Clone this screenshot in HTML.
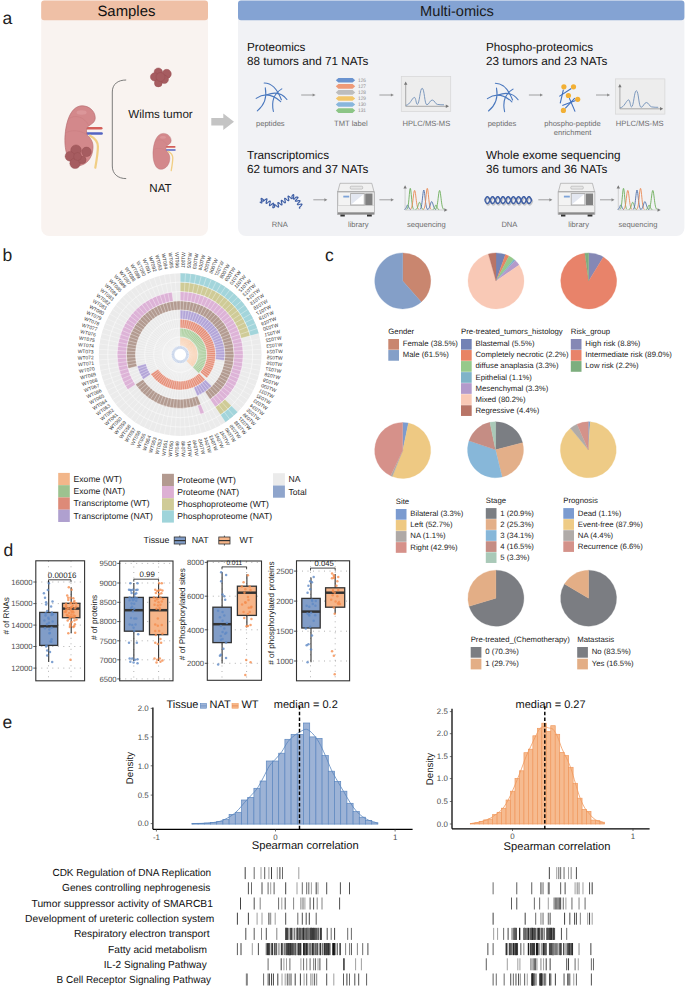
<!DOCTYPE html>
<html><head><meta charset="utf-8"><style>
html,body{margin:0;padding:0;background:#fff;width:685px;height:992px;overflow:hidden}
svg{display:block;text-rendering:geometricPrecision}
text{font-family:"Liberation Sans",sans-serif}
</style></head><body>
<svg width="685" height="992" viewBox="0 0 685 992" font-family="Liberation Sans, sans-serif">
<rect width="685" height="992" fill="#fff"/>
<text x="2.6" y="24.3" font-size="17.5" fill="#222">a</text>
<path d="M41.2,3.5 a3,3 0 0 1 3,-3 h160.8 a3,3 0 0 1 3,3 V228 a8,8 0 0 1 -8,8 H49.2 a8,8 0 0 1 -8,-8 Z" fill="#F9F3F0"/>
<path d="M41.2,3.5 a3,3 0 0 1 3,-3 h160.8 a3,3 0 0 1 3,3 V17.3 a3,3 0 0 1 -3,3 H44.2 a3,3 0 0 1 -3,-3 Z" fill="#EFC0A6"/>
<text x="126.4" y="15.9" font-size="14.9" text-anchor="middle" fill="#111">Samples</text>
<path d="M238,3.5 a3,3 0 0 1 3,-3 h440.4 a3,3 0 0 1 3,3 V228 a8,8 0 0 1 -8,8 H246 a8,8 0 0 1 -8,-8 Z" fill="#F1F2F5"/>
<path d="M238,3.5 a3,3 0 0 1 3,-3 h440.4 a3,3 0 0 1 3,3 V17.3 a3,3 0 0 1 -3,3 H241 a3,3 0 0 1 -3,-3 Z" fill="#84A3D3"/>
<text x="457" y="15.9" font-size="14.6" text-anchor="middle" fill="#1a1a1a">Multi-omics</text>
<path d="M211.3,118 h12 v-4.5 l10.7,8.2 l-10.7,8.2 v-4.5 h-12 Z" fill="#C4C4C4"/>
<g transform="translate(64.6,105.5) scale(1.0)"><path d="M22.5,22.8 L36.6,22.8" stroke="#D45F5A" stroke-width="2.6" stroke-linecap="round"/><path d="M22.5,28.1 L37,28.1" stroke="#5364C2" stroke-width="2.5" stroke-linecap="round"/><path d="M25.5,30.2 C31,33 33.3,36 33.3,41 C33.3,47 32,55 30.7,62.2" fill="none" stroke="#F1CE84" stroke-width="2.2" stroke-linecap="round"/><path d="M17.6,0.3 C24,0.3 30.3,5 30.6,12 C30.9,17 26,19 23.2,21 C21.6,23 21.6,27.5 22.6,29.4 C25,32 28.6,35 28.4,42 C28.1,52 22,60.2 13,60.2 C5,60.2 0.3,48 0.3,35 C0.3,20 5,0.3 17.6,0.3 Z" fill="#D3888B" stroke="#B86D71" stroke-width="0.7"/><path d="M4.5,13 C10,9 20,11 24,20" fill="none" stroke="#C27579" stroke-width="0.6" opacity="0.55"/><path d="M1.5,27 C8,24 16,25 22,29" fill="none" stroke="#C27579" stroke-width="0.6" opacity="0.55"/><ellipse cx="17" cy="7" rx="5" ry="2.2" fill="#DE9DA0" opacity="0.7"/><circle cx="11.4" cy="44.7" r="5.3" fill="#A65C60" stroke="#924B4F" stroke-width="0.4"/><circle cx="21.9" cy="46.4" r="4.8" fill="#A65C60" stroke="#924B4F" stroke-width="0.4"/><circle cx="5.3" cy="50.8" r="4.8" fill="#A65C60" stroke="#924B4F" stroke-width="0.4"/><circle cx="10.5" cy="57.8" r="5.3" fill="#A65C60" stroke="#924B4F" stroke-width="0.4"/><circle cx="17.6" cy="54.3" r="3.9" fill="#A65C60" stroke="#924B4F" stroke-width="0.4"/><circle cx="13" cy="51" r="4" fill="#A65C60" stroke="#924B4F" stroke-width="0.4"/></g>
<circle cx="158.3" cy="72.1" r="4.2" fill="#A65C60" stroke="#94494E" stroke-width="0.4"/>
<circle cx="166.7" cy="73.9" r="4.6" fill="#A65C60" stroke="#94494E" stroke-width="0.4"/>
<circle cx="154.6" cy="76.9" r="4.2" fill="#A65C60" stroke="#94494E" stroke-width="0.4"/>
<circle cx="164.3" cy="79.4" r="4.2" fill="#A65C60" stroke="#94494E" stroke-width="0.4"/>
<circle cx="158.3" cy="83" r="3.9" fill="#A65C60" stroke="#94494E" stroke-width="0.4"/>
<circle cx="160.5" cy="77" r="4.5" fill="#A65C60" stroke="#94494E" stroke-width="0.4"/>
<g transform="translate(152.8,133.2) scale(0.6)"><path d="M22.5,22.8 L36.6,22.8" stroke="#D45F5A" stroke-width="2.6" stroke-linecap="round"/><path d="M22.5,28.1 L37,28.1" stroke="#5364C2" stroke-width="2.5" stroke-linecap="round"/><path d="M25.5,30.2 C31,33 33.3,36 33.3,41 C33.3,47 32,55 30.7,62.2" fill="none" stroke="#F1CE84" stroke-width="2.2" stroke-linecap="round"/><path d="M17.6,0.3 C24,0.3 30.3,5 30.6,12 C30.9,17 26,19 23.2,21 C21.6,23 21.6,27.5 22.6,29.4 C25,32 28.6,35 28.4,42 C28.1,52 22,60.2 13,60.2 C5,60.2 0.3,48 0.3,35 C0.3,20 5,0.3 17.6,0.3 Z" fill="#D3888B" stroke="#B86D71" stroke-width="0.7"/><path d="M4.5,13 C10,9 20,11 24,20" fill="none" stroke="#C27579" stroke-width="0.6" opacity="0.55"/><path d="M1.5,27 C8,24 16,25 22,29" fill="none" stroke="#C27579" stroke-width="0.6" opacity="0.55"/><ellipse cx="17" cy="7" rx="5" ry="2.2" fill="#DE9DA0" opacity="0.7"/></g>
<path d="M126.2,80 C118,80 112.3,84 112.3,92 V166 C112.3,174 118,178.6 126.2,178.6" fill="none" stroke="#6E6E6E" stroke-width="0.9"/>
<text x="160.5" y="118" font-size="11.6" text-anchor="middle" fill="#1a1a1a">Wilms tumor</text>
<text x="160.5" y="191.6" font-size="11.6" text-anchor="middle" fill="#1a1a1a">NAT</text>
<text x="247" y="51.2" font-size="11.7" fill="#111">Proteomics</text>
<text x="247" y="65.0" font-size="11.7" fill="#111">88 tumors and 71 NATs</text>
<text x="486" y="51.2" font-size="11.7" fill="#111">Phospho-proteomics</text>
<text x="486" y="65.0" font-size="11.7" fill="#111">23 tumors and 23 NATs</text>
<text x="247" y="159.3" font-size="11.7" fill="#111">Transcriptomics</text>
<text x="247" y="173.10000000000002" font-size="11.7" fill="#111">62 tumors and 37 NATs</text>
<text x="486" y="159.3" font-size="11.7" fill="#111">Whole exome sequencing</text>
<text x="486" y="173.10000000000002" font-size="11.7" fill="#111">36 tumors and 36 NATs</text>
<text x="270.3" y="125.7" font-size="7.6" text-anchor="middle" fill="#6e6e6e">peptides</text>
<text x="350.9" y="125.7" font-size="7.6" text-anchor="middle" fill="#6e6e6e">TMT label</text>
<text x="426.4" y="125.7" font-size="7.6" text-anchor="middle" fill="#6e6e6e">HPLC/MS-MS</text>
<text x="502" y="125.7" font-size="7.6" text-anchor="middle" fill="#6e6e6e">peptides</text>
<text x="572.5" y="125.7" font-size="7.6" text-anchor="middle" fill="#6e6e6e">phospho-peptide</text>
<text x="572.5" y="134.8" font-size="7.6" text-anchor="middle" fill="#6e6e6e">enrichment</text>
<text x="639.7" y="125.7" font-size="7.6" text-anchor="middle" fill="#6e6e6e">HPLC/MS-MS</text>
<text x="279.7" y="226.8" font-size="7.6" text-anchor="middle" fill="#6e6e6e">RNA</text>
<text x="358.3" y="226.8" font-size="7.6" text-anchor="middle" fill="#6e6e6e">library</text>
<text x="426.4" y="226.8" font-size="7.6" text-anchor="middle" fill="#6e6e6e">sequencing</text>
<text x="509.4" y="226.8" font-size="7.6" text-anchor="middle" fill="#6e6e6e">DNA</text>
<text x="578.6" y="226.8" font-size="7.6" text-anchor="middle" fill="#6e6e6e">library</text>
<text x="638" y="226.8" font-size="7.6" text-anchor="middle" fill="#6e6e6e">sequencing</text>
<line x1="301.2" y1="95" x2="313.6" y2="95" stroke="#8a8a8a" stroke-width="0.8"/><path d="M315.6,95 l-3,-1.6 v3.2 Z" fill="#8a8a8a"/>
<line x1="379.4" y1="95" x2="391.9" y2="95" stroke="#8a8a8a" stroke-width="0.8"/><path d="M393.9,95 l-3,-1.6 v3.2 Z" fill="#8a8a8a"/>
<line x1="528.9" y1="95" x2="541" y2="95" stroke="#8a8a8a" stroke-width="0.8"/><path d="M543,95 l-3,-1.6 v3.2 Z" fill="#8a8a8a"/>
<line x1="596" y1="95" x2="608.1" y2="95" stroke="#8a8a8a" stroke-width="0.8"/><path d="M610.1,95 l-3,-1.6 v3.2 Z" fill="#8a8a8a"/>
<line x1="313.3" y1="199.8" x2="325.4" y2="199.8" stroke="#8a8a8a" stroke-width="0.8"/><path d="M327.4,199.8 l-3,-1.6 v3.2 Z" fill="#8a8a8a"/>
<line x1="379.4" y1="199.8" x2="391.9" y2="199.8" stroke="#8a8a8a" stroke-width="0.8"/><path d="M393.9,199.8 l-3,-1.6 v3.2 Z" fill="#8a8a8a"/>
<line x1="538.3" y1="199.8" x2="550.4" y2="199.8" stroke="#8a8a8a" stroke-width="0.8"/><path d="M552.4,199.8 l-3,-1.6 v3.2 Z" fill="#8a8a8a"/>
<line x1="600" y1="199.8" x2="612.5" y2="199.8" stroke="#8a8a8a" stroke-width="0.8"/><path d="M614.5,199.8 l-3,-1.6 v3.2 Z" fill="#8a8a8a"/>
<g transform="translate(0,0)" fill="none" stroke="#4A78BE" stroke-width="1.1" stroke-linecap="round"><path d="M264.2,83 Q275,83 281.4,99.8"/><path d="M265.3,87.8 Q268,102 257.3,110.8"/><path d="M256.2,98.4 Q268,90 280.7,101.6"/><path d="M273.4,111.5 Q270,96 281.8,88.9"/><path d="M266.8,94.7 Q280,90 286.9,99.5"/></g>
<g transform="translate(231.2,0.2)" fill="none" stroke="#4A78BE" stroke-width="1.1" stroke-linecap="round"><path d="M264.2,83 Q275,83 281.4,99.8"/><path d="M265.3,87.8 Q268,102 257.3,110.8"/><path d="M256.2,98.4 Q268,90 280.7,101.6"/><path d="M273.4,111.5 Q270,96 281.8,88.9"/><path d="M266.8,94.7 Q280,90 286.9,99.5"/></g>
<path d="M335.8,80.30 l2.6,-2.3 h14.2 l2.6,2.3 l-2.6,2.3 h-14.2 Z" fill="#6A93CF"/>
<text x="358" y="82.10" font-size="5" fill="#8a8a8a" textLength="8" lengthAdjust="spacingAndGlyphs">126</text>
<path d="M335.8,86.36 l2.6,-2.3 h14.2 l2.6,2.3 l-2.6,2.3 h-14.2 Z" fill="#EE9A78"/>
<text x="358" y="88.16" font-size="5" fill="#8a8a8a" textLength="8" lengthAdjust="spacingAndGlyphs">127</text>
<path d="M335.8,92.42 l2.6,-2.3 h14.2 l2.6,2.3 l-2.6,2.3 h-14.2 Z" fill="#BDBDBD"/>
<text x="358" y="94.22" font-size="5" fill="#8a8a8a" textLength="8" lengthAdjust="spacingAndGlyphs">128</text>
<path d="M335.8,98.48 l2.6,-2.3 h14.2 l2.6,2.3 l-2.6,2.3 h-14.2 Z" fill="#F2C66A"/>
<text x="358" y="100.28" font-size="5" fill="#8a8a8a" textLength="8" lengthAdjust="spacingAndGlyphs">129</text>
<path d="M335.8,104.54 l2.6,-2.3 h14.2 l2.6,2.3 l-2.6,2.3 h-14.2 Z" fill="#88B6DC"/>
<text x="358" y="106.34" font-size="5" fill="#8a8a8a" textLength="8" lengthAdjust="spacingAndGlyphs">130</text>
<path d="M335.8,110.60 l2.6,-2.3 h14.2 l2.6,2.3 l-2.6,2.3 h-14.2 Z" fill="#8CC586"/>
<text x="358" y="112.40" font-size="5" fill="#8a8a8a" textLength="8" lengthAdjust="spacingAndGlyphs">131</text>
<g transform="translate(0,0)"><rect x="401.3" y="76.4" width="49.4" height="35.2" fill="#EDEDED" stroke="#D6D6D6" stroke-width="0.7"/><path d="M405.7,84 V106.3 H446" fill="none" stroke="#8A8A8A" stroke-width="0.7"/><path d="M405.7,81.5 l-1.7,3.2 h3.4 Z M449,106.3 l-3.2,-1.7 v3.4 Z" fill="#777"/><path d="M405.9,105.3 C410,105 412,98 414.2,97.4 C416,97 416,104.4 417.3,104.4 C419.5,104.4 420,88.2 422.1,88.2 C424.5,88.2 424.5,104.8 426.9,104.8 C429,104.8 430,100 432.2,100 C434.5,100 435.5,104.4 437.4,104.4 C440,104.8 442,104.8 444,104.8" fill="none" stroke="#7090B8" stroke-width="0.9"/></g>
<g transform="translate(214.2,2.5)"><rect x="401.3" y="76.4" width="49.4" height="35.2" fill="#EDEDED" stroke="#D6D6D6" stroke-width="0.7"/><path d="M405.7,84 V106.3 H446" fill="none" stroke="#8A8A8A" stroke-width="0.7"/><path d="M405.7,81.5 l-1.7,3.2 h3.4 Z M449,106.3 l-3.2,-1.7 v3.4 Z" fill="#777"/><path d="M405.9,105.3 C410,105 412,98 414.2,97.4 C416,97 416,104.4 417.3,104.4 C419.5,104.4 420,88.2 422.1,88.2 C424.5,88.2 424.5,104.8 426.9,104.8 C429,104.8 430,100 432.2,100 C434.5,100 435.5,104.4 437.4,104.4 C440,104.8 442,104.8 444,104.8" fill="none" stroke="#7090B8" stroke-width="0.9"/></g>
<line x1="563.4" y1="89.7" x2="560.2" y2="103.4" stroke="#3F6FBE" stroke-width="1.1"/>
<line x1="571.3" y1="88.5" x2="559.3" y2="96.4" stroke="#3F6FBE" stroke-width="1.1"/>
<line x1="569.3" y1="98.1" x2="575.1" y2="111.6" stroke="#3F6FBE" stroke-width="1.1"/>
<line x1="574.8" y1="98.1" x2="565.2" y2="108.4" stroke="#3F6FBE" stroke-width="1.1"/>
<line x1="562.3" y1="105.4" x2="575.7" y2="100.5" stroke="#3F6FBE" stroke-width="1.1"/>
<circle cx="563.9" cy="86.8" r="2.6" fill="#F2B035"/>
<circle cx="573.5" cy="86.8" r="2.6" fill="#F2B035"/>
<circle cx="568.4" cy="95.5" r="2.6" fill="#F2B035"/>
<circle cx="577.7" cy="99.3" r="2.6" fill="#F2B035"/>
<circle cx="563.4" cy="110.4" r="2.6" fill="#F2B035"/>
<path d="M259.80,201.80 L260.65,202.52 L261.34,203.00 L261.77,203.04 L261.89,202.61 L261.76,201.75 L261.48,200.67 L261.21,199.60 L261.10,198.79 L261.26,198.41 L261.73,198.52 L262.45,199.04 L263.30,199.78 L264.14,200.48 L262.75,200.88 L262.93,201.23 L263.42,201.10 L264.18,200.57 L265.06,199.85 L265.91,199.18 L266.57,198.81 L266.93,198.88 L266.97,199.43 L266.76,200.37 L266.43,201.47 L266.16,202.49 L266.09,203.20 L266.33,203.45 L266.89,203.23 L267.68,202.65 L268.58,201.91 L269.40,201.29 L270.00,200.99 L270.29,201.17 L270.27,201.81 L270.03,202.80 L269.70,203.90 L269.46,204.88 L269.45,205.50 L269.75,205.66 L270.37,205.35 L271.19,204.71 L272.09,203.98 L272.88,203.41 L273.42,203.20 L273.65,203.47 L273.57,204.20 L273.29,205.23 L272.97,206.33 L272.77,207.25 L272.82,207.79 L273.19,207.84 L273.85,207.45 L274.71,206.78 L274.63,206.04 L274.47,205.15 L274.56,204.67 L274.96,204.67 L275.64,205.11 L276.48,205.82 L277.34,206.55 L278.05,207.05 L278.51,207.14 L278.65,206.74 L278.53,205.91 L278.25,204.83 L277.97,203.75 L277.85,202.91 L277.99,202.51 L278.45,202.59 L279.16,203.09 L280.02,203.82 L280.86,204.53 L281.54,204.98 L281.94,204.98 L282.04,204.50 L281.88,203.61 L281.59,202.51 L281.33,201.46 L281.24,200.68 L281.44,200.36 L281.94,200.52 L282.69,201.08 L283.56,201.83 L284.38,202.51 L285.02,202.89 L285.37,202.81 L285.42,202.25 L285.22,201.31 L284.93,200.20 L284.68,199.17 L284.64,198.47 L284.89,198.23 L285.44,198.47 L286.22,199.08 L287.09,199.83 L287.90,200.47 L288.49,200.78 L288.79,200.62 L288.79,199.98 L288.57,199.00 L288.27,197.88 L288.05,196.90 L288.05,196.27 L288.35,196.11 L288.95,196.43 L289.75,197.07 L290.63,197.83 L291.40,198.43 L291.95,198.66 L292.19,198.42 L292.15,197.71 L291.90,196.68 L292.30,195.53 L292.98,194.85 L293.47,194.58 L293.72,194.84 L293.76,195.58 L293.65,196.64 L293.51,197.77 L293.46,198.70 L293.61,199.21 L293.98,199.20 L294.57,198.70 L295.30,197.90 L296.06,197.05 L297.50,197.14 L297.99,197.26 L297.97,197.66 L297.48,198.33 L296.73,199.16 L295.96,199.99 L295.44,200.68 L295.36,201.12 L295.80,201.26 L296.68,201.16 L297.80,200.91 L298.89,200.68 L299.69,200.62 L300.02,200.82 L299.85,201.32 L299.26,202.05 L298.47,202.89 L297.75,203.70 L297.35,204.32 L297.43,204.67 L298.02,204.73 L298.99,204.56 L300.13,204.31 L301.15,204.11 L301.83,204.13 L302.00,204.42 L301.69,204.99 L301.01,205.77 L300.21,206.62 L299.56,207.39 L299.30,207.93 L299.54,208.19 L300.27,208.17" fill="none" stroke="#3F5FA5" stroke-width="1.15" stroke-linejoin="round"/>
<g><path d="M484.80,200.10 L485.03,200.58 L485.27,201.05 L485.50,201.50 L485.74,201.93 L485.97,202.31 L486.21,202.65 L486.44,202.95 L486.68,203.18 L486.91,203.35 L487.15,203.46 L487.38,203.50 L487.61,203.47 L487.85,203.38 L488.08,203.21 L488.32,202.99 L488.55,202.71 L488.79,202.38 L489.02,202.00 L489.26,201.58 L489.49,201.13 L489.72,200.66 L489.96,200.18 L490.19,199.70 L490.43,199.23 L490.66,198.78 L490.90,198.35 L491.13,197.95 L491.37,197.60 L491.60,197.30 L491.84,197.06 L492.07,196.87 L492.30,196.75 L492.54,196.70 L492.77,196.72 L493.01,196.80 L493.24,196.95 L493.48,197.17 L493.71,197.44 L493.95,197.76 L494.18,198.13 L494.41,198.55 L494.65,198.99 L494.88,199.45 L495.12,199.93 L495.35,200.41 L495.59,200.89 L495.82,201.35 L496.06,201.78 L496.29,202.18 L496.53,202.54 L496.76,202.85 L496.99,203.10 L497.23,203.30 L497.46,203.43 L497.70,203.49 L497.93,203.49 L498.17,203.42 L498.40,203.28 L498.64,203.08 L498.87,202.81 L499.10,202.50 L499.34,202.13 L499.57,201.73 L499.81,201.29 L500.04,200.83 L500.28,200.35 L500.51,199.87 L500.75,199.39 L500.98,198.93 L501.22,198.49 L501.45,198.09 L501.68,197.72 L501.92,197.40 L502.15,197.14 L502.39,196.93 L502.62,196.79 L502.86,196.71 L503.09,196.71 L503.33,196.77 L503.56,196.89 L503.79,197.08 L504.03,197.34 L504.26,197.64 L504.50,198.00 L504.73,198.40 L504.97,198.83 L505.20,199.29 L505.44,199.76 L505.67,200.24 L505.91,200.72 L506.14,201.19 L506.37,201.63 L506.61,202.05 L506.84,202.42 L507.08,202.75 L507.31,203.02 L507.55,203.24 L507.78,203.39 L508.02,203.48 L508.25,203.50 L508.48,203.45 L508.72,203.33 L508.95,203.15 L509.19,202.91 L509.42,202.61 L509.66,202.27 L509.89,201.87 L510.13,201.45 L510.36,200.99 L510.60,200.52 L510.83,200.04 L511.06,199.56 L511.30,199.09 L511.53,198.64 L511.77,198.22 L512.00,197.84 L512.24,197.51 L512.47,197.22 L512.71,196.99 L512.94,196.83 L513.17,196.73 L513.41,196.70 L513.64,196.74 L513.88,196.84 L514.11,197.01 L514.35,197.24 L514.58,197.53 L514.82,197.87 L515.05,198.25 L515.29,198.68 L515.52,199.13 L515.75,199.60 L515.99,200.08 L516.22,200.56 L516.46,201.03 L516.69,201.48 L516.93,201.91 L517.16,202.29 L517.40,202.64 L517.63,202.93 L517.86,203.17 L518.10,203.35 L518.33,203.46 L518.57,203.50 L518.80,203.47 L519.04,203.38 L519.27,203.22 L519.51,203.00 L519.74,202.72 L519.98,202.39 L520.21,202.02 L520.44,201.60 L520.68,201.15 L520.91,200.69 L521.15,200.21 L521.38,199.73 L521.62,199.25 L521.85,198.80 L522.09,198.37 L522.32,197.97 L522.55,197.62 L522.79,197.31 L523.02,197.07 L523.26,196.88 L523.49,196.76 L523.73,196.70 L523.96,196.72 L524.20,196.80 L524.43,196.94 L524.67,197.15 L524.90,197.42 L525.13,197.75 L525.37,198.12 L525.60,198.53 L525.84,198.97 L526.07,199.43 L526.31,199.91 L526.54,200.39 L526.78,200.86 L527.01,201.32 L527.24,201.76 L527.48,202.16 L527.71,202.52 L527.95,202.84 L528.18,203.09 L528.42,203.29 L528.65,203.42 L528.89,203.49 L529.12,203.49 L529.36,203.42 L529.59,203.29 L529.82,203.09 L530.06,202.83 L530.29,202.51 L530.53,202.15 L530.76,201.75 L531.00,201.31 L531.23,200.85 L531.47,200.38 L531.70,199.89" transform="translate(0.8,1.4)" fill="none" stroke="#9a9a9a" stroke-width="1.6" opacity="0.5"/><path d="M484.80,200.10 L485.03,199.62 L485.27,199.15 L485.50,198.70 L485.74,198.27 L485.97,197.89 L486.21,197.55 L486.44,197.25 L486.68,197.02 L486.91,196.85 L487.15,196.74 L487.38,196.70 L487.61,196.73 L487.85,196.82 L488.08,196.99 L488.32,197.21 L488.55,197.49 L488.79,197.82 L489.02,198.20 L489.26,198.62 L489.49,199.07 L489.72,199.54 L489.96,200.02 L490.19,200.50 L490.43,200.97 L490.66,201.42 L490.90,201.85 L491.13,202.25 L491.37,202.60 L491.60,202.90 L491.84,203.14 L492.07,203.33 L492.30,203.45 L492.54,203.50 L492.77,203.48 L493.01,203.40 L493.24,203.25 L493.48,203.03 L493.71,202.76 L493.95,202.44 L494.18,202.07 L494.41,201.65 L494.65,201.21 L494.88,200.75 L495.12,200.27 L495.35,199.79 L495.59,199.31 L495.82,198.85 L496.06,198.42 L496.29,198.02 L496.53,197.66 L496.76,197.35 L496.99,197.10 L497.23,196.90 L497.46,196.77 L497.70,196.71 L497.93,196.71 L498.17,196.78 L498.40,196.92 L498.64,197.12 L498.87,197.39 L499.10,197.70 L499.34,198.07 L499.57,198.47 L499.81,198.91 L500.04,199.37 L500.28,199.85 L500.51,200.33 L500.75,200.81 L500.98,201.27 L501.22,201.71 L501.45,202.11 L501.68,202.48 L501.92,202.80 L502.15,203.06 L502.39,203.27 L502.62,203.41 L502.86,203.49 L503.09,203.49 L503.33,203.43 L503.56,203.31 L503.79,203.12 L504.03,202.86 L504.26,202.56 L504.50,202.20 L504.73,201.80 L504.97,201.37 L505.20,200.91 L505.44,200.44 L505.67,199.96 L505.91,199.48 L506.14,199.01 L506.37,198.57 L506.61,198.15 L506.84,197.78 L507.08,197.45 L507.31,197.18 L507.55,196.96 L507.78,196.81 L508.02,196.72 L508.25,196.70 L508.48,196.75 L508.72,196.87 L508.95,197.05 L509.19,197.29 L509.42,197.59 L509.66,197.93 L509.89,198.33 L510.13,198.75 L510.36,199.21 L510.60,199.68 L510.83,200.16 L511.06,200.64 L511.30,201.11 L511.53,201.56 L511.77,201.98 L512.00,202.36 L512.24,202.69 L512.47,202.98 L512.71,203.21 L512.94,203.37 L513.17,203.47 L513.41,203.50 L513.64,203.46 L513.88,203.36 L514.11,203.19 L514.35,202.96 L514.58,202.67 L514.82,202.33 L515.05,201.95 L515.29,201.52 L515.52,201.07 L515.75,200.60 L515.99,200.12 L516.22,199.64 L516.46,199.17 L516.69,198.72 L516.93,198.29 L517.16,197.91 L517.40,197.56 L517.63,197.27 L517.86,197.03 L518.10,196.85 L518.33,196.74 L518.57,196.70 L518.80,196.73 L519.04,196.82 L519.27,196.98 L519.51,197.20 L519.74,197.48 L519.98,197.81 L520.21,198.18 L520.44,198.60 L520.68,199.05 L520.91,199.51 L521.15,199.99 L521.38,200.47 L521.62,200.95 L521.85,201.40 L522.09,201.83 L522.32,202.23 L522.55,202.58 L522.79,202.89 L523.02,203.13 L523.26,203.32 L523.49,203.44 L523.73,203.50 L523.96,203.48 L524.20,203.40 L524.43,203.26 L524.67,203.05 L524.90,202.78 L525.13,202.45 L525.37,202.08 L525.60,201.67 L525.84,201.23 L526.07,200.77 L526.31,200.29 L526.54,199.81 L526.78,199.34 L527.01,198.88 L527.24,198.44 L527.48,198.04 L527.71,197.68 L527.95,197.36 L528.18,197.11 L528.42,196.91 L528.65,196.78 L528.89,196.71 L529.12,196.71 L529.36,196.78 L529.59,196.91 L529.82,197.11 L530.06,197.37 L530.29,197.69 L530.53,198.05 L530.76,198.45 L531.00,198.89 L531.23,199.35 L531.47,199.82 L531.70,200.31" transform="translate(0.8,1.4)" fill="none" stroke="#9a9a9a" stroke-width="1.6" opacity="0.5"/><path d="M484.80,200.10 L485.03,200.58 L485.27,201.05 L485.50,201.50 L485.74,201.93 L485.97,202.31 L486.21,202.65 L486.44,202.95 L486.68,203.18 L486.91,203.35 L487.15,203.46 L487.38,203.50 L487.61,203.47 L487.85,203.38 L488.08,203.21 L488.32,202.99 L488.55,202.71 L488.79,202.38 L489.02,202.00 L489.26,201.58 L489.49,201.13 L489.72,200.66 L489.96,200.18 L490.19,199.70 L490.43,199.23 L490.66,198.78 L490.90,198.35 L491.13,197.95 L491.37,197.60 L491.60,197.30 L491.84,197.06 L492.07,196.87 L492.30,196.75 L492.54,196.70 L492.77,196.72 L493.01,196.80 L493.24,196.95 L493.48,197.17 L493.71,197.44 L493.95,197.76 L494.18,198.13 L494.41,198.55 L494.65,198.99 L494.88,199.45 L495.12,199.93 L495.35,200.41 L495.59,200.89 L495.82,201.35 L496.06,201.78 L496.29,202.18 L496.53,202.54 L496.76,202.85 L496.99,203.10 L497.23,203.30 L497.46,203.43 L497.70,203.49 L497.93,203.49 L498.17,203.42 L498.40,203.28 L498.64,203.08 L498.87,202.81 L499.10,202.50 L499.34,202.13 L499.57,201.73 L499.81,201.29 L500.04,200.83 L500.28,200.35 L500.51,199.87 L500.75,199.39 L500.98,198.93 L501.22,198.49 L501.45,198.09 L501.68,197.72 L501.92,197.40 L502.15,197.14 L502.39,196.93 L502.62,196.79 L502.86,196.71 L503.09,196.71 L503.33,196.77 L503.56,196.89 L503.79,197.08 L504.03,197.34 L504.26,197.64 L504.50,198.00 L504.73,198.40 L504.97,198.83 L505.20,199.29 L505.44,199.76 L505.67,200.24 L505.91,200.72 L506.14,201.19 L506.37,201.63 L506.61,202.05 L506.84,202.42 L507.08,202.75 L507.31,203.02 L507.55,203.24 L507.78,203.39 L508.02,203.48 L508.25,203.50 L508.48,203.45 L508.72,203.33 L508.95,203.15 L509.19,202.91 L509.42,202.61 L509.66,202.27 L509.89,201.87 L510.13,201.45 L510.36,200.99 L510.60,200.52 L510.83,200.04 L511.06,199.56 L511.30,199.09 L511.53,198.64 L511.77,198.22 L512.00,197.84 L512.24,197.51 L512.47,197.22 L512.71,196.99 L512.94,196.83 L513.17,196.73 L513.41,196.70 L513.64,196.74 L513.88,196.84 L514.11,197.01 L514.35,197.24 L514.58,197.53 L514.82,197.87 L515.05,198.25 L515.29,198.68 L515.52,199.13 L515.75,199.60 L515.99,200.08 L516.22,200.56 L516.46,201.03 L516.69,201.48 L516.93,201.91 L517.16,202.29 L517.40,202.64 L517.63,202.93 L517.86,203.17 L518.10,203.35 L518.33,203.46 L518.57,203.50 L518.80,203.47 L519.04,203.38 L519.27,203.22 L519.51,203.00 L519.74,202.72 L519.98,202.39 L520.21,202.02 L520.44,201.60 L520.68,201.15 L520.91,200.69 L521.15,200.21 L521.38,199.73 L521.62,199.25 L521.85,198.80 L522.09,198.37 L522.32,197.97 L522.55,197.62 L522.79,197.31 L523.02,197.07 L523.26,196.88 L523.49,196.76 L523.73,196.70 L523.96,196.72 L524.20,196.80 L524.43,196.94 L524.67,197.15 L524.90,197.42 L525.13,197.75 L525.37,198.12 L525.60,198.53 L525.84,198.97 L526.07,199.43 L526.31,199.91 L526.54,200.39 L526.78,200.86 L527.01,201.32 L527.24,201.76 L527.48,202.16 L527.71,202.52 L527.95,202.84 L528.18,203.09 L528.42,203.29 L528.65,203.42 L528.89,203.49 L529.12,203.49 L529.36,203.42 L529.59,203.29 L529.82,203.09 L530.06,202.83 L530.29,202.51 L530.53,202.15 L530.76,201.75 L531.00,201.31 L531.23,200.85 L531.47,200.38 L531.70,199.89" fill="none" stroke="#3F5FA5" stroke-width="1.5"/><path d="M484.80,200.10 L485.03,199.62 L485.27,199.15 L485.50,198.70 L485.74,198.27 L485.97,197.89 L486.21,197.55 L486.44,197.25 L486.68,197.02 L486.91,196.85 L487.15,196.74 L487.38,196.70 L487.61,196.73 L487.85,196.82 L488.08,196.99 L488.32,197.21 L488.55,197.49 L488.79,197.82 L489.02,198.20 L489.26,198.62 L489.49,199.07 L489.72,199.54 L489.96,200.02 L490.19,200.50 L490.43,200.97 L490.66,201.42 L490.90,201.85 L491.13,202.25 L491.37,202.60 L491.60,202.90 L491.84,203.14 L492.07,203.33 L492.30,203.45 L492.54,203.50 L492.77,203.48 L493.01,203.40 L493.24,203.25 L493.48,203.03 L493.71,202.76 L493.95,202.44 L494.18,202.07 L494.41,201.65 L494.65,201.21 L494.88,200.75 L495.12,200.27 L495.35,199.79 L495.59,199.31 L495.82,198.85 L496.06,198.42 L496.29,198.02 L496.53,197.66 L496.76,197.35 L496.99,197.10 L497.23,196.90 L497.46,196.77 L497.70,196.71 L497.93,196.71 L498.17,196.78 L498.40,196.92 L498.64,197.12 L498.87,197.39 L499.10,197.70 L499.34,198.07 L499.57,198.47 L499.81,198.91 L500.04,199.37 L500.28,199.85 L500.51,200.33 L500.75,200.81 L500.98,201.27 L501.22,201.71 L501.45,202.11 L501.68,202.48 L501.92,202.80 L502.15,203.06 L502.39,203.27 L502.62,203.41 L502.86,203.49 L503.09,203.49 L503.33,203.43 L503.56,203.31 L503.79,203.12 L504.03,202.86 L504.26,202.56 L504.50,202.20 L504.73,201.80 L504.97,201.37 L505.20,200.91 L505.44,200.44 L505.67,199.96 L505.91,199.48 L506.14,199.01 L506.37,198.57 L506.61,198.15 L506.84,197.78 L507.08,197.45 L507.31,197.18 L507.55,196.96 L507.78,196.81 L508.02,196.72 L508.25,196.70 L508.48,196.75 L508.72,196.87 L508.95,197.05 L509.19,197.29 L509.42,197.59 L509.66,197.93 L509.89,198.33 L510.13,198.75 L510.36,199.21 L510.60,199.68 L510.83,200.16 L511.06,200.64 L511.30,201.11 L511.53,201.56 L511.77,201.98 L512.00,202.36 L512.24,202.69 L512.47,202.98 L512.71,203.21 L512.94,203.37 L513.17,203.47 L513.41,203.50 L513.64,203.46 L513.88,203.36 L514.11,203.19 L514.35,202.96 L514.58,202.67 L514.82,202.33 L515.05,201.95 L515.29,201.52 L515.52,201.07 L515.75,200.60 L515.99,200.12 L516.22,199.64 L516.46,199.17 L516.69,198.72 L516.93,198.29 L517.16,197.91 L517.40,197.56 L517.63,197.27 L517.86,197.03 L518.10,196.85 L518.33,196.74 L518.57,196.70 L518.80,196.73 L519.04,196.82 L519.27,196.98 L519.51,197.20 L519.74,197.48 L519.98,197.81 L520.21,198.18 L520.44,198.60 L520.68,199.05 L520.91,199.51 L521.15,199.99 L521.38,200.47 L521.62,200.95 L521.85,201.40 L522.09,201.83 L522.32,202.23 L522.55,202.58 L522.79,202.89 L523.02,203.13 L523.26,203.32 L523.49,203.44 L523.73,203.50 L523.96,203.48 L524.20,203.40 L524.43,203.26 L524.67,203.05 L524.90,202.78 L525.13,202.45 L525.37,202.08 L525.60,201.67 L525.84,201.23 L526.07,200.77 L526.31,200.29 L526.54,199.81 L526.78,199.34 L527.01,198.88 L527.24,198.44 L527.48,198.04 L527.71,197.68 L527.95,197.36 L528.18,197.11 L528.42,196.91 L528.65,196.78 L528.89,196.71 L529.12,196.71 L529.36,196.78 L529.59,196.91 L529.82,197.11 L530.06,197.37 L530.29,197.69 L530.53,198.05 L530.76,198.45 L531.00,198.89 L531.23,199.35 L531.47,199.82 L531.70,200.31" fill="none" stroke="#3F5FA5" stroke-width="1.5"/></g>
<g transform="translate(0,0)"><path d="M340,183.3 H371.8 L374,191.7 H337.8 Z" fill="#F1F1F1" stroke="#9A9A9A" stroke-width="0.6"/><rect x="350.2" y="186.2" width="12.5" height="2.9" rx="1" fill="#E6E6E6" stroke="#A0A0A0" stroke-width="0.5"/><rect x="337.5" y="191.7" width="36.8" height="22.6" fill="#EFEFEF" stroke="#9A9A9A" stroke-width="0.6"/><rect x="338" y="192.3" width="36" height="13.3" fill="#F3F3F3" stroke="#B0B0B0" stroke-width="0.4"/><rect x="350.2" y="193.1" width="14.6" height="12.4" fill="#A8A8A8"/><path d="M351.2,194.1 H363.8 V204.5 H351.2 Z" fill="#FFFFFF"/><path d="M351.2,194.1 H363.8 L351.2,204.5 Z" fill="#E3E7F0"/><rect x="365.2" y="193.5" width="7.3" height="11.7" fill="#808080"/><rect x="343.3" y="195.7" width="5.9" height="1.8" fill="#7DA3D8"/><rect x="337.8" y="212.3" width="36.2" height="2" fill="#8A8A8A"/><rect x="340.4" y="214.6" width="4.4" height="1.9" fill="#333"/><rect x="367" y="214.6" width="4.8" height="1.9" fill="#333"/></g>
<g transform="translate(220.59999999999997,0)"><path d="M340,183.3 H371.8 L374,191.7 H337.8 Z" fill="#F1F1F1" stroke="#9A9A9A" stroke-width="0.6"/><rect x="350.2" y="186.2" width="12.5" height="2.9" rx="1" fill="#E6E6E6" stroke="#A0A0A0" stroke-width="0.5"/><rect x="337.5" y="191.7" width="36.8" height="22.6" fill="#EFEFEF" stroke="#9A9A9A" stroke-width="0.6"/><rect x="338" y="192.3" width="36" height="13.3" fill="#F3F3F3" stroke="#B0B0B0" stroke-width="0.4"/><rect x="350.2" y="193.1" width="14.6" height="12.4" fill="#A8A8A8"/><path d="M351.2,194.1 H363.8 V204.5 H351.2 Z" fill="#FFFFFF"/><path d="M351.2,194.1 H363.8 L351.2,204.5 Z" fill="#E3E7F0"/><rect x="365.2" y="193.5" width="7.3" height="11.7" fill="#808080"/><rect x="343.3" y="195.7" width="5.9" height="1.8" fill="#7DA3D8"/><rect x="337.8" y="212.3" width="36.2" height="2" fill="#8A8A8A"/><rect x="340.4" y="214.6" width="4.4" height="1.9" fill="#333"/><rect x="367" y="214.6" width="4.8" height="1.9" fill="#333"/></g>
<g transform="translate(0,0)"><path d="M405.1,188 V210 H445" fill="none" stroke="#C8C8C8" stroke-width="0.8"/><path d="M405.1,185.3 l-1.7,3.2 h3.4 Z M447.5,210 l-3.2,-1.7 v3.4 Z" fill="#777"/><path d="M404.43,209.46 L404.64,209.43 L404.85,209.38 L405.07,209.30 L405.28,209.17 L405.49,208.98 L405.70,208.71 L405.91,208.36 L406.12,207.93 L406.33,207.43 L406.54,206.87 L406.76,206.31 L406.97,205.79 L407.18,205.37 L407.39,205.10 L407.60,205.00 L407.81,205.10 L408.02,205.37 L408.23,205.79 L408.44,206.31 L408.66,206.87 L408.87,207.43 L409.08,207.93 L409.29,208.36 L409.50,208.71 L409.71,208.98 L409.92,209.17 L410.13,209.30 L410.35,209.38 L410.56,209.43 L410.77,209.46" fill="none" stroke="#4E6FA8" stroke-width="0.9"/><path d="M406.74,209.33 L406.97,209.19 L407.21,208.94 L407.45,208.54 L407.69,207.93 L407.92,207.03 L408.16,205.79 L408.40,204.15 L408.64,202.11 L408.87,199.73 L409.11,197.12 L409.35,194.47 L409.59,192.03 L409.82,190.05 L410.06,188.75 L410.30,188.30 L410.54,188.75 L410.78,190.05 L411.01,192.03 L411.25,194.47 L411.49,197.12 L411.73,199.73 L411.96,202.11 L412.20,204.15 L412.44,205.79 L412.68,207.03 L412.91,207.93 L413.15,208.54 L413.39,208.94 L413.63,209.19 L413.86,209.33" fill="none" stroke="#6DAE5A" stroke-width="0.9"/><path d="M410.24,209.35 L410.53,209.22 L410.82,209.00 L411.12,208.64 L411.41,208.09 L411.70,207.28 L411.99,206.16 L412.28,204.68 L412.57,202.84 L412.86,200.70 L413.15,198.34 L413.44,195.96 L413.73,193.76 L414.02,191.97 L414.31,190.81 L414.60,190.40 L414.89,190.81 L415.18,191.97 L415.47,193.76 L415.76,195.96 L416.05,198.34 L416.34,200.70 L416.63,202.84 L416.92,204.68 L417.21,206.16 L417.50,207.28 L417.79,208.09 L418.08,208.64 L418.38,209.00 L418.67,209.22 L418.96,209.35" fill="none" stroke="#E98A55" stroke-width="0.9"/><path d="M415.54,209.44 L415.80,209.39 L416.07,209.31 L416.33,209.17 L416.60,208.97 L416.86,208.66 L417.12,208.24 L417.39,207.68 L417.65,206.99 L417.92,206.18 L418.18,205.29 L418.44,204.40 L418.71,203.57 L418.97,202.89 L419.24,202.45 L419.50,202.30 L419.76,202.45 L420.03,202.89 L420.29,203.57 L420.56,204.40 L420.82,205.29 L421.08,206.18 L421.35,206.99 L421.61,207.68 L421.88,208.24 L422.14,208.66 L422.40,208.97 L422.67,209.17 L422.93,209.31 L423.20,209.39 L423.46,209.44" fill="none" stroke="#6DAE5A" stroke-width="0.9"/><path d="M419.84,209.35 L420.10,209.21 L420.37,208.99 L420.63,208.62 L420.90,208.06 L421.16,207.23 L421.42,206.09 L421.69,204.58 L421.95,202.70 L422.22,200.51 L422.48,198.11 L422.74,195.68 L423.01,193.43 L423.27,191.61 L423.54,190.41 L423.80,190.00 L424.06,190.41 L424.33,191.61 L424.59,193.43 L424.86,195.68 L425.12,198.11 L425.38,200.51 L425.65,202.70 L425.91,204.58 L426.18,206.09 L426.44,207.23 L426.70,208.06 L426.97,208.62 L427.23,208.99 L427.50,209.21 L427.76,209.35" fill="none" stroke="#4E6FA8" stroke-width="0.9"/><path d="M423.34,209.33 L423.60,209.19 L423.87,208.94 L424.13,208.54 L424.40,207.93 L424.66,207.03 L424.92,205.79 L425.19,204.15 L425.45,202.11 L425.72,199.73 L425.98,197.12 L426.24,194.47 L426.51,192.03 L426.77,190.05 L427.04,188.75 L427.30,188.30 L427.56,188.75 L427.83,190.05 L428.09,192.03 L428.36,194.47 L428.62,197.12 L428.88,199.73 L429.15,202.11 L429.41,204.15 L429.68,205.79 L429.94,207.03 L430.20,207.93 L430.47,208.54 L430.73,208.94 L431.00,209.19 L431.26,209.33" fill="none" stroke="#E98A55" stroke-width="0.9"/><path d="M427.34,209.44 L427.63,209.38 L427.92,209.29 L428.22,209.14 L428.51,208.91 L428.80,208.58 L429.09,208.12 L429.38,207.51 L429.67,206.75 L429.96,205.86 L430.25,204.89 L430.54,203.90 L430.83,202.99 L431.12,202.25 L431.41,201.77 L431.70,201.60 L431.99,201.77 L432.28,202.25 L432.57,202.99 L432.86,203.90 L433.15,204.89 L433.44,205.86 L433.73,206.75 L434.02,207.51 L434.31,208.12 L434.60,208.58 L434.89,208.91 L435.18,209.14 L435.48,209.29 L435.77,209.38 L436.06,209.44" fill="none" stroke="#4E6FA8" stroke-width="0.9"/><path d="M432.73,209.46 L432.94,209.43 L433.15,209.38 L433.37,209.30 L433.58,209.17 L433.79,208.98 L434.00,208.71 L434.21,208.36 L434.42,207.93 L434.63,207.43 L434.84,206.87 L435.06,206.31 L435.27,205.79 L435.48,205.37 L435.69,205.10 L435.90,205.00 L436.11,205.10 L436.32,205.37 L436.53,205.79 L436.74,206.31 L436.96,206.87 L437.17,207.43 L437.38,207.93 L437.59,208.36 L437.80,208.71 L438.01,208.98 L438.22,209.17 L438.43,209.30 L438.65,209.38 L438.86,209.43 L439.07,209.46" fill="none" stroke="#6DAE5A" stroke-width="0.9"/><path d="M435.24,209.35 L435.53,209.22 L435.82,209.00 L436.12,208.64 L436.41,208.09 L436.70,207.28 L436.99,206.16 L437.28,204.68 L437.57,202.84 L437.86,200.70 L438.15,198.34 L438.44,195.96 L438.73,193.76 L439.02,191.97 L439.31,190.81 L439.60,190.40 L439.89,190.81 L440.18,191.97 L440.47,193.76 L440.76,195.96 L441.05,198.34 L441.34,200.70 L441.63,202.84 L441.92,204.68 L442.21,206.16 L442.50,207.28 L442.79,208.09 L443.08,208.64 L443.38,209.00 L443.67,209.22 L443.96,209.35" fill="none" stroke="#6DAE5A" stroke-width="0.9"/></g>
<g transform="translate(213.20000000000005,0)"><path d="M405.1,188 V210 H445" fill="none" stroke="#C8C8C8" stroke-width="0.8"/><path d="M405.1,185.3 l-1.7,3.2 h3.4 Z M447.5,210 l-3.2,-1.7 v3.4 Z" fill="#777"/><path d="M404.43,209.46 L404.64,209.43 L404.85,209.38 L405.07,209.30 L405.28,209.17 L405.49,208.98 L405.70,208.71 L405.91,208.36 L406.12,207.93 L406.33,207.43 L406.54,206.87 L406.76,206.31 L406.97,205.79 L407.18,205.37 L407.39,205.10 L407.60,205.00 L407.81,205.10 L408.02,205.37 L408.23,205.79 L408.44,206.31 L408.66,206.87 L408.87,207.43 L409.08,207.93 L409.29,208.36 L409.50,208.71 L409.71,208.98 L409.92,209.17 L410.13,209.30 L410.35,209.38 L410.56,209.43 L410.77,209.46" fill="none" stroke="#4E6FA8" stroke-width="0.9"/><path d="M406.74,209.33 L406.97,209.19 L407.21,208.94 L407.45,208.54 L407.69,207.93 L407.92,207.03 L408.16,205.79 L408.40,204.15 L408.64,202.11 L408.87,199.73 L409.11,197.12 L409.35,194.47 L409.59,192.03 L409.82,190.05 L410.06,188.75 L410.30,188.30 L410.54,188.75 L410.78,190.05 L411.01,192.03 L411.25,194.47 L411.49,197.12 L411.73,199.73 L411.96,202.11 L412.20,204.15 L412.44,205.79 L412.68,207.03 L412.91,207.93 L413.15,208.54 L413.39,208.94 L413.63,209.19 L413.86,209.33" fill="none" stroke="#6DAE5A" stroke-width="0.9"/><path d="M410.24,209.35 L410.53,209.22 L410.82,209.00 L411.12,208.64 L411.41,208.09 L411.70,207.28 L411.99,206.16 L412.28,204.68 L412.57,202.84 L412.86,200.70 L413.15,198.34 L413.44,195.96 L413.73,193.76 L414.02,191.97 L414.31,190.81 L414.60,190.40 L414.89,190.81 L415.18,191.97 L415.47,193.76 L415.76,195.96 L416.05,198.34 L416.34,200.70 L416.63,202.84 L416.92,204.68 L417.21,206.16 L417.50,207.28 L417.79,208.09 L418.08,208.64 L418.38,209.00 L418.67,209.22 L418.96,209.35" fill="none" stroke="#E98A55" stroke-width="0.9"/><path d="M415.54,209.44 L415.80,209.39 L416.07,209.31 L416.33,209.17 L416.60,208.97 L416.86,208.66 L417.12,208.24 L417.39,207.68 L417.65,206.99 L417.92,206.18 L418.18,205.29 L418.44,204.40 L418.71,203.57 L418.97,202.89 L419.24,202.45 L419.50,202.30 L419.76,202.45 L420.03,202.89 L420.29,203.57 L420.56,204.40 L420.82,205.29 L421.08,206.18 L421.35,206.99 L421.61,207.68 L421.88,208.24 L422.14,208.66 L422.40,208.97 L422.67,209.17 L422.93,209.31 L423.20,209.39 L423.46,209.44" fill="none" stroke="#6DAE5A" stroke-width="0.9"/><path d="M419.84,209.35 L420.10,209.21 L420.37,208.99 L420.63,208.62 L420.90,208.06 L421.16,207.23 L421.42,206.09 L421.69,204.58 L421.95,202.70 L422.22,200.51 L422.48,198.11 L422.74,195.68 L423.01,193.43 L423.27,191.61 L423.54,190.41 L423.80,190.00 L424.06,190.41 L424.33,191.61 L424.59,193.43 L424.86,195.68 L425.12,198.11 L425.38,200.51 L425.65,202.70 L425.91,204.58 L426.18,206.09 L426.44,207.23 L426.70,208.06 L426.97,208.62 L427.23,208.99 L427.50,209.21 L427.76,209.35" fill="none" stroke="#4E6FA8" stroke-width="0.9"/><path d="M423.34,209.33 L423.60,209.19 L423.87,208.94 L424.13,208.54 L424.40,207.93 L424.66,207.03 L424.92,205.79 L425.19,204.15 L425.45,202.11 L425.72,199.73 L425.98,197.12 L426.24,194.47 L426.51,192.03 L426.77,190.05 L427.04,188.75 L427.30,188.30 L427.56,188.75 L427.83,190.05 L428.09,192.03 L428.36,194.47 L428.62,197.12 L428.88,199.73 L429.15,202.11 L429.41,204.15 L429.68,205.79 L429.94,207.03 L430.20,207.93 L430.47,208.54 L430.73,208.94 L431.00,209.19 L431.26,209.33" fill="none" stroke="#E98A55" stroke-width="0.9"/><path d="M427.34,209.44 L427.63,209.38 L427.92,209.29 L428.22,209.14 L428.51,208.91 L428.80,208.58 L429.09,208.12 L429.38,207.51 L429.67,206.75 L429.96,205.86 L430.25,204.89 L430.54,203.90 L430.83,202.99 L431.12,202.25 L431.41,201.77 L431.70,201.60 L431.99,201.77 L432.28,202.25 L432.57,202.99 L432.86,203.90 L433.15,204.89 L433.44,205.86 L433.73,206.75 L434.02,207.51 L434.31,208.12 L434.60,208.58 L434.89,208.91 L435.18,209.14 L435.48,209.29 L435.77,209.38 L436.06,209.44" fill="none" stroke="#4E6FA8" stroke-width="0.9"/><path d="M432.73,209.46 L432.94,209.43 L433.15,209.38 L433.37,209.30 L433.58,209.17 L433.79,208.98 L434.00,208.71 L434.21,208.36 L434.42,207.93 L434.63,207.43 L434.84,206.87 L435.06,206.31 L435.27,205.79 L435.48,205.37 L435.69,205.10 L435.90,205.00 L436.11,205.10 L436.32,205.37 L436.53,205.79 L436.74,206.31 L436.96,206.87 L437.17,207.43 L437.38,207.93 L437.59,208.36 L437.80,208.71 L438.01,208.98 L438.22,209.17 L438.43,209.30 L438.65,209.38 L438.86,209.43 L439.07,209.46" fill="none" stroke="#6DAE5A" stroke-width="0.9"/><path d="M435.24,209.35 L435.53,209.22 L435.82,209.00 L436.12,208.64 L436.41,208.09 L436.70,207.28 L436.99,206.16 L437.28,204.68 L437.57,202.84 L437.86,200.70 L438.15,198.34 L438.44,195.96 L438.73,193.76 L439.02,191.97 L439.31,190.81 L439.60,190.40 L439.89,190.81 L440.18,191.97 L440.47,193.76 L440.76,195.96 L441.05,198.34 L441.34,200.70 L441.63,202.84 L441.92,204.68 L442.21,206.16 L442.50,207.28 L442.79,208.09 L443.08,208.64 L443.38,209.00 L443.67,209.22 L443.96,209.35" fill="none" stroke="#6DAE5A" stroke-width="0.9"/></g>
<text x="2.6" y="260.8" font-size="17.5" fill="#222">b</text>
<circle cx="180.2" cy="354.6" r="81.33" fill="#EBEBEB"/>
<path d="M180.20,336.94 A17.6575,17.6575 0 0 1 192.69,367.09 L186.55,360.95 A8.9801,8.9801 0 0 0 180.20,345.62 Z" fill="#F7C7A3" />
<path d="M180.20,328.06 A26.5367,26.5367 0 0 1 198.96,373.36 L192.69,367.09 A17.6575,17.6575 0 0 0 180.20,336.94 Z" fill="#A6CB98" />
<path d="M180.20,319.08 A35.516799999999996,35.516799999999996 0 0 1 206.90,378.02 L200.15,372.10 A26.5367,26.5367 0 0 0 180.20,328.06 Z" fill="#E6907A" />
<path d="M205.31,379.71 A35.516799999999996,35.516799999999996 0 0 1 150.67,374.33 L158.14,369.34 A26.5367,26.5367 0 0 0 198.96,373.36 Z" fill="#E6907A" />
<path d="M180.20,309.90 A44.698699999999995,44.698699999999995 0 0 1 224.52,360.43 L215.41,359.24 A35.516799999999996,35.516799999999996 0 0 0 180.20,319.08 Z" fill="#B3A5D8" />
<path d="M211.81,386.21 A44.698699999999995,44.698699999999995 0 0 1 197.31,395.90 L193.79,387.41 A35.516799999999996,35.516799999999996 0 0 0 205.31,379.71 Z" fill="#B3A5D8" />
<path d="M143.03,379.43 A44.698699999999995,44.698699999999995 0 0 1 137.02,366.17 L145.89,363.79 A35.516799999999996,35.516799999999996 0 0 0 150.67,374.33 Z" fill="#B3A5D8" />
<path d="M180.20,300.72 A53.880599999999994,53.880599999999994 0 0 1 210.13,399.40 L205.03,391.77 A44.698699999999995,44.698699999999995 0 0 0 180.20,309.90 Z" fill="#B39B91" />
<path d="M200.82,404.38 A53.880599999999994,53.880599999999994 0 0 1 135.40,384.53 L143.03,379.43 A44.698699999999995,44.698699999999995 0 0 0 197.31,395.90 Z" fill="#B39B91" />
<path d="M128.16,368.55 A53.880599999999994,53.880599999999994 0 0 1 180.20,300.72 L180.20,309.90 A44.698699999999995,44.698699999999995 0 0 0 137.02,366.17 Z" fill="#B39B91" />
<path d="M180.20,291.44 A63.163399999999996,63.163399999999996 0 0 1 215.29,407.12 L210.13,399.40 A53.880599999999994,53.880599999999994 0 0 0 180.20,300.72 Z" fill="#DDB3D7" />
<path d="M204.37,412.96 A63.163399999999996,63.163399999999996 0 0 1 200.50,414.41 L197.52,405.62 A53.880599999999994,53.880599999999994 0 0 0 200.82,404.38 Z" fill="#DDB3D7" />
<path d="M127.68,389.69 A63.163399999999996,63.163399999999996 0 0 1 171.96,291.98 L173.17,301.18 A53.880599999999994,53.880599999999994 0 0 0 135.40,384.53 Z" fill="#DDB3D7" />
<path d="M180.20,282.15 A72.44619999999999,72.44619999999999 0 0 1 250.18,335.85 L241.21,338.25 A63.163399999999996,63.163399999999996 0 0 0 180.20,291.44 Z" fill="#CFCB97" />
<path d="M231.43,405.83 A72.44619999999999,72.44619999999999 0 0 1 220.45,414.84 L215.29,407.12 A63.163399999999996,63.163399999999996 0 0 0 224.86,399.26 Z" fill="#CFCB97" />
<path d="M180.20,273.27 A81.32539999999999,81.32539999999999 0 0 1 258.75,333.55 L250.18,335.85 A72.44619999999999,72.44619999999999 0 0 0 180.20,282.15 Z" fill="#A3D5DB" />
<path d="M237.71,412.11 A81.32539999999999,81.32539999999999 0 0 1 225.38,422.22 L220.45,414.84 A72.44619999999999,72.44619999999999 0 0 0 231.43,405.83 Z" fill="#A3D5DB" />
<circle cx="180.2" cy="354.6" r="17.66" fill="none" stroke="#ffffff" stroke-width="0.6" opacity="0.85"/>
<circle cx="180.2" cy="354.6" r="26.54" fill="none" stroke="#ffffff" stroke-width="0.6" opacity="0.85"/>
<circle cx="180.2" cy="354.6" r="35.52" fill="none" stroke="#ffffff" stroke-width="0.6" opacity="0.85"/>
<circle cx="180.2" cy="354.6" r="44.70" fill="none" stroke="#ffffff" stroke-width="0.6" opacity="0.85"/>
<circle cx="180.2" cy="354.6" r="53.88" fill="none" stroke="#ffffff" stroke-width="0.6" opacity="0.85"/>
<circle cx="180.2" cy="354.6" r="63.16" fill="none" stroke="#ffffff" stroke-width="0.6" opacity="0.85"/>
<circle cx="180.2" cy="354.6" r="72.45" fill="none" stroke="#ffffff" stroke-width="0.6" opacity="0.85"/>
<path d="M180.20,345.70 L180.20,273.27 M180.78,345.72 L185.52,273.45 M181.36,345.78 L190.82,273.97 M181.94,345.87 L196.07,274.84 M182.50,346.00 L201.25,276.05 M183.06,346.17 L206.34,277.59 M183.61,346.38 L211.32,279.47 M184.14,346.62 L216.17,281.66 M184.65,346.89 L220.86,284.17 M185.14,347.20 L225.38,286.98 M185.62,347.54 L229.71,290.08 M186.07,347.91 L233.82,293.46 M186.49,348.31 L237.71,297.09 M186.89,348.73 L241.34,300.98 M187.26,349.18 L244.72,305.09 M187.60,349.66 L247.82,309.42 M187.91,350.15 L250.63,313.94 M188.18,350.66 L253.14,318.63 M188.42,351.19 L255.33,323.48 M188.63,351.74 L257.21,328.46 M188.80,352.30 L258.75,333.55 M188.93,352.86 L259.96,338.73 M189.02,353.44 L260.83,343.98 M189.08,354.02 L261.35,349.28 M189.10,354.60 L261.53,354.60 M189.08,355.18 L261.35,359.92 M189.02,355.76 L260.83,365.22 M188.93,356.34 L259.96,370.47 M188.80,356.90 L258.75,375.65 M188.63,357.46 L257.21,380.74 M188.42,358.01 L255.33,385.72 M188.18,358.54 L253.14,390.57 M187.91,359.05 L250.63,395.26 M187.60,359.54 L247.82,399.78 M187.26,360.02 L244.72,404.11 M186.89,360.47 L241.34,408.22 M186.49,360.89 L237.71,412.11 M186.07,361.29 L233.82,415.74 M185.62,361.66 L229.71,419.12 M185.14,362.00 L225.38,422.22 M184.65,362.31 L220.86,425.03 M184.14,362.58 L216.17,427.54 M183.61,362.82 L211.32,429.73 M183.06,363.03 L206.34,431.61 M182.50,363.20 L201.25,433.15 M181.94,363.33 L196.07,434.36 M181.36,363.42 L190.82,435.23 M180.78,363.48 L185.52,435.75 M180.20,363.50 L180.20,435.93 M179.62,363.48 L174.88,435.75 M179.04,363.42 L169.58,435.23 M178.46,363.33 L164.33,434.36 M177.90,363.20 L159.15,433.15 M177.34,363.03 L154.06,431.61 M176.79,362.82 L149.08,429.73 M176.26,362.58 L144.23,427.54 M175.75,362.31 L139.54,425.03 M175.26,362.00 L135.02,422.22 M174.78,361.66 L130.69,419.12 M174.33,361.29 L126.58,415.74 M173.91,360.89 L122.69,412.11 M173.51,360.47 L119.06,408.22 M173.14,360.02 L115.68,404.11 M172.80,359.54 L112.58,399.78 M172.49,359.05 L109.77,395.26 M172.22,358.54 L107.26,390.57 M171.98,358.01 L105.07,385.72 M171.77,357.46 L103.19,380.74 M171.60,356.90 L101.65,375.65 M171.47,356.34 L100.44,370.47 M171.38,355.76 L99.57,365.22 M171.32,355.18 L99.05,359.92 M171.30,354.60 L98.87,354.60 M171.32,354.02 L99.05,349.28 M171.38,353.44 L99.57,343.98 M171.47,352.86 L100.44,338.73 M171.60,352.30 L101.65,333.55 M171.77,351.74 L103.19,328.46 M171.98,351.19 L105.07,323.48 M172.22,350.66 L107.26,318.63 M172.49,350.15 L109.77,313.94 M172.80,349.66 L112.58,309.42 M173.14,349.18 L115.68,305.09 M173.51,348.73 L119.06,300.98 M173.91,348.31 L122.69,297.09 M174.33,347.91 L126.58,293.46 M174.78,347.54 L130.69,290.08 M175.26,347.20 L135.02,286.98 M175.75,346.89 L139.54,284.17 M176.26,346.62 L144.23,281.66 M176.79,346.38 L149.08,279.47 M177.34,346.17 L154.06,277.59 M177.90,346.00 L159.15,276.05 M178.46,345.87 L164.33,274.84 M179.04,345.78 L169.58,273.97 M179.62,345.72 L174.88,273.45" stroke="#ffffff" stroke-width="0.45" opacity="0.8"/>
<circle cx="180.2" cy="354.6" r="8.9" fill="#ffffff"/>
<circle cx="180.2" cy="354.6" r="7.3" fill="none" stroke="#DDE5F2" stroke-width="2.8"/>
<line x1="180.20" y1="348.60" x2="180.20" y2="346.00" stroke="#AFC1DF" stroke-width="0.45"/>
<line x1="181.37" y1="348.72" x2="181.88" y2="346.17" stroke="#AFC1DF" stroke-width="0.45"/>
<line x1="182.50" y1="349.06" x2="183.49" y2="346.65" stroke="#AFC1DF" stroke-width="0.45"/>
<line x1="183.53" y1="349.61" x2="184.98" y2="347.45" stroke="#AFC1DF" stroke-width="0.45"/>
<line x1="184.44" y1="350.36" x2="186.28" y2="348.52" stroke="#AFC1DF" stroke-width="0.45"/>
<line x1="185.19" y1="351.27" x2="187.35" y2="349.82" stroke="#AFC1DF" stroke-width="0.45"/>
<line x1="185.74" y1="352.30" x2="188.15" y2="351.31" stroke="#AFC1DF" stroke-width="0.45"/>
<line x1="186.08" y1="353.43" x2="188.63" y2="352.92" stroke="#AFC1DF" stroke-width="0.45"/>
<line x1="186.20" y1="354.60" x2="188.80" y2="354.60" stroke="#AFC1DF" stroke-width="0.45"/>
<line x1="186.08" y1="355.77" x2="188.63" y2="356.28" stroke="#AFC1DF" stroke-width="0.45"/>
<line x1="185.74" y1="356.90" x2="188.15" y2="357.89" stroke="#AFC1DF" stroke-width="0.45"/>
<line x1="185.19" y1="357.93" x2="187.35" y2="359.38" stroke="#AFC1DF" stroke-width="0.45"/>
<line x1="184.44" y1="358.84" x2="186.28" y2="360.68" stroke="#AFC1DF" stroke-width="0.45"/>
<line x1="183.53" y1="359.59" x2="184.98" y2="361.75" stroke="#AFC1DF" stroke-width="0.45"/>
<line x1="182.50" y1="360.14" x2="183.49" y2="362.55" stroke="#AFC1DF" stroke-width="0.45"/>
<line x1="181.37" y1="360.48" x2="181.88" y2="363.03" stroke="#AFC1DF" stroke-width="0.45"/>
<line x1="180.20" y1="360.60" x2="180.20" y2="363.20" stroke="#AFC1DF" stroke-width="0.45"/>
<line x1="179.03" y1="360.48" x2="178.52" y2="363.03" stroke="#AFC1DF" stroke-width="0.45"/>
<line x1="177.90" y1="360.14" x2="176.91" y2="362.55" stroke="#AFC1DF" stroke-width="0.45"/>
<line x1="176.87" y1="359.59" x2="175.42" y2="361.75" stroke="#AFC1DF" stroke-width="0.45"/>
<line x1="175.96" y1="358.84" x2="174.12" y2="360.68" stroke="#AFC1DF" stroke-width="0.45"/>
<line x1="175.21" y1="357.93" x2="173.05" y2="359.38" stroke="#AFC1DF" stroke-width="0.45"/>
<line x1="174.66" y1="356.90" x2="172.25" y2="357.89" stroke="#AFC1DF" stroke-width="0.45"/>
<line x1="174.32" y1="355.77" x2="171.77" y2="356.28" stroke="#AFC1DF" stroke-width="0.45"/>
<line x1="174.20" y1="354.60" x2="171.60" y2="354.60" stroke="#AFC1DF" stroke-width="0.45"/>
<line x1="174.32" y1="353.43" x2="171.77" y2="352.92" stroke="#AFC1DF" stroke-width="0.45"/>
<line x1="174.66" y1="352.30" x2="172.25" y2="351.31" stroke="#AFC1DF" stroke-width="0.45"/>
<line x1="175.21" y1="351.27" x2="173.05" y2="349.82" stroke="#AFC1DF" stroke-width="0.45"/>
<line x1="175.96" y1="350.36" x2="174.12" y2="348.52" stroke="#AFC1DF" stroke-width="0.45"/>
<line x1="176.87" y1="349.61" x2="175.42" y2="347.45" stroke="#AFC1DF" stroke-width="0.45"/>
<line x1="177.90" y1="349.06" x2="176.91" y2="346.65" stroke="#AFC1DF" stroke-width="0.45"/>
<line x1="179.03" y1="348.72" x2="178.52" y2="346.17" stroke="#AFC1DF" stroke-width="0.45"/>
<text transform="translate(183.03,268.05) rotate(-88.12) scale(-1,1)" y="1.7" font-size="4.95" fill="#333" text-anchor="end">WT001</text>
<text transform="translate(188.69,268.42) rotate(-84.38) scale(-1,1)" y="1.7" font-size="4.95" fill="#333" text-anchor="end">WT002</text>
<text transform="translate(194.31,269.16) rotate(-80.62) scale(-1,1)" y="1.7" font-size="4.95" fill="#333" text-anchor="end">WT003</text>
<text transform="translate(199.86,270.26) rotate(-76.88) scale(-1,1)" y="1.7" font-size="4.95" fill="#333" text-anchor="end">WT004</text>
<text transform="translate(205.34,271.73) rotate(-73.12) scale(-1,1)" y="1.7" font-size="4.95" fill="#333" text-anchor="end">WT005</text>
<text transform="translate(210.70,273.55) rotate(-69.38) scale(-1,1)" y="1.7" font-size="4.95" fill="#333" text-anchor="end">WT006</text>
<text transform="translate(215.94,275.72) rotate(-65.62) scale(-1,1)" y="1.7" font-size="4.95" fill="#333" text-anchor="end">WT007</text>
<text transform="translate(221.02,278.23) rotate(-61.88) scale(-1,1)" y="1.7" font-size="4.95" fill="#333" text-anchor="end">WT008</text>
<text transform="translate(225.93,281.06) rotate(-58.12) scale(-1,1)" y="1.7" font-size="4.95" fill="#333" text-anchor="end">WT009</text>
<text transform="translate(230.64,284.21) rotate(-54.38) scale(-1,1)" y="1.7" font-size="4.95" fill="#333" text-anchor="end">WT010</text>
<text transform="translate(235.14,287.66) rotate(-50.62) scale(-1,1)" y="1.7" font-size="4.95" fill="#333" text-anchor="end">WT011</text>
<text transform="translate(239.40,291.39) rotate(-46.88) scale(-1,1)" y="1.7" font-size="4.95" fill="#333" text-anchor="end">WT012</text>
<text transform="translate(243.41,295.40) rotate(-43.12) scale(-1,1)" y="1.7" font-size="4.95" fill="#333" text-anchor="end">WT013</text>
<text transform="translate(247.14,299.66) rotate(-39.38) scale(-1,1)" y="1.7" font-size="4.95" fill="#333" text-anchor="end">WT014</text>
<text transform="translate(250.59,304.16) rotate(-35.62) scale(-1,1)" y="1.7" font-size="4.95" fill="#333" text-anchor="end">WT015</text>
<text transform="translate(253.74,308.87) rotate(-31.88) scale(-1,1)" y="1.7" font-size="4.95" fill="#333" text-anchor="end">WT016</text>
<text transform="translate(256.57,313.78) rotate(-28.12) scale(-1,1)" y="1.7" font-size="4.95" fill="#333" text-anchor="end">WT017</text>
<text transform="translate(259.08,318.86) rotate(-24.38) scale(-1,1)" y="1.7" font-size="4.95" fill="#333" text-anchor="end">WT018</text>
<text transform="translate(261.25,324.10) rotate(-20.62) scale(-1,1)" y="1.7" font-size="4.95" fill="#333" text-anchor="end">WT019</text>
<text transform="translate(263.07,329.46) rotate(-16.88) scale(-1,1)" y="1.7" font-size="4.95" fill="#333" text-anchor="end">WT020</text>
<text transform="translate(264.54,334.94) rotate(-13.12) scale(-1,1)" y="1.7" font-size="4.95" fill="#333" text-anchor="end">WT021</text>
<text transform="translate(265.64,340.49) rotate(-9.38) scale(-1,1)" y="1.7" font-size="4.95" fill="#333" text-anchor="end">WT022</text>
<text transform="translate(266.38,346.11) rotate(-5.62) scale(-1,1)" y="1.7" font-size="4.95" fill="#333" text-anchor="end">WT023</text>
<text transform="translate(266.75,351.77) rotate(-1.88) scale(-1,1)" y="1.7" font-size="4.95" fill="#333" text-anchor="end">WT024</text>
<text transform="translate(266.75,357.43) rotate(1.88) scale(-1,1)" y="1.7" font-size="4.95" fill="#333" text-anchor="end">WT025</text>
<text transform="translate(266.38,363.09) rotate(5.62) scale(-1,1)" y="1.7" font-size="4.95" fill="#333" text-anchor="end">WT026</text>
<text transform="translate(265.64,368.71) rotate(9.38) scale(-1,1)" y="1.7" font-size="4.95" fill="#333" text-anchor="end">WT027</text>
<text transform="translate(264.54,374.26) rotate(13.12) scale(-1,1)" y="1.7" font-size="4.95" fill="#333" text-anchor="end">WT028</text>
<text transform="translate(263.07,379.74) rotate(16.88) scale(-1,1)" y="1.7" font-size="4.95" fill="#333" text-anchor="end">WT029</text>
<text transform="translate(261.25,385.10) rotate(20.62) scale(-1,1)" y="1.7" font-size="4.95" fill="#333" text-anchor="end">WT030</text>
<text transform="translate(259.08,390.34) rotate(24.38) scale(-1,1)" y="1.7" font-size="4.95" fill="#333" text-anchor="end">WT031</text>
<text transform="translate(256.57,395.42) rotate(28.12) scale(-1,1)" y="1.7" font-size="4.95" fill="#333" text-anchor="end">WT032</text>
<text transform="translate(253.74,400.33) rotate(31.88) scale(-1,1)" y="1.7" font-size="4.95" fill="#333" text-anchor="end">WT033</text>
<text transform="translate(250.59,405.04) rotate(35.62) scale(-1,1)" y="1.7" font-size="4.95" fill="#333" text-anchor="end">WT034</text>
<text transform="translate(247.14,409.54) rotate(39.38) scale(-1,1)" y="1.7" font-size="4.95" fill="#333" text-anchor="end">WT035</text>
<text transform="translate(243.41,413.80) rotate(43.12) scale(-1,1)" y="1.7" font-size="4.95" fill="#333" text-anchor="end">WT036</text>
<text transform="translate(239.40,417.81) rotate(46.88) scale(-1,1)" y="1.7" font-size="4.95" fill="#333" text-anchor="end">WT037</text>
<text transform="translate(235.14,421.54) rotate(50.62) scale(-1,1)" y="1.7" font-size="4.95" fill="#333" text-anchor="end">WT038</text>
<text transform="translate(230.64,424.99) rotate(54.38) scale(-1,1)" y="1.7" font-size="4.95" fill="#333" text-anchor="end">WT039</text>
<text transform="translate(225.93,428.14) rotate(58.12) scale(-1,1)" y="1.7" font-size="4.95" fill="#333" text-anchor="end">WT040</text>
<text transform="translate(221.02,430.97) rotate(61.88) scale(-1,1)" y="1.7" font-size="4.95" fill="#333" text-anchor="end">WT041</text>
<text transform="translate(215.94,433.48) rotate(65.62) scale(-1,1)" y="1.7" font-size="4.95" fill="#333" text-anchor="end">WT042</text>
<text transform="translate(210.70,435.65) rotate(69.38) scale(-1,1)" y="1.7" font-size="4.95" fill="#333" text-anchor="end">WT043</text>
<text transform="translate(205.34,437.47) rotate(73.12) scale(-1,1)" y="1.7" font-size="4.95" fill="#333" text-anchor="end">WT044</text>
<text transform="translate(199.86,438.94) rotate(76.88) scale(-1,1)" y="1.7" font-size="4.95" fill="#333" text-anchor="end">WT045</text>
<text transform="translate(194.31,440.04) rotate(80.62) scale(-1,1)" y="1.7" font-size="4.95" fill="#333" text-anchor="end">WT046</text>
<text transform="translate(188.69,440.78) rotate(84.38) scale(-1,1)" y="1.7" font-size="4.95" fill="#333" text-anchor="end">WT047</text>
<text transform="translate(183.03,441.15) rotate(88.12) scale(-1,1)" y="1.7" font-size="4.95" fill="#333" text-anchor="end">WT048</text>
<text transform="translate(177.37,441.15) rotate(-88.12)" y="1.7" font-size="4.95" fill="#333" text-anchor="end">WT049</text>
<text transform="translate(171.71,440.78) rotate(-84.38)" y="1.7" font-size="4.95" fill="#333" text-anchor="end">WT050</text>
<text transform="translate(166.09,440.04) rotate(-80.62)" y="1.7" font-size="4.95" fill="#333" text-anchor="end">WT051</text>
<text transform="translate(160.54,438.94) rotate(-76.88)" y="1.7" font-size="4.95" fill="#333" text-anchor="end">WT052</text>
<text transform="translate(155.06,437.47) rotate(-73.12)" y="1.7" font-size="4.95" fill="#333" text-anchor="end">WT053</text>
<text transform="translate(149.70,435.65) rotate(-69.38)" y="1.7" font-size="4.95" fill="#333" text-anchor="end">WT054</text>
<text transform="translate(144.46,433.48) rotate(-65.62)" y="1.7" font-size="4.95" fill="#333" text-anchor="end">WT055</text>
<text transform="translate(139.38,430.97) rotate(-61.88)" y="1.7" font-size="4.95" fill="#333" text-anchor="end">WT056</text>
<text transform="translate(134.47,428.14) rotate(-58.12)" y="1.7" font-size="4.95" fill="#333" text-anchor="end">WT057</text>
<text transform="translate(129.76,424.99) rotate(-54.38)" y="1.7" font-size="4.95" fill="#333" text-anchor="end">WT058</text>
<text transform="translate(125.26,421.54) rotate(-50.62)" y="1.7" font-size="4.95" fill="#333" text-anchor="end">WT059</text>
<text transform="translate(121.00,417.81) rotate(-46.88)" y="1.7" font-size="4.95" fill="#333" text-anchor="end">WT060</text>
<text transform="translate(116.99,413.80) rotate(-43.12)" y="1.7" font-size="4.95" fill="#333" text-anchor="end">WT061</text>
<text transform="translate(113.26,409.54) rotate(-39.38)" y="1.7" font-size="4.95" fill="#333" text-anchor="end">WT062</text>
<text transform="translate(109.81,405.04) rotate(-35.62)" y="1.7" font-size="4.95" fill="#333" text-anchor="end">WT063</text>
<text transform="translate(106.66,400.33) rotate(-31.88)" y="1.7" font-size="4.95" fill="#333" text-anchor="end">WT064</text>
<text transform="translate(103.83,395.42) rotate(-28.12)" y="1.7" font-size="4.95" fill="#333" text-anchor="end">WT065</text>
<text transform="translate(101.32,390.34) rotate(-24.38)" y="1.7" font-size="4.95" fill="#333" text-anchor="end">WT066</text>
<text transform="translate(99.15,385.10) rotate(-20.62)" y="1.7" font-size="4.95" fill="#333" text-anchor="end">WT067</text>
<text transform="translate(97.33,379.74) rotate(-16.88)" y="1.7" font-size="4.95" fill="#333" text-anchor="end">WT068</text>
<text transform="translate(95.86,374.26) rotate(-13.12)" y="1.7" font-size="4.95" fill="#333" text-anchor="end">WT069</text>
<text transform="translate(94.76,368.71) rotate(-9.38)" y="1.7" font-size="4.95" fill="#333" text-anchor="end">WT070</text>
<text transform="translate(94.02,363.09) rotate(-5.62)" y="1.7" font-size="4.95" fill="#333" text-anchor="end">WT071</text>
<text transform="translate(93.65,357.43) rotate(-1.88)" y="1.7" font-size="4.95" fill="#333" text-anchor="end">WT072</text>
<text transform="translate(93.65,351.77) rotate(1.88)" y="1.7" font-size="4.95" fill="#333" text-anchor="end">WT073</text>
<text transform="translate(94.02,346.11) rotate(5.62)" y="1.7" font-size="4.95" fill="#333" text-anchor="end">WT074</text>
<text transform="translate(94.76,340.49) rotate(9.38)" y="1.7" font-size="4.95" fill="#333" text-anchor="end">WT075</text>
<text transform="translate(95.86,334.94) rotate(13.12)" y="1.7" font-size="4.95" fill="#333" text-anchor="end">WT076</text>
<text transform="translate(97.33,329.46) rotate(16.88)" y="1.7" font-size="4.95" fill="#333" text-anchor="end">WT077</text>
<text transform="translate(99.15,324.10) rotate(20.62)" y="1.7" font-size="4.95" fill="#333" text-anchor="end">WT078</text>
<text transform="translate(101.32,318.86) rotate(24.38)" y="1.7" font-size="4.95" fill="#333" text-anchor="end">WT079</text>
<text transform="translate(103.83,313.78) rotate(28.12)" y="1.7" font-size="4.95" fill="#333" text-anchor="end">WT080</text>
<text transform="translate(106.66,308.87) rotate(31.88)" y="1.7" font-size="4.95" fill="#333" text-anchor="end">WT081</text>
<text transform="translate(109.81,304.16) rotate(35.62)" y="1.7" font-size="4.95" fill="#333" text-anchor="end">WT082</text>
<text transform="translate(113.26,299.66) rotate(39.38)" y="1.7" font-size="4.95" fill="#333" text-anchor="end">WT083</text>
<text transform="translate(116.99,295.40) rotate(43.12)" y="1.7" font-size="4.95" fill="#333" text-anchor="end">WT084</text>
<text transform="translate(121.00,291.39) rotate(46.88)" y="1.7" font-size="4.95" fill="#333" text-anchor="end">WT085</text>
<text transform="translate(125.26,287.66) rotate(50.62)" y="1.7" font-size="4.95" fill="#333" text-anchor="end">WT086</text>
<text transform="translate(129.76,284.21) rotate(54.38)" y="1.7" font-size="4.95" fill="#333" text-anchor="end">WT087</text>
<text transform="translate(134.47,281.06) rotate(58.12)" y="1.7" font-size="4.95" fill="#333" text-anchor="end">WT088</text>
<text transform="translate(139.38,278.23) rotate(61.88)" y="1.7" font-size="4.95" fill="#333" text-anchor="end">WT089</text>
<text transform="translate(144.46,275.72) rotate(65.62)" y="1.7" font-size="4.95" fill="#333" text-anchor="end">WT090</text>
<text transform="translate(149.70,273.55) rotate(69.38)" y="1.7" font-size="4.95" fill="#333" text-anchor="end">WT091</text>
<text transform="translate(155.06,271.73) rotate(73.12)" y="1.7" font-size="4.95" fill="#333" text-anchor="end">WT092</text>
<text transform="translate(160.54,270.26) rotate(76.88)" y="1.7" font-size="4.95" fill="#333" text-anchor="end">WT093</text>
<text transform="translate(166.09,269.16) rotate(80.62)" y="1.7" font-size="4.95" fill="#333" text-anchor="end">WT094</text>
<text transform="translate(171.71,268.42) rotate(84.38)" y="1.7" font-size="4.95" fill="#333" text-anchor="end">WT095</text>
<text transform="translate(177.37,268.05) rotate(88.12)" y="1.7" font-size="4.95" fill="#333" text-anchor="end">WT096</text>
<rect x="58.2" y="472.90" width="11.6" height="12.3" fill="#F2B68A"/>
<text x="73.6" y="481.90" font-size="8.6" fill="#222">Exome (WT)</text>
<rect x="58.2" y="485.16" width="11.6" height="12.3" fill="#9DC28F"/>
<text x="73.6" y="494.16" font-size="8.6" fill="#222">Exome (NAT)</text>
<rect x="58.2" y="497.42" width="11.6" height="12.3" fill="#DD8A78"/>
<text x="73.6" y="506.42" font-size="8.6" fill="#222">Transcriptome (WT)</text>
<rect x="58.2" y="509.68" width="11.6" height="12.3" fill="#AFA0CF"/>
<text x="73.6" y="518.68" font-size="8.6" fill="#222">Transcriptome (NAT)</text>
<rect x="162" y="473.80" width="11.9" height="12.2" fill="#B39A90"/>
<text x="177.2" y="482.80" font-size="8.6" fill="#222">Proteome (WT)</text>
<rect x="162" y="486.00" width="11.9" height="12.2" fill="#DDB0D4"/>
<text x="177.2" y="495.00" font-size="8.6" fill="#222">Proteome (NAT)</text>
<rect x="162" y="498.20" width="11.9" height="12.2" fill="#CFCB98"/>
<text x="177.2" y="507.20" font-size="8.6" fill="#222">Phosphoproteome (WT)</text>
<rect x="162" y="510.40" width="11.9" height="12.2" fill="#9FD4DA"/>
<text x="177.2" y="519.40" font-size="8.6" fill="#222">Phosphoproteome (NAT)</text>
<rect x="273" y="473.20" width="11.9" height="12.2" fill="#EBEBEB"/>
<text x="288.5" y="482.20" font-size="8.6" fill="#222">NA</text>
<rect x="273" y="485.50" width="11.9" height="12.2" fill="#8FA5CC"/>
<text x="288.5" y="494.50" font-size="8.6" fill="#222">Total</text>
<text x="325" y="260.8" font-size="17.5" fill="#222">c</text>
<path d="M402.75,280.9 L402.75,252.90 A28,28 0 0 1 421.27,301.90 Z" fill="#C9866F" stroke="#C9866F" stroke-width="0.3"/>
<path d="M402.75,280.9 L421.27,301.90 A28,28 0 1 1 402.75,252.90 Z" fill="#849FC8" stroke="#849FC8" stroke-width="0.3"/>
<path d="M496,280.9 L496.00,252.90 A28,28 0 0 1 505.48,254.56 Z" fill="#7382B5" stroke="#7382B5" stroke-width="0.3"/>
<path d="M496,280.9 L505.48,254.56 A28,28 0 0 1 509.02,256.11 Z" fill="#E88464" stroke="#E88464" stroke-width="0.3"/>
<path d="M496,280.9 L509.02,256.11 A28,28 0 0 1 513.85,259.33 Z" fill="#96C98B" stroke="#96C98B" stroke-width="0.3"/>
<path d="M496,280.9 L513.85,259.33 A28,28 0 0 1 515.30,260.61 Z" fill="#7FB3C8" stroke="#7FB3C8" stroke-width="0.3"/>
<path d="M496,280.9 L515.30,260.61 A28,28 0 0 1 519.06,265.02 Z" fill="#B39ACB" stroke="#B39ACB" stroke-width="0.3"/>
<path d="M496,280.9 L519.06,265.02 A28,28 0 1 1 488.36,253.96 Z" fill="#F9C9B6" stroke="#F9C9B6" stroke-width="0.3"/>
<path d="M496,280.9 L488.36,253.96 A28,28 0 0 1 496.00,252.90 Z" fill="#B87466" stroke="#B87466" stroke-width="0.3"/>
<path d="M588.7,280.9 L588.70,252.90 A28,28 0 0 1 603.40,257.07 Z" fill="#8588B5" stroke="#8588B5" stroke-width="0.3"/>
<path d="M588.7,280.9 L603.40,257.07 A28,28 0 1 1 584.84,253.17 Z" fill="#E8836A" stroke="#E8836A" stroke-width="0.3"/>
<path d="M588.7,280.9 L584.84,253.17 A28,28 0 0 1 588.70,252.90 Z" fill="#7DAE7E" stroke="#7DAE7E" stroke-width="0.3"/>
<path d="M402.7,450.5 L402.70,422.50 A28,28 0 0 1 408.46,423.10 Z" fill="#7B9BD0" stroke="#7B9BD0" stroke-width="0.3"/>
<path d="M402.7,450.5 L408.46,423.10 A28,28 0 1 1 392.39,476.53 Z" fill="#EEC983" stroke="#EEC983" stroke-width="0.3"/>
<path d="M402.7,450.5 L392.39,476.53 A28,28 0 0 1 390.62,475.76 Z" fill="#AFA9A6" stroke="#AFA9A6" stroke-width="0.3"/>
<path d="M402.7,450.5 L390.62,475.76 A28,28 0 0 1 402.70,422.50 Z" fill="#D6918A" stroke="#D6918A" stroke-width="0.3"/>
<path d="M495.5,449.8 L495.50,421.80 A28,28 0 0 1 522.58,442.67 Z" fill="#7B7E83" stroke="#7B7E83" stroke-width="0.3"/>
<path d="M495.5,449.8 L522.58,442.67 A28,28 0 0 1 502.12,477.01 Z" fill="#E3AF89" stroke="#E3AF89" stroke-width="0.3"/>
<path d="M495.5,449.8 L502.12,477.01 A28,28 0 0 1 469.04,440.65 Z" fill="#87B7D9" stroke="#87B7D9" stroke-width="0.3"/>
<path d="M495.5,449.8 L469.04,440.65 A28,28 0 0 1 489.91,422.36 Z" fill="#C58D84" stroke="#C58D84" stroke-width="0.3"/>
<path d="M495.5,449.8 L489.91,422.36 A28,28 0 0 1 495.68,421.80 Z" fill="#A9C9B8" stroke="#A9C9B8" stroke-width="0.3"/>
<path d="M588.3,449.8 L588.30,421.80 A28,28 0 0 1 590.23,421.87 Z" fill="#7B9BD0" stroke="#7B9BD0" stroke-width="0.3"/>
<path d="M588.3,449.8 L590.23,421.87 A28,28 0 1 1 570.45,428.23 Z" fill="#EECB86" stroke="#EECB86" stroke-width="0.3"/>
<path d="M588.3,449.8 L570.45,428.23 A28,28 0 0 1 577.02,424.17 Z" fill="#B0ABA8" stroke="#B0ABA8" stroke-width="0.3"/>
<path d="M588.3,449.8 L577.02,424.17 A28,28 0 0 1 588.30,421.80 Z" fill="#D4928A" stroke="#D4928A" stroke-width="0.3"/>
<path d="M495.9,598.2 L495.90,570.20 A28,28 0 1 1 469.11,606.35 Z" fill="#7B7D82" stroke="#7B7D82" stroke-width="0.3"/>
<path d="M495.9,598.2 L469.11,606.35 A28,28 0 0 1 495.90,570.20 Z" fill="#E3AE86" stroke="#E3AE86" stroke-width="0.3"/>
<path d="M588.6,598.2 L588.60,570.20 A28,28 0 1 1 564.50,583.95 Z" fill="#7B7D82" stroke="#7B7D82" stroke-width="0.3"/>
<path d="M588.6,598.2 L564.50,583.95 A28,28 0 0 1 588.60,570.20 Z" fill="#E3AE86" stroke="#E3AE86" stroke-width="0.3"/>
<text x="388.3" y="333.80" font-size="7.75" fill="#222">Gender</text>
<rect x="388.3" y="339.00" width="10.7" height="10.7" fill="#C9866F"/>
<text x="402.80" y="346.40" font-size="7.75" fill="#222">Female (38.5%)</text>
<rect x="388.3" y="350.04" width="10.7" height="10.7" fill="#849FC8"/>
<text x="402.80" y="357.44" font-size="7.75" fill="#222">Male (61.5%)</text>
<text x="461" y="333.80" font-size="7.75" fill="#222">Pre-treated_tumors_histology</text>
<rect x="461" y="339.00" width="10.7" height="10.7" fill="#7382B5"/>
<text x="475.50" y="346.40" font-size="7.75" fill="#222">Blastemal (5.5%)</text>
<rect x="461" y="350.04" width="10.7" height="10.7" fill="#E88464"/>
<text x="475.50" y="357.44" font-size="7.75" fill="#222">Completely necrotic (2.2%)</text>
<rect x="461" y="361.08" width="10.7" height="10.7" fill="#96C98B"/>
<text x="475.50" y="368.48" font-size="7.75" fill="#222">diffuse anaplasia (3.3%)</text>
<rect x="461" y="372.12" width="10.7" height="10.7" fill="#7FB3C8"/>
<text x="475.50" y="379.52" font-size="7.75" fill="#222">Epithelial (1.1%)</text>
<rect x="461" y="383.16" width="10.7" height="10.7" fill="#B39ACB"/>
<text x="475.50" y="390.56" font-size="7.75" fill="#222">Mesenchymal (3.3%)</text>
<rect x="461" y="394.20" width="10.7" height="10.7" fill="#F9C9B6"/>
<text x="475.50" y="401.60" font-size="7.75" fill="#222">Mixed (80.2%)</text>
<rect x="461" y="405.24" width="10.7" height="10.7" fill="#B87466"/>
<text x="475.50" y="412.64" font-size="7.75" fill="#222">Regressive (4.4%)</text>
<text x="570.8" y="333.80" font-size="7.75" fill="#222">Risk_group</text>
<rect x="570.8" y="339.00" width="10.7" height="10.7" fill="#8588B5"/>
<text x="585.30" y="346.40" font-size="7.75" fill="#222">High risk (8.8%)</text>
<rect x="570.8" y="350.04" width="10.7" height="10.7" fill="#E8836A"/>
<text x="585.30" y="357.44" font-size="7.75" fill="#222">Intermediate risk (89.0%)</text>
<rect x="570.8" y="361.08" width="10.7" height="10.7" fill="#7DAE7E"/>
<text x="585.30" y="368.48" font-size="7.75" fill="#222">Low risk (2.2%)</text>
<text x="395.8" y="503.80" font-size="7.75" fill="#222">Site</text>
<rect x="395.8" y="509.00" width="10.7" height="10.7" fill="#7B9BD0"/>
<text x="410.30" y="516.40" font-size="7.75" fill="#222">Bilateral (3.3%)</text>
<rect x="395.8" y="520.04" width="10.7" height="10.7" fill="#EEC983"/>
<text x="410.30" y="527.44" font-size="7.75" fill="#222">Left (52.7%)</text>
<rect x="395.8" y="531.08" width="10.7" height="10.7" fill="#AFA9A6"/>
<text x="410.30" y="538.48" font-size="7.75" fill="#222">NA (1.1%)</text>
<rect x="395.8" y="542.12" width="10.7" height="10.7" fill="#D6918A"/>
<text x="410.30" y="549.52" font-size="7.75" fill="#222">Right (42.9%)</text>
<text x="485.8" y="502.90" font-size="7.75" fill="#222">Stage</text>
<rect x="485.8" y="508.10" width="10.7" height="10.7" fill="#7B7E83"/>
<text x="500.30" y="515.50" font-size="7.75" fill="#222">1 (20.9%)</text>
<rect x="485.8" y="519.14" width="10.7" height="10.7" fill="#E3AF89"/>
<text x="500.30" y="526.54" font-size="7.75" fill="#222">2 (25.3%)</text>
<rect x="485.8" y="530.18" width="10.7" height="10.7" fill="#87B7D9"/>
<text x="500.30" y="537.58" font-size="7.75" fill="#222">3 (34.1%)</text>
<rect x="485.8" y="541.22" width="10.7" height="10.7" fill="#C58D84"/>
<text x="500.30" y="548.62" font-size="7.75" fill="#222">4 (16.5%)</text>
<rect x="485.8" y="552.26" width="10.7" height="10.7" fill="#A9C9B8"/>
<text x="500.30" y="559.66" font-size="7.75" fill="#222">5 (3.3%)</text>
<text x="563.3" y="502.90" font-size="7.75" fill="#222">Prognosis</text>
<rect x="563.3" y="508.10" width="10.7" height="10.7" fill="#7B9BD0"/>
<text x="577.80" y="515.50" font-size="7.75" fill="#222">Dead (1.1%)</text>
<rect x="563.3" y="519.14" width="10.7" height="10.7" fill="#EECB86"/>
<text x="577.80" y="526.54" font-size="7.75" fill="#222">Event-free (87.9%)</text>
<rect x="563.3" y="530.18" width="10.7" height="10.7" fill="#B0ABA8"/>
<text x="577.80" y="537.58" font-size="7.75" fill="#222">NA (4.4%)</text>
<rect x="563.3" y="541.22" width="10.7" height="10.7" fill="#D4928A"/>
<text x="577.80" y="548.62" font-size="7.75" fill="#222">Recurrence (6.6%)</text>
<text x="470.7" y="641.80" font-size="7.75" fill="#222">Pre-treated_(Chemotherapy)</text>
<rect x="470.7" y="647.00" width="10.7" height="10.7" fill="#7B7D82"/>
<text x="485.20" y="654.40" font-size="7.75" fill="#222">0 (70.3%)</text>
<rect x="470.7" y="658.70" width="10.7" height="10.7" fill="#E3AE86"/>
<text x="485.20" y="666.10" font-size="7.75" fill="#222">1 (29.7%)</text>
<text x="577.2" y="641.80" font-size="7.75" fill="#222">Matastasis</text>
<rect x="577.2" y="647.00" width="10.7" height="10.7" fill="#7B7D82"/>
<text x="591.70" y="654.40" font-size="7.75" fill="#222">No (83.5%)</text>
<rect x="577.2" y="658.70" width="10.7" height="10.7" fill="#E3AE86"/>
<text x="591.70" y="666.10" font-size="7.75" fill="#222">Yes (16.5%)</text>
<text x="3.4" y="556" font-size="17.5" fill="#222">d</text>
<text x="143.6" y="543.3" font-size="8.9" fill="#1a1a1a">Tissue</text>
<line x1="179.79999999999998" y1="535.6" x2="179.79999999999998" y2="545.6" stroke="#333" stroke-width="0.8"/>
<rect x="174.2" y="537" width="11.2" height="7" fill="#819DC8" stroke="#333" stroke-width="0.8"/>
<line x1="174.2" y1="540.6" x2="185.39999999999998" y2="540.6" stroke="#333" stroke-width="1.2"/>
<text x="191.7" y="543.3" font-size="8.9" fill="#1a1a1a">NAT</text>
<line x1="224.4" y1="535.6" x2="224.4" y2="545.6" stroke="#333" stroke-width="0.8"/>
<rect x="218.8" y="537" width="11.2" height="7" fill="#F6B589" stroke="#333" stroke-width="0.8"/>
<line x1="218.8" y1="540.6" x2="230.0" y2="540.6" stroke="#333" stroke-width="1.2"/>
<text x="239.5" y="543.3" font-size="8.9" fill="#1a1a1a">WT</text>
<line x1="35.8" y1="582.00" x2="84.6" y2="582.00" stroke="#a8a8a8" stroke-width="0.9" stroke-dasharray="1,4.5"/>
<line x1="35.8" y1="603.60" x2="84.6" y2="603.60" stroke="#a8a8a8" stroke-width="0.9" stroke-dasharray="1,4.5"/>
<line x1="35.8" y1="625.10" x2="84.6" y2="625.10" stroke="#a8a8a8" stroke-width="0.9" stroke-dasharray="1,4.5"/>
<line x1="35.8" y1="646.50" x2="84.6" y2="646.50" stroke="#a8a8a8" stroke-width="0.9" stroke-dasharray="1,4.5"/>
<line x1="35.8" y1="668.10" x2="84.6" y2="668.10" stroke="#a8a8a8" stroke-width="0.9" stroke-dasharray="1,4.5"/>
<line x1="48.5" y1="560.8" x2="48.5" y2="680.8" stroke="#a8a8a8" stroke-width="0.9" stroke-dasharray="1,4.5"/>
<line x1="71.0" y1="560.8" x2="71.0" y2="680.8" stroke="#a8a8a8" stroke-width="0.9" stroke-dasharray="1,4.5"/>
<line x1="33.3" y1="582.00" x2="35.8" y2="582.00" stroke="#333" stroke-width="0.8"/>
<text x="32.599999999999994" y="584.80" font-size="7.7" fill="#4d4d4d" text-anchor="end">16000</text>
<line x1="33.3" y1="603.60" x2="35.8" y2="603.60" stroke="#333" stroke-width="0.8"/>
<text x="32.599999999999994" y="606.40" font-size="7.7" fill="#4d4d4d" text-anchor="end">15000</text>
<line x1="33.3" y1="625.10" x2="35.8" y2="625.10" stroke="#333" stroke-width="0.8"/>
<text x="32.599999999999994" y="627.90" font-size="7.7" fill="#4d4d4d" text-anchor="end">14000</text>
<line x1="33.3" y1="646.50" x2="35.8" y2="646.50" stroke="#333" stroke-width="0.8"/>
<text x="32.599999999999994" y="649.30" font-size="7.7" fill="#4d4d4d" text-anchor="end">13000</text>
<line x1="33.3" y1="668.10" x2="35.8" y2="668.10" stroke="#333" stroke-width="0.8"/>
<text x="32.599999999999994" y="670.90" font-size="7.7" fill="#4d4d4d" text-anchor="end">12000</text>
<text transform="translate(5.8,615.8) rotate(-90)" y="2.8" font-size="8.2" fill="#1a1a1a" text-anchor="middle"># of RNAs</text>
<line x1="48.7" y1="581.1" x2="48.7" y2="662.0" stroke="#333" stroke-width="1.1"/>
<rect x="39.7" y="612.4" width="18.00" height="33.00" fill="#819DC8" stroke="#333" stroke-width="1.3"/>
<line x1="39.7" y1="626.3" x2="57.7" y2="626.3" stroke="#333" stroke-width="2.5"/>
<line x1="71.2" y1="587.2" x2="71.2" y2="633.2" stroke="#333" stroke-width="1.1"/>
<rect x="62.5" y="603.3" width="17.40" height="14.40" fill="#F6B589" stroke="#333" stroke-width="1.3"/>
<line x1="62.5" y1="608.6" x2="79.9" y2="608.6" stroke="#333" stroke-width="2.5"/>
<circle cx="48.90" cy="583.30" r="1.25" fill="#5F8AC6" opacity="0.8"/>
<circle cx="47.80" cy="590.00" r="1.25" fill="#5F8AC6" opacity="0.8"/>
<circle cx="43.90" cy="593.30" r="1.25" fill="#5F8AC6" opacity="0.8"/>
<circle cx="45.00" cy="597.70" r="1.25" fill="#5F8AC6" opacity="0.8"/>
<circle cx="46.10" cy="602.20" r="1.25" fill="#5F8AC6" opacity="0.8"/>
<circle cx="52.50" cy="601.60" r="1.25" fill="#5F8AC6" opacity="0.8"/>
<circle cx="46.10" cy="604.40" r="1.25" fill="#5F8AC6" opacity="0.8"/>
<circle cx="51.10" cy="606.60" r="1.25" fill="#5F8AC6" opacity="0.8"/>
<circle cx="47.20" cy="611.00" r="1.25" fill="#5F8AC6" opacity="0.8"/>
<circle cx="45.50" cy="615.50" r="1.25" fill="#5F8AC6" opacity="0.8"/>
<circle cx="51.60" cy="614.90" r="1.25" fill="#5F8AC6" opacity="0.8"/>
<circle cx="48.30" cy="617.70" r="1.25" fill="#5F8AC6" opacity="0.8"/>
<circle cx="44.40" cy="620.50" r="1.25" fill="#5F8AC6" opacity="0.8"/>
<circle cx="52.70" cy="621.60" r="1.25" fill="#5F8AC6" opacity="0.8"/>
<circle cx="48.90" cy="622.70" r="1.25" fill="#5F8AC6" opacity="0.8"/>
<circle cx="45.00" cy="628.20" r="1.25" fill="#5F8AC6" opacity="0.8"/>
<circle cx="51.60" cy="627.70" r="1.25" fill="#5F8AC6" opacity="0.8"/>
<circle cx="49.40" cy="633.20" r="1.25" fill="#5F8AC6" opacity="0.8"/>
<circle cx="51.60" cy="639.30" r="1.25" fill="#5F8AC6" opacity="0.8"/>
<circle cx="50.50" cy="641.50" r="1.25" fill="#5F8AC6" opacity="0.8"/>
<circle cx="46.60" cy="645.40" r="1.25" fill="#5F8AC6" opacity="0.8"/>
<circle cx="46.10" cy="646.50" r="1.25" fill="#5F8AC6" opacity="0.8"/>
<circle cx="47.20" cy="650.40" r="1.25" fill="#5F8AC6" opacity="0.8"/>
<circle cx="50.00" cy="652.10" r="1.25" fill="#5F8AC6" opacity="0.8"/>
<circle cx="47.20" cy="655.40" r="1.25" fill="#5F8AC6" opacity="0.8"/>
<circle cx="52.20" cy="662.00" r="1.25" fill="#5F8AC6" opacity="0.8"/>
<circle cx="51.82" cy="612.59" r="1.25" fill="#5F8AC6" opacity="0.8"/>
<circle cx="51.35" cy="641.64" r="1.25" fill="#5F8AC6" opacity="0.8"/>
<circle cx="49.37" cy="629.52" r="1.25" fill="#5F8AC6" opacity="0.8"/>
<circle cx="52.77" cy="614.25" r="1.25" fill="#5F8AC6" opacity="0.8"/>
<circle cx="48.75" cy="618.99" r="1.25" fill="#5F8AC6" opacity="0.8"/>
<circle cx="47.01" cy="624.17" r="1.25" fill="#5F8AC6" opacity="0.8"/>
<circle cx="49.94" cy="632.98" r="1.25" fill="#5F8AC6" opacity="0.8"/>
<circle cx="45.73" cy="613.32" r="1.25" fill="#5F8AC6" opacity="0.8"/>
<circle cx="68.80" cy="587.20" r="1.25" fill="#F58D4F" opacity="0.8"/>
<circle cx="71.60" cy="589.70" r="1.25" fill="#F58D4F" opacity="0.8"/>
<circle cx="67.20" cy="595.50" r="1.25" fill="#F58D4F" opacity="0.8"/>
<circle cx="70.50" cy="597.70" r="1.25" fill="#F58D4F" opacity="0.8"/>
<circle cx="73.30" cy="598.30" r="1.25" fill="#F58D4F" opacity="0.8"/>
<circle cx="68.30" cy="599.90" r="1.25" fill="#F58D4F" opacity="0.8"/>
<circle cx="74.40" cy="601.00" r="1.25" fill="#F58D4F" opacity="0.8"/>
<circle cx="71.00" cy="602.70" r="1.25" fill="#F58D4F" opacity="0.8"/>
<circle cx="76.00" cy="603.30" r="1.25" fill="#F58D4F" opacity="0.8"/>
<circle cx="66.00" cy="605.50" r="1.25" fill="#F58D4F" opacity="0.8"/>
<circle cx="72.70" cy="605.50" r="1.25" fill="#F58D4F" opacity="0.8"/>
<circle cx="68.30" cy="608.30" r="1.25" fill="#F58D4F" opacity="0.8"/>
<circle cx="74.90" cy="608.30" r="1.25" fill="#F58D4F" opacity="0.8"/>
<circle cx="64.90" cy="612.10" r="1.25" fill="#F58D4F" opacity="0.8"/>
<circle cx="71.60" cy="612.10" r="1.25" fill="#F58D4F" opacity="0.8"/>
<circle cx="67.20" cy="615.50" r="1.25" fill="#F58D4F" opacity="0.8"/>
<circle cx="73.80" cy="615.50" r="1.25" fill="#F58D4F" opacity="0.8"/>
<circle cx="69.40" cy="618.80" r="1.25" fill="#F58D4F" opacity="0.8"/>
<circle cx="74.40" cy="620.50" r="1.25" fill="#F58D4F" opacity="0.8"/>
<circle cx="67.70" cy="620.50" r="1.25" fill="#F58D4F" opacity="0.8"/>
<circle cx="71.60" cy="622.10" r="1.25" fill="#F58D4F" opacity="0.8"/>
<circle cx="74.90" cy="624.30" r="1.25" fill="#F58D4F" opacity="0.8"/>
<circle cx="69.90" cy="627.10" r="1.25" fill="#F58D4F" opacity="0.8"/>
<circle cx="73.30" cy="627.10" r="1.25" fill="#F58D4F" opacity="0.8"/>
<circle cx="68.30" cy="633.20" r="1.25" fill="#F58D4F" opacity="0.8"/>
<circle cx="70.50" cy="659.80" r="1.25" fill="#F58D4F" opacity="0.8"/>
<circle cx="74.10" cy="626.18" r="1.25" fill="#F58D4F" opacity="0.8"/>
<circle cx="70.64" cy="609.99" r="1.25" fill="#F58D4F" opacity="0.8"/>
<circle cx="66.73" cy="614.66" r="1.25" fill="#F58D4F" opacity="0.8"/>
<circle cx="70.46" cy="625.65" r="1.25" fill="#F58D4F" opacity="0.8"/>
<circle cx="70.60" cy="603.33" r="1.25" fill="#F58D4F" opacity="0.8"/>
<circle cx="76.10" cy="606.59" r="1.25" fill="#F58D4F" opacity="0.8"/>
<circle cx="65.98" cy="603.74" r="1.25" fill="#F58D4F" opacity="0.8"/>
<circle cx="69.89" cy="616.82" r="1.25" fill="#F58D4F" opacity="0.8"/>
<circle cx="66.02" cy="606.62" r="1.25" fill="#F58D4F" opacity="0.8"/>
<circle cx="71.15" cy="607.34" r="1.25" fill="#F58D4F" opacity="0.8"/>
<circle cx="68.11" cy="597.82" r="1.25" fill="#F58D4F" opacity="0.8"/>
<circle cx="65.94" cy="607.47" r="1.25" fill="#F58D4F" opacity="0.8"/>
<circle cx="72.77" cy="611.31" r="1.25" fill="#F58D4F" opacity="0.8"/>
<circle cx="75.16" cy="632.86" r="1.25" fill="#F58D4F" opacity="0.8"/>
<circle cx="73.64" cy="602.50" r="1.25" fill="#F58D4F" opacity="0.8"/>
<circle cx="70.34" cy="616.78" r="1.25" fill="#F58D4F" opacity="0.8"/>
<circle cx="69.04" cy="612.95" r="1.25" fill="#F58D4F" opacity="0.8"/>
<circle cx="75.01" cy="616.01" r="1.25" fill="#F58D4F" opacity="0.8"/>
<circle cx="66.08" cy="611.78" r="1.25" fill="#F58D4F" opacity="0.8"/>
<circle cx="70.26" cy="623.88" r="1.25" fill="#F58D4F" opacity="0.8"/>
<circle cx="73.43" cy="612.44" r="1.25" fill="#F58D4F" opacity="0.8"/>
<circle cx="70.53" cy="608.70" r="1.25" fill="#F58D4F" opacity="0.8"/>
<circle cx="71.43" cy="614.51" r="1.25" fill="#F58D4F" opacity="0.8"/>
<circle cx="66.03" cy="610.35" r="1.25" fill="#F58D4F" opacity="0.8"/>
<circle cx="76.52" cy="619.56" r="1.25" fill="#F58D4F" opacity="0.8"/>
<circle cx="67.57" cy="608.97" r="1.25" fill="#F58D4F" opacity="0.8"/>
<circle cx="74.18" cy="617.44" r="1.25" fill="#F58D4F" opacity="0.8"/>
<circle cx="68.25" cy="615.69" r="1.25" fill="#F58D4F" opacity="0.8"/>
<circle cx="72.06" cy="617.02" r="1.25" fill="#F58D4F" opacity="0.8"/>
<circle cx="71.73" cy="607.18" r="1.25" fill="#F58D4F" opacity="0.8"/>
<rect x="35.8" y="560.8" width="48.80" height="120.00" fill="none" stroke="#333" stroke-width="1.1"/>
<path d="M48.5,582.1999999999999 V579.8 H71.0 V582.1999999999999" fill="none" stroke="#1a1a1a" stroke-width="0.8"/>
<text x="62.1" y="577.6" font-size="7.9" fill="#1a1a1a" text-anchor="middle">0.00016</text>
<line x1="119.7" y1="563.40" x2="173.0" y2="563.40" stroke="#a8a8a8" stroke-width="0.9" stroke-dasharray="1,4.5"/>
<line x1="119.7" y1="583.00" x2="173.0" y2="583.00" stroke="#a8a8a8" stroke-width="0.9" stroke-dasharray="1,4.5"/>
<line x1="119.7" y1="602.30" x2="173.0" y2="602.30" stroke="#a8a8a8" stroke-width="0.9" stroke-dasharray="1,4.5"/>
<line x1="119.7" y1="621.60" x2="173.0" y2="621.60" stroke="#a8a8a8" stroke-width="0.9" stroke-dasharray="1,4.5"/>
<line x1="119.7" y1="640.80" x2="173.0" y2="640.80" stroke="#a8a8a8" stroke-width="0.9" stroke-dasharray="1,4.5"/>
<line x1="119.7" y1="659.80" x2="173.0" y2="659.80" stroke="#a8a8a8" stroke-width="0.9" stroke-dasharray="1,4.5"/>
<line x1="119.7" y1="678.90" x2="173.0" y2="678.90" stroke="#a8a8a8" stroke-width="0.9" stroke-dasharray="1,4.5"/>
<line x1="133.8" y1="561.0" x2="133.8" y2="680.8" stroke="#a8a8a8" stroke-width="0.9" stroke-dasharray="1,4.5"/>
<line x1="158.6" y1="561.0" x2="158.6" y2="680.8" stroke="#a8a8a8" stroke-width="0.9" stroke-dasharray="1,4.5"/>
<line x1="117.2" y1="563.40" x2="119.7" y2="563.40" stroke="#333" stroke-width="0.8"/>
<text x="116.5" y="566.20" font-size="7.7" fill="#4d4d4d" text-anchor="end">9500</text>
<line x1="117.2" y1="583.00" x2="119.7" y2="583.00" stroke="#333" stroke-width="0.8"/>
<text x="116.5" y="585.80" font-size="7.7" fill="#4d4d4d" text-anchor="end">9000</text>
<line x1="117.2" y1="602.30" x2="119.7" y2="602.30" stroke="#333" stroke-width="0.8"/>
<text x="116.5" y="605.10" font-size="7.7" fill="#4d4d4d" text-anchor="end">8500</text>
<line x1="117.2" y1="621.60" x2="119.7" y2="621.60" stroke="#333" stroke-width="0.8"/>
<text x="116.5" y="624.40" font-size="7.7" fill="#4d4d4d" text-anchor="end">8000</text>
<line x1="117.2" y1="640.80" x2="119.7" y2="640.80" stroke="#333" stroke-width="0.8"/>
<text x="116.5" y="643.60" font-size="7.7" fill="#4d4d4d" text-anchor="end">7500</text>
<line x1="117.2" y1="659.80" x2="119.7" y2="659.80" stroke="#333" stroke-width="0.8"/>
<text x="116.5" y="662.60" font-size="7.7" fill="#4d4d4d" text-anchor="end">7000</text>
<line x1="117.2" y1="678.90" x2="119.7" y2="678.90" stroke="#333" stroke-width="0.8"/>
<text x="116.5" y="681.70" font-size="7.7" fill="#4d4d4d" text-anchor="end">6500</text>
<text transform="translate(94.6,617.5) rotate(-90)" y="2.8" font-size="8.2" fill="#1a1a1a" text-anchor="middle"># of proteins</text>
<line x1="133.85000000000002" y1="583.0" x2="133.85000000000002" y2="661.0" stroke="#333" stroke-width="1.1"/>
<rect x="124.4" y="597.4" width="18.90" height="33.80" fill="#819DC8" stroke="#333" stroke-width="1.3"/>
<line x1="124.4" y1="610.2" x2="143.3" y2="610.2" stroke="#333" stroke-width="2.5"/>
<line x1="158.6" y1="583.0" x2="158.6" y2="661.0" stroke="#333" stroke-width="1.1"/>
<rect x="149.5" y="597.4" width="18.20" height="37.30" fill="#F6B589" stroke="#333" stroke-width="1.3"/>
<line x1="149.5" y1="610.2" x2="167.7" y2="610.2" stroke="#333" stroke-width="2.5"/>
<circle cx="130.31" cy="583.18" r="1.25" fill="#5F8AC6" opacity="0.8"/>
<circle cx="137.52" cy="583.18" r="1.25" fill="#5F8AC6" opacity="0.8"/>
<circle cx="129.00" cy="589.73" r="1.25" fill="#5F8AC6" opacity="0.8"/>
<circle cx="130.97" cy="590.39" r="1.25" fill="#5F8AC6" opacity="0.8"/>
<circle cx="132.94" cy="589.73" r="1.25" fill="#5F8AC6" opacity="0.8"/>
<circle cx="136.21" cy="590.12" r="1.25" fill="#5F8AC6" opacity="0.8"/>
<circle cx="137.52" cy="589.73" r="1.25" fill="#5F8AC6" opacity="0.8"/>
<circle cx="131.63" cy="593.01" r="1.25" fill="#5F8AC6" opacity="0.8"/>
<circle cx="134.90" cy="594.32" r="1.25" fill="#5F8AC6" opacity="0.8"/>
<circle cx="129.66" cy="597.60" r="1.25" fill="#5F8AC6" opacity="0.8"/>
<circle cx="132.28" cy="598.25" r="1.25" fill="#5F8AC6" opacity="0.8"/>
<circle cx="134.90" cy="597.60" r="1.25" fill="#5F8AC6" opacity="0.8"/>
<circle cx="136.87" cy="598.25" r="1.25" fill="#5F8AC6" opacity="0.8"/>
<circle cx="129.66" cy="600.22" r="1.25" fill="#5F8AC6" opacity="0.8"/>
<circle cx="132.94" cy="600.22" r="1.25" fill="#5F8AC6" opacity="0.8"/>
<circle cx="136.21" cy="600.87" r="1.25" fill="#5F8AC6" opacity="0.8"/>
<circle cx="131.63" cy="603.49" r="1.25" fill="#5F8AC6" opacity="0.8"/>
<circle cx="134.25" cy="603.75" r="1.25" fill="#5F8AC6" opacity="0.8"/>
<circle cx="130.97" cy="608.08" r="1.25" fill="#5F8AC6" opacity="0.8"/>
<circle cx="134.25" cy="608.74" r="1.25" fill="#5F8AC6" opacity="0.8"/>
<circle cx="132.94" cy="611.36" r="1.25" fill="#5F8AC6" opacity="0.8"/>
<circle cx="130.97" cy="617.91" r="1.25" fill="#5F8AC6" opacity="0.8"/>
<circle cx="134.25" cy="618.56" r="1.25" fill="#5F8AC6" opacity="0.8"/>
<circle cx="136.21" cy="618.56" r="1.25" fill="#5F8AC6" opacity="0.8"/>
<circle cx="129.66" cy="624.46" r="1.25" fill="#5F8AC6" opacity="0.8"/>
<circle cx="132.28" cy="625.12" r="1.25" fill="#5F8AC6" opacity="0.8"/>
<circle cx="135.56" cy="624.46" r="1.25" fill="#5F8AC6" opacity="0.8"/>
<circle cx="133.59" cy="627.74" r="1.25" fill="#5F8AC6" opacity="0.8"/>
<circle cx="134.25" cy="631.02" r="1.25" fill="#5F8AC6" opacity="0.8"/>
<circle cx="138.18" cy="634.29" r="1.25" fill="#5F8AC6" opacity="0.8"/>
<circle cx="129.00" cy="642.81" r="1.25" fill="#5F8AC6" opacity="0.8"/>
<circle cx="136.87" cy="642.81" r="1.25" fill="#5F8AC6" opacity="0.8"/>
<circle cx="129.66" cy="658.54" r="1.25" fill="#5F8AC6" opacity="0.8"/>
<circle cx="132.28" cy="658.54" r="1.25" fill="#5F8AC6" opacity="0.8"/>
<circle cx="134.90" cy="659.85" r="1.25" fill="#5F8AC6" opacity="0.8"/>
<circle cx="137.52" cy="659.19" r="1.25" fill="#5F8AC6" opacity="0.8"/>
<circle cx="130.31" cy="661.82" r="1.25" fill="#5F8AC6" opacity="0.8"/>
<circle cx="133.59" cy="662.47" r="1.25" fill="#5F8AC6" opacity="0.8"/>
<circle cx="137.52" cy="663.13" r="1.25" fill="#5F8AC6" opacity="0.8"/>
<circle cx="130.71" cy="590.12" r="1.25" fill="#5F8AC6" opacity="0.8"/>
<circle cx="136.21" cy="593.27" r="1.25" fill="#5F8AC6" opacity="0.8"/>
<circle cx="133.85" cy="599.30" r="1.25" fill="#5F8AC6" opacity="0.8"/>
<circle cx="132.02" cy="606.77" r="1.25" fill="#5F8AC6" opacity="0.8"/>
<circle cx="159.15" cy="583.18" r="1.25" fill="#F58D4F" opacity="0.8"/>
<circle cx="161.77" cy="583.18" r="1.25" fill="#F58D4F" opacity="0.8"/>
<circle cx="155.22" cy="589.73" r="1.25" fill="#F58D4F" opacity="0.8"/>
<circle cx="157.18" cy="591.04" r="1.25" fill="#F58D4F" opacity="0.8"/>
<circle cx="160.46" cy="589.73" r="1.25" fill="#F58D4F" opacity="0.8"/>
<circle cx="162.42" cy="590.39" r="1.25" fill="#F58D4F" opacity="0.8"/>
<circle cx="155.87" cy="593.01" r="1.25" fill="#F58D4F" opacity="0.8"/>
<circle cx="159.15" cy="594.32" r="1.25" fill="#F58D4F" opacity="0.8"/>
<circle cx="153.91" cy="597.60" r="1.25" fill="#F58D4F" opacity="0.8"/>
<circle cx="156.53" cy="598.25" r="1.25" fill="#F58D4F" opacity="0.8"/>
<circle cx="160.46" cy="597.60" r="1.25" fill="#F58D4F" opacity="0.8"/>
<circle cx="163.08" cy="598.91" r="1.25" fill="#F58D4F" opacity="0.8"/>
<circle cx="155.22" cy="600.87" r="1.25" fill="#F58D4F" opacity="0.8"/>
<circle cx="158.49" cy="602.18" r="1.25" fill="#F58D4F" opacity="0.8"/>
<circle cx="161.77" cy="601.53" r="1.25" fill="#F58D4F" opacity="0.8"/>
<circle cx="154.56" cy="604.80" r="1.25" fill="#F58D4F" opacity="0.8"/>
<circle cx="157.84" cy="605.46" r="1.25" fill="#F58D4F" opacity="0.8"/>
<circle cx="160.46" cy="604.80" r="1.25" fill="#F58D4F" opacity="0.8"/>
<circle cx="156.53" cy="608.74" r="1.25" fill="#F58D4F" opacity="0.8"/>
<circle cx="159.80" cy="609.39" r="1.25" fill="#F58D4F" opacity="0.8"/>
<circle cx="157.84" cy="618.56" r="1.25" fill="#F58D4F" opacity="0.8"/>
<circle cx="155.22" cy="624.46" r="1.25" fill="#F58D4F" opacity="0.8"/>
<circle cx="157.84" cy="625.77" r="1.25" fill="#F58D4F" opacity="0.8"/>
<circle cx="161.77" cy="625.12" r="1.25" fill="#F58D4F" opacity="0.8"/>
<circle cx="155.22" cy="631.02" r="1.25" fill="#F58D4F" opacity="0.8"/>
<circle cx="159.15" cy="631.02" r="1.25" fill="#F58D4F" opacity="0.8"/>
<circle cx="162.42" cy="633.64" r="1.25" fill="#F58D4F" opacity="0.8"/>
<circle cx="155.22" cy="642.81" r="1.25" fill="#F58D4F" opacity="0.8"/>
<circle cx="157.84" cy="644.12" r="1.25" fill="#F58D4F" opacity="0.8"/>
<circle cx="161.11" cy="642.81" r="1.25" fill="#F58D4F" opacity="0.8"/>
<circle cx="154.56" cy="658.54" r="1.25" fill="#F58D4F" opacity="0.8"/>
<circle cx="157.18" cy="659.85" r="1.25" fill="#F58D4F" opacity="0.8"/>
<circle cx="159.80" cy="658.54" r="1.25" fill="#F58D4F" opacity="0.8"/>
<circle cx="162.42" cy="660.50" r="1.25" fill="#F58D4F" opacity="0.8"/>
<circle cx="156.53" cy="662.47" r="1.25" fill="#F58D4F" opacity="0.8"/>
<circle cx="160.46" cy="661.82" r="1.25" fill="#F58D4F" opacity="0.8"/>
<circle cx="158.75" cy="590.39" r="1.25" fill="#F58D4F" opacity="0.8"/>
<circle cx="161.38" cy="593.27" r="1.25" fill="#F58D4F" opacity="0.8"/>
<circle cx="157.44" cy="599.30" r="1.25" fill="#F58D4F" opacity="0.8"/>
<circle cx="159.54" cy="607.69" r="1.25" fill="#F58D4F" opacity="0.8"/>
<circle cx="155.87" cy="634.95" r="1.25" fill="#F58D4F" opacity="0.8"/>
<circle cx="160.46" cy="638.88" r="1.25" fill="#F58D4F" opacity="0.8"/>
<rect x="119.7" y="561.0" width="53.30" height="119.80" fill="none" stroke="#333" stroke-width="1.1"/>
<path d="M133.8,581.6 V579.2 H158.6 V581.6" fill="none" stroke="#1a1a1a" stroke-width="0.8"/>
<text x="147.2" y="577.2" font-size="7.9" fill="#1a1a1a" text-anchor="middle">0.99</text>
<line x1="207.3" y1="562.40" x2="261.5" y2="562.40" stroke="#a8a8a8" stroke-width="0.9" stroke-dasharray="1,4.5"/>
<line x1="207.3" y1="596.20" x2="261.5" y2="596.20" stroke="#a8a8a8" stroke-width="0.9" stroke-dasharray="1,4.5"/>
<line x1="207.3" y1="629.80" x2="261.5" y2="629.80" stroke="#a8a8a8" stroke-width="0.9" stroke-dasharray="1,4.5"/>
<line x1="207.3" y1="663.30" x2="261.5" y2="663.30" stroke="#a8a8a8" stroke-width="0.9" stroke-dasharray="1,4.5"/>
<line x1="222.0" y1="561.0" x2="222.0" y2="680.3" stroke="#a8a8a8" stroke-width="0.9" stroke-dasharray="1,4.5"/>
<line x1="246.6" y1="561.0" x2="246.6" y2="680.3" stroke="#a8a8a8" stroke-width="0.9" stroke-dasharray="1,4.5"/>
<line x1="204.8" y1="562.40" x2="207.3" y2="562.40" stroke="#333" stroke-width="0.8"/>
<text x="204.10000000000002" y="565.20" font-size="7.7" fill="#4d4d4d" text-anchor="end">8000</text>
<line x1="204.8" y1="596.20" x2="207.3" y2="596.20" stroke="#333" stroke-width="0.8"/>
<text x="204.10000000000002" y="599.00" font-size="7.7" fill="#4d4d4d" text-anchor="end">6000</text>
<line x1="204.8" y1="629.80" x2="207.3" y2="629.80" stroke="#333" stroke-width="0.8"/>
<text x="204.10000000000002" y="632.60" font-size="7.7" fill="#4d4d4d" text-anchor="end">4000</text>
<line x1="204.8" y1="663.30" x2="207.3" y2="663.30" stroke="#333" stroke-width="0.8"/>
<text x="204.10000000000002" y="666.10" font-size="7.7" fill="#4d4d4d" text-anchor="end">2000</text>
<text transform="translate(182.6,614.2) rotate(-90)" y="2.8" font-size="8.2" fill="#1a1a1a" text-anchor="middle"># of Phosphorylated sites</text>
<line x1="222.10000000000002" y1="572.2" x2="222.10000000000002" y2="663.6" stroke="#333" stroke-width="1.1"/>
<rect x="212.9" y="607.2" width="18.40" height="35.40" fill="#819DC8" stroke="#333" stroke-width="1.3"/>
<line x1="212.9" y1="624.2" x2="231.3" y2="624.2" stroke="#333" stroke-width="2.5"/>
<line x1="246.89999999999998" y1="574.3" x2="246.89999999999998" y2="626.5" stroke="#333" stroke-width="1.1"/>
<rect x="237.4" y="586.2" width="19.00" height="29.20" fill="#F6B589" stroke="#333" stroke-width="1.3"/>
<line x1="237.4" y1="592.7" x2="256.4" y2="592.7" stroke="#333" stroke-width="2.5"/>
<circle cx="221.16" cy="572.17" r="1.25" fill="#5F8AC6" opacity="0.8"/>
<circle cx="221.16" cy="581.28" r="1.25" fill="#5F8AC6" opacity="0.8"/>
<circle cx="222.56" cy="594.42" r="1.25" fill="#5F8AC6" opacity="0.8"/>
<circle cx="224.31" cy="596.17" r="1.25" fill="#5F8AC6" opacity="0.8"/>
<circle cx="225.19" cy="599.67" r="1.25" fill="#5F8AC6" opacity="0.8"/>
<circle cx="222.56" cy="611.94" r="1.25" fill="#5F8AC6" opacity="0.8"/>
<circle cx="219.93" cy="617.19" r="1.25" fill="#5F8AC6" opacity="0.8"/>
<circle cx="224.31" cy="615.44" r="1.25" fill="#5F8AC6" opacity="0.8"/>
<circle cx="222.56" cy="620.70" r="1.25" fill="#5F8AC6" opacity="0.8"/>
<circle cx="220.81" cy="625.95" r="1.25" fill="#5F8AC6" opacity="0.8"/>
<circle cx="224.31" cy="628.58" r="1.25" fill="#5F8AC6" opacity="0.8"/>
<circle cx="222.56" cy="632.08" r="1.25" fill="#5F8AC6" opacity="0.8"/>
<circle cx="225.19" cy="633.84" r="1.25" fill="#5F8AC6" opacity="0.8"/>
<circle cx="220.81" cy="635.94" r="1.25" fill="#5F8AC6" opacity="0.8"/>
<circle cx="222.56" cy="639.09" r="1.25" fill="#5F8AC6" opacity="0.8"/>
<circle cx="226.06" cy="642.60" r="1.25" fill="#5F8AC6" opacity="0.8"/>
<circle cx="223.43" cy="648.73" r="1.25" fill="#5F8AC6" opacity="0.8"/>
<circle cx="220.81" cy="654.86" r="1.25" fill="#5F8AC6" opacity="0.8"/>
<circle cx="219.93" cy="655.74" r="1.25" fill="#5F8AC6" opacity="0.8"/>
<circle cx="226.06" cy="658.01" r="1.25" fill="#5F8AC6" opacity="0.8"/>
<circle cx="218.18" cy="664.50" r="1.25" fill="#5F8AC6" opacity="0.8"/>
<circle cx="226.12" cy="575.03" r="1.25" fill="#5F8AC6" opacity="0.8"/>
<circle cx="226.27" cy="632.65" r="1.25" fill="#5F8AC6" opacity="0.8"/>
<circle cx="220.94" cy="639.81" r="1.25" fill="#5F8AC6" opacity="0.8"/>
<circle cx="226.89" cy="622.94" r="1.25" fill="#5F8AC6" opacity="0.8"/>
<circle cx="218.10" cy="610.65" r="1.25" fill="#5F8AC6" opacity="0.8"/>
<circle cx="247.96" cy="575.15" r="1.25" fill="#F58D4F" opacity="0.8"/>
<circle cx="243.58" cy="582.15" r="1.25" fill="#F58D4F" opacity="0.8"/>
<circle cx="241.83" cy="586.53" r="1.25" fill="#F58D4F" opacity="0.8"/>
<circle cx="249.71" cy="586.53" r="1.25" fill="#F58D4F" opacity="0.8"/>
<circle cx="245.33" cy="589.16" r="1.25" fill="#F58D4F" opacity="0.8"/>
<circle cx="250.59" cy="590.04" r="1.25" fill="#F58D4F" opacity="0.8"/>
<circle cx="244.46" cy="592.67" r="1.25" fill="#F58D4F" opacity="0.8"/>
<circle cx="247.96" cy="597.05" r="1.25" fill="#F58D4F" opacity="0.8"/>
<circle cx="245.33" cy="602.30" r="1.25" fill="#F58D4F" opacity="0.8"/>
<circle cx="251.46" cy="606.68" r="1.25" fill="#F58D4F" opacity="0.8"/>
<circle cx="243.58" cy="611.94" r="1.25" fill="#F58D4F" opacity="0.8"/>
<circle cx="249.71" cy="611.94" r="1.25" fill="#F58D4F" opacity="0.8"/>
<circle cx="251.46" cy="618.95" r="1.25" fill="#F58D4F" opacity="0.8"/>
<circle cx="247.96" cy="625.95" r="1.25" fill="#F58D4F" opacity="0.8"/>
<circle cx="250.59" cy="625.08" r="1.25" fill="#F58D4F" opacity="0.8"/>
<circle cx="246.21" cy="660.12" r="1.25" fill="#F58D4F" opacity="0.8"/>
<circle cx="250.59" cy="662.22" r="1.25" fill="#F58D4F" opacity="0.8"/>
<circle cx="245.33" cy="675.01" r="1.25" fill="#F58D4F" opacity="0.8"/>
<circle cx="245.47" cy="602.71" r="1.25" fill="#F58D4F" opacity="0.8"/>
<circle cx="242.12" cy="604.47" r="1.25" fill="#F58D4F" opacity="0.8"/>
<circle cx="244.25" cy="618.02" r="1.25" fill="#F58D4F" opacity="0.8"/>
<circle cx="246.57" cy="626.27" r="1.25" fill="#F58D4F" opacity="0.8"/>
<circle cx="248.43" cy="600.11" r="1.25" fill="#F58D4F" opacity="0.8"/>
<circle cx="250.95" cy="607.44" r="1.25" fill="#F58D4F" opacity="0.8"/>
<circle cx="248.79" cy="607.84" r="1.25" fill="#F58D4F" opacity="0.8"/>
<circle cx="247.90" cy="613.88" r="1.25" fill="#F58D4F" opacity="0.8"/>
<rect x="207.3" y="561.0" width="54.20" height="119.30" fill="none" stroke="#333" stroke-width="1.1"/>
<path d="M222.0,569.3 V566.9 H246.6 V569.3" fill="none" stroke="#1a1a1a" stroke-width="0.8"/>
<text x="234.3" y="565.0" font-size="6.4" fill="#1a1a1a" text-anchor="middle">0.011</text>
<line x1="296.5" y1="571.10" x2="349.6" y2="571.10" stroke="#a8a8a8" stroke-width="0.9" stroke-dasharray="1,4.5"/>
<line x1="296.5" y1="601.10" x2="349.6" y2="601.10" stroke="#a8a8a8" stroke-width="0.9" stroke-dasharray="1,4.5"/>
<line x1="296.5" y1="631.20" x2="349.6" y2="631.20" stroke="#a8a8a8" stroke-width="0.9" stroke-dasharray="1,4.5"/>
<line x1="296.5" y1="661.00" x2="349.6" y2="661.00" stroke="#a8a8a8" stroke-width="0.9" stroke-dasharray="1,4.5"/>
<line x1="310.5" y1="560.8" x2="310.5" y2="680.8" stroke="#a8a8a8" stroke-width="0.9" stroke-dasharray="1,4.5"/>
<line x1="335.2" y1="560.8" x2="335.2" y2="680.8" stroke="#a8a8a8" stroke-width="0.9" stroke-dasharray="1,4.5"/>
<line x1="294.0" y1="571.10" x2="296.5" y2="571.10" stroke="#333" stroke-width="0.8"/>
<text x="293.3" y="573.90" font-size="7.7" fill="#4d4d4d" text-anchor="end">2500</text>
<line x1="294.0" y1="601.10" x2="296.5" y2="601.10" stroke="#333" stroke-width="0.8"/>
<text x="293.3" y="603.90" font-size="7.7" fill="#4d4d4d" text-anchor="end">2000</text>
<line x1="294.0" y1="631.20" x2="296.5" y2="631.20" stroke="#333" stroke-width="0.8"/>
<text x="293.3" y="634.00" font-size="7.7" fill="#4d4d4d" text-anchor="end">1500</text>
<line x1="294.0" y1="661.00" x2="296.5" y2="661.00" stroke="#333" stroke-width="0.8"/>
<text x="293.3" y="663.80" font-size="7.7" fill="#4d4d4d" text-anchor="end">1000</text>
<text transform="translate(270.8,613.1) rotate(-90)" y="2.8" font-size="8.2" fill="#1a1a1a" text-anchor="middle"># of phosphorylated proteins</text>
<line x1="311.0" y1="577.4" x2="311.0" y2="662.2" stroke="#333" stroke-width="1.1"/>
<rect x="301.8" y="598.4" width="18.40" height="29.60" fill="#819DC8" stroke="#333" stroke-width="1.3"/>
<line x1="301.8" y1="611.6" x2="320.2" y2="611.6" stroke="#333" stroke-width="2.5"/>
<line x1="335.15" y1="573.9" x2="335.15" y2="613.7" stroke="#333" stroke-width="1.1"/>
<rect x="325.6" y="587.8" width="19.10" height="19.40" fill="#F6B589" stroke="#333" stroke-width="1.3"/>
<line x1="325.6" y1="592.7" x2="344.7" y2="592.7" stroke="#333" stroke-width="2.5"/>
<circle cx="313.69" cy="576.90" r="1.25" fill="#5F8AC6" opacity="0.8"/>
<circle cx="310.19" cy="581.28" r="1.25" fill="#5F8AC6" opacity="0.8"/>
<circle cx="311.94" cy="582.15" r="1.25" fill="#5F8AC6" opacity="0.8"/>
<circle cx="308.43" cy="585.66" r="1.25" fill="#5F8AC6" opacity="0.8"/>
<circle cx="310.19" cy="589.16" r="1.25" fill="#5F8AC6" opacity="0.8"/>
<circle cx="307.56" cy="592.67" r="1.25" fill="#5F8AC6" opacity="0.8"/>
<circle cx="311.94" cy="599.67" r="1.25" fill="#5F8AC6" opacity="0.8"/>
<circle cx="306.68" cy="605.81" r="1.25" fill="#5F8AC6" opacity="0.8"/>
<circle cx="309.31" cy="606.68" r="1.25" fill="#5F8AC6" opacity="0.8"/>
<circle cx="312.81" cy="604.05" r="1.25" fill="#5F8AC6" opacity="0.8"/>
<circle cx="315.44" cy="605.81" r="1.25" fill="#5F8AC6" opacity="0.8"/>
<circle cx="311.06" cy="612.81" r="1.25" fill="#5F8AC6" opacity="0.8"/>
<circle cx="309.31" cy="615.44" r="1.25" fill="#5F8AC6" opacity="0.8"/>
<circle cx="313.69" cy="620.70" r="1.25" fill="#5F8AC6" opacity="0.8"/>
<circle cx="310.19" cy="626.83" r="1.25" fill="#5F8AC6" opacity="0.8"/>
<circle cx="305.81" cy="628.58" r="1.25" fill="#5F8AC6" opacity="0.8"/>
<circle cx="311.94" cy="635.59" r="1.25" fill="#5F8AC6" opacity="0.8"/>
<circle cx="308.43" cy="644.35" r="1.25" fill="#5F8AC6" opacity="0.8"/>
<circle cx="306.68" cy="645.22" r="1.25" fill="#5F8AC6" opacity="0.8"/>
<circle cx="311.06" cy="649.60" r="1.25" fill="#5F8AC6" opacity="0.8"/>
<circle cx="307.56" cy="662.22" r="1.25" fill="#5F8AC6" opacity="0.8"/>
<circle cx="312.16" cy="600.97" r="1.25" fill="#5F8AC6" opacity="0.8"/>
<circle cx="307.46" cy="613.38" r="1.25" fill="#5F8AC6" opacity="0.8"/>
<circle cx="315.78" cy="601.04" r="1.25" fill="#5F8AC6" opacity="0.8"/>
<circle cx="308.80" cy="614.61" r="1.25" fill="#5F8AC6" opacity="0.8"/>
<circle cx="315.21" cy="615.34" r="1.25" fill="#5F8AC6" opacity="0.8"/>
<circle cx="332.08" cy="573.40" r="1.25" fill="#F58D4F" opacity="0.8"/>
<circle cx="333.84" cy="575.15" r="1.25" fill="#F58D4F" opacity="0.8"/>
<circle cx="338.22" cy="576.90" r="1.25" fill="#F58D4F" opacity="0.8"/>
<circle cx="337.34" cy="581.28" r="1.25" fill="#F58D4F" opacity="0.8"/>
<circle cx="336.46" cy="585.66" r="1.25" fill="#F58D4F" opacity="0.8"/>
<circle cx="332.96" cy="590.04" r="1.25" fill="#F58D4F" opacity="0.8"/>
<circle cx="338.22" cy="590.04" r="1.25" fill="#F58D4F" opacity="0.8"/>
<circle cx="334.71" cy="592.67" r="1.25" fill="#F58D4F" opacity="0.8"/>
<circle cx="337.34" cy="596.17" r="1.25" fill="#F58D4F" opacity="0.8"/>
<circle cx="331.21" cy="599.67" r="1.25" fill="#F58D4F" opacity="0.8"/>
<circle cx="335.59" cy="601.43" r="1.25" fill="#F58D4F" opacity="0.8"/>
<circle cx="339.97" cy="604.05" r="1.25" fill="#F58D4F" opacity="0.8"/>
<circle cx="333.84" cy="607.56" r="1.25" fill="#F58D4F" opacity="0.8"/>
<circle cx="334.71" cy="613.69" r="1.25" fill="#F58D4F" opacity="0.8"/>
<circle cx="332.08" cy="651.36" r="1.25" fill="#F58D4F" opacity="0.8"/>
<circle cx="333.84" cy="655.74" r="1.25" fill="#F58D4F" opacity="0.8"/>
<circle cx="334.71" cy="674.13" r="1.25" fill="#F58D4F" opacity="0.8"/>
<circle cx="334.01" cy="578.01" r="1.25" fill="#F58D4F" opacity="0.8"/>
<circle cx="334.07" cy="576.55" r="1.25" fill="#F58D4F" opacity="0.8"/>
<circle cx="338.07" cy="603.33" r="1.25" fill="#F58D4F" opacity="0.8"/>
<circle cx="332.69" cy="595.26" r="1.25" fill="#F58D4F" opacity="0.8"/>
<circle cx="332.01" cy="578.13" r="1.25" fill="#F58D4F" opacity="0.8"/>
<circle cx="338.52" cy="603.88" r="1.25" fill="#F58D4F" opacity="0.8"/>
<circle cx="333.06" cy="591.55" r="1.25" fill="#F58D4F" opacity="0.8"/>
<circle cx="339.05" cy="602.00" r="1.25" fill="#F58D4F" opacity="0.8"/>
<rect x="296.5" y="560.8" width="53.10" height="120.00" fill="none" stroke="#333" stroke-width="1.1"/>
<path d="M310.5,570.5 V568.1 H335.2 V570.5" fill="none" stroke="#1a1a1a" stroke-width="0.8"/>
<text x="324.2" y="566.4" font-size="7.7" fill="#1a1a1a" text-anchor="middle">0.045</text>
<text x="2.6" y="727.9" font-size="17.5" fill="#222">e</text>
<rect x="191.90" y="823.60" width="6.20" height="0.50" fill="#9DB3D6" stroke="#5C87BF" stroke-width="0.7"/>
<rect x="198.10" y="823.40" width="6.20" height="0.70" fill="#9DB3D6" stroke="#5C87BF" stroke-width="0.7"/>
<rect x="204.30" y="823.10" width="6.20" height="1.00" fill="#9DB3D6" stroke="#5C87BF" stroke-width="0.7"/>
<rect x="210.50" y="822.60" width="6.20" height="1.50" fill="#9DB3D6" stroke="#5C87BF" stroke-width="0.7"/>
<rect x="216.70" y="821.60" width="6.20" height="2.50" fill="#9DB3D6" stroke="#5C87BF" stroke-width="0.7"/>
<rect x="222.90" y="819.60" width="6.20" height="4.50" fill="#9DB3D6" stroke="#5C87BF" stroke-width="0.7"/>
<rect x="229.10" y="814.40" width="6.20" height="9.70" fill="#9DB3D6" stroke="#5C87BF" stroke-width="0.7"/>
<rect x="235.30" y="812.30" width="6.20" height="11.80" fill="#9DB3D6" stroke="#5C87BF" stroke-width="0.7"/>
<rect x="241.50" y="800.00" width="6.20" height="24.10" fill="#9DB3D6" stroke="#5C87BF" stroke-width="0.7"/>
<rect x="247.70" y="797.40" width="6.20" height="26.70" fill="#9DB3D6" stroke="#5C87BF" stroke-width="0.7"/>
<rect x="253.90" y="788.30" width="6.20" height="35.80" fill="#9DB3D6" stroke="#5C87BF" stroke-width="0.7"/>
<rect x="260.10" y="781.00" width="6.20" height="43.10" fill="#9DB3D6" stroke="#5C87BF" stroke-width="0.7"/>
<rect x="266.30" y="761.00" width="6.20" height="63.10" fill="#9DB3D6" stroke="#5C87BF" stroke-width="0.7"/>
<rect x="272.50" y="761.00" width="6.20" height="63.10" fill="#9DB3D6" stroke="#5C87BF" stroke-width="0.7"/>
<rect x="278.70" y="753.20" width="6.20" height="70.90" fill="#9DB3D6" stroke="#5C87BF" stroke-width="0.7"/>
<rect x="284.90" y="739.30" width="6.20" height="84.80" fill="#9DB3D6" stroke="#5C87BF" stroke-width="0.7"/>
<rect x="291.10" y="734.50" width="6.20" height="89.60" fill="#9DB3D6" stroke="#5C87BF" stroke-width="0.7"/>
<rect x="297.30" y="734.40" width="6.20" height="89.70" fill="#9DB3D6" stroke="#5C87BF" stroke-width="0.7"/>
<rect x="303.50" y="723.00" width="6.20" height="101.10" fill="#9DB3D6" stroke="#5C87BF" stroke-width="0.7"/>
<rect x="309.70" y="736.90" width="6.20" height="87.20" fill="#9DB3D6" stroke="#5C87BF" stroke-width="0.7"/>
<rect x="315.90" y="738.40" width="6.20" height="85.70" fill="#9DB3D6" stroke="#5C87BF" stroke-width="0.7"/>
<rect x="322.10" y="755.60" width="6.20" height="68.50" fill="#9DB3D6" stroke="#5C87BF" stroke-width="0.7"/>
<rect x="328.30" y="771.20" width="6.20" height="52.90" fill="#9DB3D6" stroke="#5C87BF" stroke-width="0.7"/>
<rect x="334.50" y="781.40" width="6.20" height="42.70" fill="#9DB3D6" stroke="#5C87BF" stroke-width="0.7"/>
<rect x="340.70" y="791.20" width="6.20" height="32.90" fill="#9DB3D6" stroke="#5C87BF" stroke-width="0.7"/>
<rect x="346.90" y="803.30" width="6.20" height="20.80" fill="#9DB3D6" stroke="#5C87BF" stroke-width="0.7"/>
<rect x="353.10" y="811.60" width="6.20" height="12.50" fill="#9DB3D6" stroke="#5C87BF" stroke-width="0.7"/>
<rect x="359.30" y="817.20" width="6.20" height="6.90" fill="#9DB3D6" stroke="#5C87BF" stroke-width="0.7"/>
<rect x="365.50" y="820.40" width="6.20" height="3.70" fill="#9DB3D6" stroke="#5C87BF" stroke-width="0.7"/>
<rect x="371.70" y="822.70" width="6.20" height="1.40" fill="#9DB3D6" stroke="#5C87BF" stroke-width="0.7"/>
<path d="M191.90,823.90 C192.42,823.84 193.45,823.64 195.00,823.55 C196.55,823.46 199.13,823.46 201.20,823.38 C203.27,823.29 205.33,823.20 207.40,823.05 C209.47,822.90 211.53,822.76 213.60,822.48 C215.67,822.19 217.73,821.96 219.80,821.35 C221.87,820.74 223.93,819.83 226.00,818.80 C228.07,817.77 230.13,816.68 232.20,815.17 C234.27,813.67 236.33,811.88 238.40,809.75 C240.47,807.62 242.53,804.75 244.60,802.42 C246.67,800.10 248.73,798.05 250.80,795.77 C252.87,793.50 254.93,791.74 257.00,788.75 C259.07,785.76 261.13,781.62 263.20,777.83 C265.27,774.03 267.33,769.13 269.40,766.00 C271.47,762.87 273.53,761.44 275.60,759.05 C277.67,756.66 279.73,754.59 281.80,751.67 C283.87,748.76 285.93,744.24 288.00,741.58 C290.07,738.91 292.13,737.34 294.20,735.67 C296.27,734.01 298.33,732.63 300.40,731.58 C302.47,730.52 304.53,728.95 306.60,729.33 C308.67,729.70 310.73,731.63 312.80,733.80 C314.87,735.97 316.93,738.76 319.00,742.33 C321.07,745.89 323.13,750.61 325.20,755.20 C327.27,759.79 329.33,765.50 331.40,769.85 C333.47,774.20 335.53,777.65 337.60,781.30 C339.67,784.95 341.73,788.27 343.80,791.77 C345.87,795.28 347.93,799.16 350.00,802.35 C352.07,805.54 354.13,808.55 356.20,810.92 C358.27,813.30 360.33,815.06 362.40,816.60 C364.47,818.14 366.53,819.25 368.60,820.17 C370.67,821.10 373.25,821.50 374.80,822.12 C376.35,822.75 377.38,823.60 377.90,823.90" fill="none" stroke="#5C87BF" stroke-width="0.9" opacity="0.9"/>
<line x1="299.5" y1="706" x2="299.5" y2="829" stroke="#000" stroke-width="1.45" stroke-dasharray="3.6,2.1"/>
<line x1="152.9" y1="707.5" x2="152.9" y2="829.3" stroke="#000" stroke-width="1.25"/>
<line x1="152.9" y1="829.3" x2="412.6" y2="829.3" stroke="#000" stroke-width="1.25"/>
<line x1="150.70000000000002" y1="708.4" x2="152.9" y2="708.4" stroke="#333" stroke-width="0.7"/>
<text x="148.70000000000002" y="711.1" font-size="7.9" fill="#4d4d4d" text-anchor="end">2.0</text>
<line x1="150.70000000000002" y1="736.9" x2="152.9" y2="736.9" stroke="#333" stroke-width="0.7"/>
<text x="148.70000000000002" y="739.6" font-size="7.9" fill="#4d4d4d" text-anchor="end">1.5</text>
<line x1="150.70000000000002" y1="765.8" x2="152.9" y2="765.8" stroke="#333" stroke-width="0.7"/>
<text x="148.70000000000002" y="768.5" font-size="7.9" fill="#4d4d4d" text-anchor="end">1.0</text>
<line x1="150.70000000000002" y1="795.1" x2="152.9" y2="795.1" stroke="#333" stroke-width="0.7"/>
<text x="148.70000000000002" y="797.8000000000001" font-size="7.9" fill="#4d4d4d" text-anchor="end">0.5</text>
<line x1="150.70000000000002" y1="823.6" x2="152.9" y2="823.6" stroke="#333" stroke-width="0.7"/>
<text x="148.70000000000002" y="826.3000000000001" font-size="7.9" fill="#4d4d4d" text-anchor="end">0.0</text>
<line x1="156.4" y1="829.3" x2="156.4" y2="831.5" stroke="#333" stroke-width="0.7"/>
<text x="156.4" y="839.8" font-size="7.9" fill="#4d4d4d" text-anchor="middle">-1</text>
<line x1="275.5" y1="829.3" x2="275.5" y2="831.5" stroke="#333" stroke-width="0.7"/>
<text x="275.5" y="839.8" font-size="7.9" fill="#4d4d4d" text-anchor="middle">0</text>
<line x1="395.1" y1="829.3" x2="395.1" y2="831.5" stroke="#333" stroke-width="0.7"/>
<text x="395.1" y="839.8" font-size="7.9" fill="#4d4d4d" text-anchor="middle">1</text>
<text transform="translate(129.6,768) rotate(-90)" y="3.3" font-size="9.7" fill="#1a1a1a" text-anchor="middle">Density</text>
<text x="305.8" y="708.1" font-size="11" fill="#111" text-anchor="middle">median = 0.2</text>
<text x="166.4" y="708.1" font-size="11" fill="#111">Tissue</text>
<rect x="200.3" y="703.6" width="6.2" height="4.6" fill="#9DB3D6" stroke="#5C87BF" stroke-width="0.6"/><line x1="200.3" y1="705.9" x2="206.5" y2="705.9" stroke="#5C87BF" stroke-width="0.6"/>
<text x="209.6" y="708.1" font-size="11" fill="#111">NAT</text>
<rect x="232" y="703.6" width="6.2" height="4.6" fill="#F6B78A" stroke="#F09A5E" stroke-width="0.6"/><line x1="232" y1="705.9" x2="238.2" y2="705.9" stroke="#E07840" stroke-width="0.6"/>
<text x="241.4" y="708.1" font-size="11" fill="#111">WT</text>
<text x="305.2" y="849.3" font-size="11.2" fill="#111" text-anchor="middle">Spearman correlation</text>
<rect x="470.30" y="823.40" width="4.47" height="0.60" fill="#F6BB90" stroke="#F0995E" stroke-width="0.7"/>
<rect x="474.77" y="822.80" width="4.47" height="1.20" fill="#F6BB90" stroke="#F0995E" stroke-width="0.7"/>
<rect x="479.24" y="821.60" width="4.47" height="2.40" fill="#F6BB90" stroke="#F0995E" stroke-width="0.7"/>
<rect x="483.71" y="819.90" width="4.47" height="4.10" fill="#F6BB90" stroke="#F0995E" stroke-width="0.7"/>
<rect x="488.18" y="819.00" width="4.47" height="5.00" fill="#F6BB90" stroke="#F0995E" stroke-width="0.7"/>
<rect x="492.65" y="814.60" width="4.47" height="9.40" fill="#F6BB90" stroke="#F0995E" stroke-width="0.7"/>
<rect x="497.12" y="812.30" width="4.47" height="11.70" fill="#F6BB90" stroke="#F0995E" stroke-width="0.7"/>
<rect x="501.59" y="808.20" width="4.47" height="15.80" fill="#F6BB90" stroke="#F0995E" stroke-width="0.7"/>
<rect x="506.06" y="800.00" width="4.47" height="24.00" fill="#F6BB90" stroke="#F0995E" stroke-width="0.7"/>
<rect x="510.53" y="791.20" width="4.47" height="32.80" fill="#F6BB90" stroke="#F0995E" stroke-width="0.7"/>
<rect x="515.00" y="778.40" width="4.47" height="45.60" fill="#F6BB90" stroke="#F0995E" stroke-width="0.7"/>
<rect x="519.47" y="770.80" width="4.47" height="53.20" fill="#F6BB90" stroke="#F0995E" stroke-width="0.7"/>
<rect x="523.94" y="752.70" width="4.47" height="71.30" fill="#F6BB90" stroke="#F0995E" stroke-width="0.7"/>
<rect x="528.41" y="749.20" width="4.47" height="74.80" fill="#F6BB90" stroke="#F0995E" stroke-width="0.7"/>
<rect x="532.88" y="735.80" width="4.47" height="88.20" fill="#F6BB90" stroke="#F0995E" stroke-width="0.7"/>
<rect x="537.35" y="728.30" width="4.47" height="95.70" fill="#F6BB90" stroke="#F0995E" stroke-width="0.7"/>
<rect x="541.82" y="723.20" width="4.47" height="100.80" fill="#F6BB90" stroke="#F0995E" stroke-width="0.7"/>
<rect x="546.29" y="731.40" width="4.47" height="92.60" fill="#F6BB90" stroke="#F0995E" stroke-width="0.7"/>
<rect x="550.76" y="725.70" width="4.47" height="98.30" fill="#F6BB90" stroke="#F0995E" stroke-width="0.7"/>
<rect x="555.23" y="734.30" width="4.47" height="89.70" fill="#F6BB90" stroke="#F0995E" stroke-width="0.7"/>
<rect x="559.70" y="752.40" width="4.47" height="71.60" fill="#F6BB90" stroke="#F0995E" stroke-width="0.7"/>
<rect x="564.17" y="755.60" width="4.47" height="68.40" fill="#F6BB90" stroke="#F0995E" stroke-width="0.7"/>
<rect x="568.64" y="767.30" width="4.47" height="56.70" fill="#F6BB90" stroke="#F0995E" stroke-width="0.7"/>
<rect x="573.11" y="783.30" width="4.47" height="40.70" fill="#F6BB90" stroke="#F0995E" stroke-width="0.7"/>
<rect x="577.58" y="798.20" width="4.47" height="25.80" fill="#F6BB90" stroke="#F0995E" stroke-width="0.7"/>
<rect x="582.05" y="809.40" width="4.47" height="14.60" fill="#F6BB90" stroke="#F0995E" stroke-width="0.7"/>
<rect x="586.52" y="811.40" width="4.47" height="12.60" fill="#F6BB90" stroke="#F0995E" stroke-width="0.7"/>
<rect x="590.99" y="820.10" width="4.47" height="3.90" fill="#F6BB90" stroke="#F0995E" stroke-width="0.7"/>
<rect x="595.46" y="820.70" width="4.47" height="3.30" fill="#F6BB90" stroke="#F0995E" stroke-width="0.7"/>
<rect x="599.93" y="822.20" width="4.47" height="1.80" fill="#F6BB90" stroke="#F0995E" stroke-width="0.7"/>
<path d="M470.30,823.80 C470.67,823.71 471.42,823.44 472.54,823.25 C473.65,823.06 475.51,822.95 477.00,822.65 C478.50,822.35 479.99,821.90 481.48,821.48 C482.97,821.05 484.45,820.66 485.94,820.10 C487.44,819.54 488.93,818.95 490.42,818.12 C491.91,817.30 493.39,816.17 494.88,815.12 C496.38,814.08 497.87,813.18 499.36,811.85 C500.85,810.52 502.33,809.17 503.82,807.17 C505.31,805.17 506.81,802.68 508.30,799.85 C509.79,797.02 511.27,793.56 512.76,790.20 C514.25,786.84 515.75,783.37 517.24,779.70 C518.73,776.03 520.22,772.07 521.71,768.17 C523.20,764.28 524.68,759.92 526.17,756.35 C527.66,752.78 529.15,749.90 530.64,746.73 C532.13,743.55 533.62,740.25 535.12,737.27 C536.61,734.30 538.10,730.69 539.59,728.90 C541.08,727.11 542.57,726.69 544.06,726.52 C545.55,726.36 547.03,727.47 548.52,727.92 C550.01,728.38 551.50,727.82 553.00,729.27 C554.49,730.73 555.98,733.44 557.47,736.67 C558.96,739.91 560.44,745.17 561.93,748.67 C563.42,752.18 564.91,754.44 566.40,757.73 C567.89,761.01 569.38,764.16 570.88,768.38 C572.37,772.59 573.86,778.21 575.35,783.02 C576.84,787.84 578.33,793.26 579.82,797.27 C581.31,801.29 582.79,804.47 584.28,807.10 C585.77,809.73 587.26,811.25 588.75,813.08 C590.25,814.90 591.74,816.77 593.23,818.08 C594.72,819.38 596.21,820.30 597.70,820.93 C599.19,821.55 601.05,821.35 602.16,821.83 C603.28,822.30 604.03,823.47 604.40,823.80" fill="none" stroke="#F0995E" stroke-width="0.9" opacity="0.9"/>
<line x1="544.8" y1="706" x2="544.8" y2="829" stroke="#000" stroke-width="1.45" stroke-dasharray="3.6,2.1"/>
<line x1="452.0" y1="708.7" x2="452.0" y2="828.8" stroke="#000" stroke-width="1.25"/>
<line x1="452.0" y1="828.8" x2="649.6" y2="828.8" stroke="#000" stroke-width="1.25"/>
<line x1="449.8" y1="711.6" x2="452.0" y2="711.6" stroke="#333" stroke-width="0.7"/>
<text x="447.8" y="714.3000000000001" font-size="7.9" fill="#4d4d4d" text-anchor="end">2.5</text>
<line x1="449.8" y1="733.7" x2="452.0" y2="733.7" stroke="#333" stroke-width="0.7"/>
<text x="447.8" y="736.4000000000001" font-size="7.9" fill="#4d4d4d" text-anchor="end">2.0</text>
<line x1="449.8" y1="756.6" x2="452.0" y2="756.6" stroke="#333" stroke-width="0.7"/>
<text x="447.8" y="759.3000000000001" font-size="7.9" fill="#4d4d4d" text-anchor="end">1.5</text>
<line x1="449.8" y1="778.6" x2="452.0" y2="778.6" stroke="#333" stroke-width="0.7"/>
<text x="447.8" y="781.3000000000001" font-size="7.9" fill="#4d4d4d" text-anchor="end">1.0</text>
<line x1="449.8" y1="801.5" x2="452.0" y2="801.5" stroke="#333" stroke-width="0.7"/>
<text x="447.8" y="804.2" font-size="7.9" fill="#4d4d4d" text-anchor="end">0.5</text>
<line x1="449.8" y1="824.0" x2="452.0" y2="824.0" stroke="#333" stroke-width="0.7"/>
<text x="447.8" y="826.7" font-size="7.9" fill="#4d4d4d" text-anchor="end">0.0</text>
<line x1="512.5" y1="828.8" x2="512.5" y2="831.0" stroke="#333" stroke-width="0.7"/>
<text x="512.5" y="839.3" font-size="7.9" fill="#4d4d4d" text-anchor="middle">0</text>
<line x1="633.0" y1="828.8" x2="633.0" y2="831.0" stroke="#333" stroke-width="0.7"/>
<text x="633.0" y="839.3" font-size="7.9" fill="#4d4d4d" text-anchor="middle">1</text>
<text transform="translate(430.0,769) rotate(-90)" y="3.3" font-size="9.7" fill="#1a1a1a" text-anchor="middle">Density</text>
<text x="550.6" y="708.4" font-size="11" fill="#111" text-anchor="middle">median = 0.27</text>
<text x="557" y="849.5" font-size="11.2" fill="#111" text-anchor="middle">Spearman correlation</text>
<text x="52.4" y="876.1" font-size="10.25" fill="#111" textLength="158.8" lengthAdjust="spacingAndGlyphs">CDK Regulation of DNA Replication</text>
<text x="62.0" y="891.4" font-size="10.25" fill="#111" textLength="148.3" lengthAdjust="spacingAndGlyphs">Genes controlling nephrogenesis</text>
<text x="31.5" y="906.7" font-size="10.25" fill="#111" textLength="181.4" lengthAdjust="spacingAndGlyphs">Tumor suppressor activity of SMARCB1</text>
<text x="25.099999999999998" y="922.0" font-size="10.25" fill="#111" textLength="189.1" lengthAdjust="spacingAndGlyphs">Development of ureteric collection system</text>
<text x="73.9" y="937.3" font-size="10.25" fill="#111" textLength="135.7" lengthAdjust="spacingAndGlyphs">Respiratory electron transport</text>
<text x="108.0" y="952.6" font-size="10.25" fill="#111" textLength="99.0" lengthAdjust="spacingAndGlyphs">Fatty acid metabolism</text>
<text x="103.80000000000001" y="967.9" font-size="10.25" fill="#111" textLength="102.9" lengthAdjust="spacingAndGlyphs">IL-2 Signaling Pathway</text>
<text x="56.6" y="983.2" font-size="10.25" fill="#111" textLength="154.3" lengthAdjust="spacingAndGlyphs">B Cell Receptor Signaling Pathway</text>
<line x1="245.20" y1="867.1" x2="245.20" y2="879.1" stroke="#111" stroke-width="0.8"/>
<line x1="254.20" y1="867.1" x2="254.20" y2="879.1" stroke="#444" stroke-width="0.8"/>
<line x1="261.00" y1="867.1" x2="261.00" y2="879.1" stroke="#888" stroke-width="0.8"/>
<line x1="264.70" y1="867.1" x2="264.70" y2="879.1" stroke="#333" stroke-width="0.8"/>
<line x1="268.90" y1="867.1" x2="268.90" y2="879.1" stroke="#888" stroke-width="0.8"/>
<line x1="271.50" y1="867.1" x2="271.50" y2="879.1" stroke="#111" stroke-width="0.8"/>
<line x1="277.30" y1="867.1" x2="277.30" y2="879.1" stroke="#888" stroke-width="0.8"/>
<line x1="279.90" y1="867.1" x2="279.90" y2="879.1" stroke="#111" stroke-width="0.8"/>
<line x1="282.50" y1="867.1" x2="282.50" y2="879.1" stroke="#444" stroke-width="0.8"/>
<line x1="298.80" y1="867.1" x2="298.80" y2="879.1" stroke="#888" stroke-width="0.8"/>
<line x1="248.40" y1="882.3" x2="248.40" y2="894.3" stroke="#222" stroke-width="0.8"/>
<line x1="251.50" y1="882.3" x2="251.50" y2="894.3" stroke="#444" stroke-width="0.8"/>
<line x1="262.00" y1="882.3" x2="262.00" y2="894.3" stroke="#222" stroke-width="0.8"/>
<line x1="268.10" y1="882.3" x2="268.10" y2="894.3" stroke="#444" stroke-width="0.8"/>
<line x1="270.70" y1="882.3" x2="270.70" y2="894.3" stroke="#888" stroke-width="0.8"/>
<line x1="274.10" y1="882.3" x2="274.10" y2="894.3" stroke="#333" stroke-width="0.8"/>
<line x1="285.70" y1="882.3" x2="285.70" y2="894.3" stroke="#111" stroke-width="0.8"/>
<line x1="297.00" y1="882.3" x2="297.00" y2="894.3" stroke="#888" stroke-width="0.8"/>
<line x1="302.30" y1="882.3" x2="302.30" y2="894.3" stroke="#444" stroke-width="0.8"/>
<line x1="306.70" y1="882.3" x2="306.70" y2="894.3" stroke="#444" stroke-width="0.8"/>
<line x1="308.80" y1="882.3" x2="308.80" y2="894.3" stroke="#444" stroke-width="0.8"/>
<line x1="311.40" y1="882.3" x2="311.40" y2="894.3" stroke="#888" stroke-width="0.8"/>
<line x1="316.20" y1="882.3" x2="316.20" y2="894.3" stroke="#111" stroke-width="0.8"/>
<line x1="318.00" y1="882.3" x2="318.00" y2="894.3" stroke="#888" stroke-width="0.8"/>
<line x1="326.70" y1="882.3" x2="326.70" y2="894.3" stroke="#222" stroke-width="0.8"/>
<line x1="340.40" y1="882.3" x2="340.40" y2="894.3" stroke="#222" stroke-width="0.8"/>
<line x1="349.50" y1="882.3" x2="349.50" y2="894.3" stroke="#222" stroke-width="0.8"/>
<line x1="240.50" y1="897.5" x2="240.50" y2="909.5" stroke="#111" stroke-width="0.8"/>
<line x1="254.20" y1="897.5" x2="254.20" y2="909.5" stroke="#222" stroke-width="0.8"/>
<line x1="260.20" y1="897.5" x2="260.20" y2="909.5" stroke="#666" stroke-width="0.8"/>
<line x1="278.60" y1="897.5" x2="278.60" y2="909.5" stroke="#444" stroke-width="0.8"/>
<line x1="281.80" y1="897.5" x2="281.80" y2="909.5" stroke="#888" stroke-width="0.8"/>
<line x1="285.20" y1="897.5" x2="285.20" y2="909.5" stroke="#222" stroke-width="0.8"/>
<line x1="293.60" y1="897.5" x2="293.60" y2="909.5" stroke="#666" stroke-width="0.8"/>
<line x1="300.90" y1="897.5" x2="300.90" y2="909.5" stroke="#666" stroke-width="0.8"/>
<line x1="303.00" y1="897.5" x2="303.00" y2="909.5" stroke="#444" stroke-width="0.8"/>
<line x1="304.90" y1="897.5" x2="304.90" y2="909.5" stroke="#888" stroke-width="0.8"/>
<line x1="310.10" y1="897.5" x2="310.10" y2="909.5" stroke="#333" stroke-width="0.8"/>
<line x1="313.60" y1="897.5" x2="313.60" y2="909.5" stroke="#222" stroke-width="0.8"/>
<line x1="317.20" y1="897.5" x2="317.20" y2="909.5" stroke="#666" stroke-width="0.8"/>
<line x1="322.00" y1="897.5" x2="322.00" y2="909.5" stroke="#666" stroke-width="0.8"/>
<line x1="339.60" y1="897.5" x2="339.60" y2="909.5" stroke="#222" stroke-width="0.8"/>
<line x1="237.40" y1="912.7" x2="237.40" y2="924.7" stroke="#111" stroke-width="0.8"/>
<line x1="248.40" y1="912.7" x2="248.40" y2="924.7" stroke="#111" stroke-width="0.8"/>
<line x1="257.10" y1="912.7" x2="257.10" y2="924.7" stroke="#888" stroke-width="0.8"/>
<line x1="262.00" y1="912.7" x2="262.00" y2="924.7" stroke="#888" stroke-width="0.8"/>
<line x1="268.90" y1="912.7" x2="268.90" y2="924.7" stroke="#111" stroke-width="0.8"/>
<line x1="270.70" y1="912.7" x2="270.70" y2="924.7" stroke="#666" stroke-width="0.8"/>
<line x1="275.20" y1="912.7" x2="275.20" y2="924.7" stroke="#888" stroke-width="0.8"/>
<line x1="285.70" y1="912.7" x2="285.70" y2="924.7" stroke="#222" stroke-width="0.8"/>
<line x1="297.80" y1="912.7" x2="297.80" y2="924.7" stroke="#444" stroke-width="0.8"/>
<line x1="302.30" y1="912.7" x2="302.30" y2="924.7" stroke="#222" stroke-width="0.8"/>
<line x1="306.20" y1="912.7" x2="306.20" y2="924.7" stroke="#222" stroke-width="0.8"/>
<line x1="309.30" y1="912.7" x2="309.30" y2="924.7" stroke="#111" stroke-width="0.8"/>
<line x1="316.20" y1="912.7" x2="316.20" y2="924.7" stroke="#333" stroke-width="0.8"/>
<line x1="245.80" y1="927.9" x2="245.80" y2="939.9" stroke="#222" stroke-width="0.8"/>
<line x1="254.20" y1="927.9" x2="254.20" y2="939.9" stroke="#333" stroke-width="0.8"/>
<line x1="261.50" y1="927.9" x2="261.50" y2="939.9" stroke="#666" stroke-width="0.8"/>
<line x1="266.30" y1="927.9" x2="266.30" y2="939.9" stroke="#222" stroke-width="0.8"/>
<line x1="276.80" y1="927.9" x2="276.80" y2="939.9" stroke="#666" stroke-width="0.8"/>
<line x1="285.70" y1="927.9" x2="285.70" y2="939.9" stroke="#333" stroke-width="0.8"/>
<line x1="287.50" y1="927.9" x2="287.50" y2="939.9" stroke="#333" stroke-width="0.8"/>
<line x1="289.86" y1="927.9" x2="289.86" y2="939.9" stroke="#666" stroke-width="0.8"/>
<line x1="287.26" y1="927.9" x2="287.26" y2="939.9" stroke="#444" stroke-width="0.8"/>
<line x1="294.76" y1="927.9" x2="294.76" y2="939.9" stroke="#222" stroke-width="0.8"/>
<line x1="286.09" y1="927.9" x2="286.09" y2="939.9" stroke="#111" stroke-width="0.8"/>
<line x1="293.04" y1="927.9" x2="293.04" y2="939.9" stroke="#888" stroke-width="0.8"/>
<line x1="290.49" y1="927.9" x2="290.49" y2="939.9" stroke="#333" stroke-width="0.8"/>
<line x1="285.87" y1="927.9" x2="285.87" y2="939.9" stroke="#444" stroke-width="0.8"/>
<line x1="292.61" y1="927.9" x2="292.61" y2="939.9" stroke="#888" stroke-width="0.8"/>
<line x1="285.56" y1="927.9" x2="285.56" y2="939.9" stroke="#666" stroke-width="0.8"/>
<line x1="291.50" y1="927.9" x2="291.50" y2="939.9" stroke="#666" stroke-width="0.8"/>
<line x1="286.05" y1="927.9" x2="286.05" y2="939.9" stroke="#444" stroke-width="0.8"/>
<line x1="286.36" y1="927.9" x2="286.36" y2="939.9" stroke="#666" stroke-width="0.8"/>
<line x1="291.37" y1="927.9" x2="291.37" y2="939.9" stroke="#222" stroke-width="0.8"/>
<line x1="297.40" y1="927.9" x2="297.40" y2="939.9" stroke="#666" stroke-width="0.8"/>
<line x1="286.86" y1="927.9" x2="286.86" y2="939.9" stroke="#222" stroke-width="0.8"/>
<line x1="288.35" y1="927.9" x2="288.35" y2="939.9" stroke="#666" stroke-width="0.8"/>
<line x1="312.31" y1="927.9" x2="312.31" y2="939.9" stroke="#666" stroke-width="0.8"/>
<line x1="320.64" y1="927.9" x2="320.64" y2="939.9" stroke="#111" stroke-width="0.8"/>
<line x1="311.00" y1="927.9" x2="311.00" y2="939.9" stroke="#444" stroke-width="0.8"/>
<line x1="306.31" y1="927.9" x2="306.31" y2="939.9" stroke="#222" stroke-width="0.8"/>
<line x1="321.38" y1="927.9" x2="321.38" y2="939.9" stroke="#666" stroke-width="0.8"/>
<line x1="297.21" y1="927.9" x2="297.21" y2="939.9" stroke="#111" stroke-width="0.8"/>
<line x1="318.32" y1="927.9" x2="318.32" y2="939.9" stroke="#222" stroke-width="0.8"/>
<line x1="303.53" y1="927.9" x2="303.53" y2="939.9" stroke="#222" stroke-width="0.8"/>
<line x1="299.75" y1="927.9" x2="299.75" y2="939.9" stroke="#222" stroke-width="0.8"/>
<line x1="299.06" y1="927.9" x2="299.06" y2="939.9" stroke="#444" stroke-width="0.8"/>
<line x1="304.02" y1="927.9" x2="304.02" y2="939.9" stroke="#666" stroke-width="0.8"/>
<line x1="317.22" y1="927.9" x2="317.22" y2="939.9" stroke="#888" stroke-width="0.8"/>
<line x1="300.70" y1="927.9" x2="300.70" y2="939.9" stroke="#111" stroke-width="0.8"/>
<line x1="311.12" y1="927.9" x2="311.12" y2="939.9" stroke="#666" stroke-width="0.8"/>
<line x1="312.61" y1="927.9" x2="312.61" y2="939.9" stroke="#111" stroke-width="0.8"/>
<line x1="305.68" y1="927.9" x2="305.68" y2="939.9" stroke="#333" stroke-width="0.8"/>
<line x1="310.24" y1="927.9" x2="310.24" y2="939.9" stroke="#888" stroke-width="0.8"/>
<line x1="297.63" y1="927.9" x2="297.63" y2="939.9" stroke="#666" stroke-width="0.8"/>
<line x1="297.55" y1="927.9" x2="297.55" y2="939.9" stroke="#666" stroke-width="0.8"/>
<line x1="301.35" y1="927.9" x2="301.35" y2="939.9" stroke="#666" stroke-width="0.8"/>
<line x1="313.69" y1="927.9" x2="313.69" y2="939.9" stroke="#444" stroke-width="0.8"/>
<line x1="307.12" y1="927.9" x2="307.12" y2="939.9" stroke="#111" stroke-width="0.8"/>
<line x1="304.17" y1="927.9" x2="304.17" y2="939.9" stroke="#666" stroke-width="0.8"/>
<line x1="311.22" y1="927.9" x2="311.22" y2="939.9" stroke="#111" stroke-width="0.8"/>
<line x1="307.78" y1="927.9" x2="307.78" y2="939.9" stroke="#222" stroke-width="0.8"/>
<line x1="303.79" y1="927.9" x2="303.79" y2="939.9" stroke="#222" stroke-width="0.8"/>
<line x1="316.65" y1="927.9" x2="316.65" y2="939.9" stroke="#333" stroke-width="0.8"/>
<line x1="314.17" y1="927.9" x2="314.17" y2="939.9" stroke="#111" stroke-width="0.8"/>
<line x1="302.35" y1="927.9" x2="302.35" y2="939.9" stroke="#111" stroke-width="0.8"/>
<line x1="310.94" y1="927.9" x2="310.94" y2="939.9" stroke="#666" stroke-width="0.8"/>
<line x1="309.66" y1="927.9" x2="309.66" y2="939.9" stroke="#444" stroke-width="0.8"/>
<line x1="318.75" y1="927.9" x2="318.75" y2="939.9" stroke="#666" stroke-width="0.8"/>
<line x1="314.97" y1="927.9" x2="314.97" y2="939.9" stroke="#111" stroke-width="0.8"/>
<line x1="303.49" y1="927.9" x2="303.49" y2="939.9" stroke="#111" stroke-width="0.8"/>
<line x1="321.48" y1="927.9" x2="321.48" y2="939.9" stroke="#444" stroke-width="0.8"/>
<line x1="299.07" y1="927.9" x2="299.07" y2="939.9" stroke="#333" stroke-width="0.8"/>
<line x1="306.87" y1="927.9" x2="306.87" y2="939.9" stroke="#666" stroke-width="0.8"/>
<line x1="315.69" y1="927.9" x2="315.69" y2="939.9" stroke="#666" stroke-width="0.8"/>
<line x1="299.95" y1="927.9" x2="299.95" y2="939.9" stroke="#666" stroke-width="0.8"/>
<line x1="308.71" y1="927.9" x2="308.71" y2="939.9" stroke="#666" stroke-width="0.8"/>
<line x1="297.02" y1="927.9" x2="297.02" y2="939.9" stroke="#222" stroke-width="0.8"/>
<line x1="313.37" y1="927.9" x2="313.37" y2="939.9" stroke="#888" stroke-width="0.8"/>
<line x1="315.88" y1="927.9" x2="315.88" y2="939.9" stroke="#333" stroke-width="0.8"/>
<line x1="310.90" y1="927.9" x2="310.90" y2="939.9" stroke="#444" stroke-width="0.8"/>
<line x1="318.76" y1="927.9" x2="318.76" y2="939.9" stroke="#666" stroke-width="0.8"/>
<line x1="304.16" y1="927.9" x2="304.16" y2="939.9" stroke="#666" stroke-width="0.8"/>
<line x1="314.08" y1="927.9" x2="314.08" y2="939.9" stroke="#444" stroke-width="0.8"/>
<line x1="311.45" y1="927.9" x2="311.45" y2="939.9" stroke="#666" stroke-width="0.8"/>
<line x1="311.08" y1="927.9" x2="311.08" y2="939.9" stroke="#222" stroke-width="0.8"/>
<line x1="307.86" y1="927.9" x2="307.86" y2="939.9" stroke="#888" stroke-width="0.8"/>
<line x1="317.84" y1="927.9" x2="317.84" y2="939.9" stroke="#666" stroke-width="0.8"/>
<line x1="320.56" y1="927.9" x2="320.56" y2="939.9" stroke="#333" stroke-width="0.8"/>
<line x1="308.33" y1="927.9" x2="308.33" y2="939.9" stroke="#666" stroke-width="0.8"/>
<line x1="313.27" y1="927.9" x2="313.27" y2="939.9" stroke="#222" stroke-width="0.8"/>
<line x1="297.58" y1="927.9" x2="297.58" y2="939.9" stroke="#444" stroke-width="0.8"/>
<line x1="327.20" y1="927.9" x2="327.20" y2="939.9" stroke="#222" stroke-width="0.8"/>
<line x1="331.20" y1="927.9" x2="331.20" y2="939.9" stroke="#444" stroke-width="0.8"/>
<line x1="334.60" y1="927.9" x2="334.60" y2="939.9" stroke="#111" stroke-width="0.8"/>
<line x1="347.70" y1="927.9" x2="347.70" y2="939.9" stroke="#444" stroke-width="0.8"/>
<line x1="351.40" y1="927.9" x2="351.40" y2="939.9" stroke="#444" stroke-width="0.8"/>
<line x1="237.40" y1="943.1" x2="237.40" y2="955.1" stroke="#333" stroke-width="0.8"/>
<line x1="241.00" y1="943.1" x2="241.00" y2="955.1" stroke="#111" stroke-width="0.8"/>
<line x1="252.30" y1="943.1" x2="252.30" y2="955.1" stroke="#888" stroke-width="0.8"/>
<line x1="258.40" y1="943.1" x2="258.40" y2="955.1" stroke="#222" stroke-width="0.8"/>
<line x1="282.69" y1="943.1" x2="282.69" y2="955.1" stroke="#444" stroke-width="0.8"/>
<line x1="281.35" y1="943.1" x2="281.35" y2="955.1" stroke="#111" stroke-width="0.8"/>
<line x1="289.83" y1="943.1" x2="289.83" y2="955.1" stroke="#222" stroke-width="0.8"/>
<line x1="285.64" y1="943.1" x2="285.64" y2="955.1" stroke="#888" stroke-width="0.8"/>
<line x1="272.47" y1="943.1" x2="272.47" y2="955.1" stroke="#333" stroke-width="0.8"/>
<line x1="274.95" y1="943.1" x2="274.95" y2="955.1" stroke="#111" stroke-width="0.8"/>
<line x1="281.88" y1="943.1" x2="281.88" y2="955.1" stroke="#222" stroke-width="0.8"/>
<line x1="266.05" y1="943.1" x2="266.05" y2="955.1" stroke="#888" stroke-width="0.8"/>
<line x1="276.81" y1="943.1" x2="276.81" y2="955.1" stroke="#888" stroke-width="0.8"/>
<line x1="269.62" y1="943.1" x2="269.62" y2="955.1" stroke="#888" stroke-width="0.8"/>
<line x1="268.37" y1="943.1" x2="268.37" y2="955.1" stroke="#333" stroke-width="0.8"/>
<line x1="266.94" y1="943.1" x2="266.94" y2="955.1" stroke="#222" stroke-width="0.8"/>
<line x1="284.32" y1="943.1" x2="284.32" y2="955.1" stroke="#333" stroke-width="0.8"/>
<line x1="268.67" y1="943.1" x2="268.67" y2="955.1" stroke="#222" stroke-width="0.8"/>
<line x1="271.57" y1="943.1" x2="271.57" y2="955.1" stroke="#444" stroke-width="0.8"/>
<line x1="275.08" y1="943.1" x2="275.08" y2="955.1" stroke="#222" stroke-width="0.8"/>
<line x1="286.85" y1="943.1" x2="286.85" y2="955.1" stroke="#888" stroke-width="0.8"/>
<line x1="267.47" y1="943.1" x2="267.47" y2="955.1" stroke="#111" stroke-width="0.8"/>
<line x1="276.51" y1="943.1" x2="276.51" y2="955.1" stroke="#444" stroke-width="0.8"/>
<line x1="278.96" y1="943.1" x2="278.96" y2="955.1" stroke="#444" stroke-width="0.8"/>
<line x1="287.14" y1="943.1" x2="287.14" y2="955.1" stroke="#222" stroke-width="0.8"/>
<line x1="285.57" y1="943.1" x2="285.57" y2="955.1" stroke="#888" stroke-width="0.8"/>
<line x1="286.67" y1="943.1" x2="286.67" y2="955.1" stroke="#222" stroke-width="0.8"/>
<line x1="272.32" y1="943.1" x2="272.32" y2="955.1" stroke="#222" stroke-width="0.8"/>
<line x1="275.67" y1="943.1" x2="275.67" y2="955.1" stroke="#888" stroke-width="0.8"/>
<line x1="274.29" y1="943.1" x2="274.29" y2="955.1" stroke="#444" stroke-width="0.8"/>
<line x1="287.16" y1="943.1" x2="287.16" y2="955.1" stroke="#666" stroke-width="0.8"/>
<line x1="288.96" y1="943.1" x2="288.96" y2="955.1" stroke="#444" stroke-width="0.8"/>
<line x1="269.20" y1="943.1" x2="269.20" y2="955.1" stroke="#333" stroke-width="0.8"/>
<line x1="269.82" y1="943.1" x2="269.82" y2="955.1" stroke="#444" stroke-width="0.8"/>
<line x1="298.90" y1="943.1" x2="298.90" y2="955.1" stroke="#222" stroke-width="0.8"/>
<line x1="298.97" y1="943.1" x2="298.97" y2="955.1" stroke="#333" stroke-width="0.8"/>
<line x1="310.79" y1="943.1" x2="310.79" y2="955.1" stroke="#333" stroke-width="0.8"/>
<line x1="315.69" y1="943.1" x2="315.69" y2="955.1" stroke="#111" stroke-width="0.8"/>
<line x1="300.35" y1="943.1" x2="300.35" y2="955.1" stroke="#888" stroke-width="0.8"/>
<line x1="288.19" y1="943.1" x2="288.19" y2="955.1" stroke="#333" stroke-width="0.8"/>
<line x1="307.69" y1="943.1" x2="307.69" y2="955.1" stroke="#111" stroke-width="0.8"/>
<line x1="305.35" y1="943.1" x2="305.35" y2="955.1" stroke="#333" stroke-width="0.8"/>
<line x1="314.62" y1="943.1" x2="314.62" y2="955.1" stroke="#666" stroke-width="0.8"/>
<line x1="332.80" y1="943.1" x2="332.80" y2="955.1" stroke="#444" stroke-width="0.8"/>
<line x1="320.45" y1="943.1" x2="320.45" y2="955.1" stroke="#444" stroke-width="0.8"/>
<line x1="312.23" y1="943.1" x2="312.23" y2="955.1" stroke="#888" stroke-width="0.8"/>
<line x1="317.03" y1="943.1" x2="317.03" y2="955.1" stroke="#111" stroke-width="0.8"/>
<line x1="319.78" y1="943.1" x2="319.78" y2="955.1" stroke="#444" stroke-width="0.8"/>
<line x1="290.54" y1="943.1" x2="290.54" y2="955.1" stroke="#333" stroke-width="0.8"/>
<line x1="330.28" y1="943.1" x2="330.28" y2="955.1" stroke="#666" stroke-width="0.8"/>
<line x1="324.66" y1="943.1" x2="324.66" y2="955.1" stroke="#666" stroke-width="0.8"/>
<line x1="329.10" y1="943.1" x2="329.10" y2="955.1" stroke="#333" stroke-width="0.8"/>
<line x1="325.50" y1="943.1" x2="325.50" y2="955.1" stroke="#666" stroke-width="0.8"/>
<line x1="306.44" y1="943.1" x2="306.44" y2="955.1" stroke="#111" stroke-width="0.8"/>
<line x1="306.75" y1="943.1" x2="306.75" y2="955.1" stroke="#111" stroke-width="0.8"/>
<line x1="292.87" y1="943.1" x2="292.87" y2="955.1" stroke="#222" stroke-width="0.8"/>
<line x1="317.81" y1="943.1" x2="317.81" y2="955.1" stroke="#111" stroke-width="0.8"/>
<line x1="290.93" y1="943.1" x2="290.93" y2="955.1" stroke="#111" stroke-width="0.8"/>
<line x1="291.17" y1="943.1" x2="291.17" y2="955.1" stroke="#333" stroke-width="0.8"/>
<line x1="297.81" y1="943.1" x2="297.81" y2="955.1" stroke="#333" stroke-width="0.8"/>
<line x1="295.63" y1="943.1" x2="295.63" y2="955.1" stroke="#111" stroke-width="0.8"/>
<line x1="303.98" y1="943.1" x2="303.98" y2="955.1" stroke="#222" stroke-width="0.8"/>
<line x1="290.47" y1="943.1" x2="290.47" y2="955.1" stroke="#333" stroke-width="0.8"/>
<line x1="288.01" y1="943.1" x2="288.01" y2="955.1" stroke="#222" stroke-width="0.8"/>
<line x1="295.11" y1="943.1" x2="295.11" y2="955.1" stroke="#444" stroke-width="0.8"/>
<line x1="292.77" y1="943.1" x2="292.77" y2="955.1" stroke="#888" stroke-width="0.8"/>
<line x1="305.09" y1="943.1" x2="305.09" y2="955.1" stroke="#333" stroke-width="0.8"/>
<line x1="289.20" y1="943.1" x2="289.20" y2="955.1" stroke="#444" stroke-width="0.8"/>
<line x1="329.09" y1="943.1" x2="329.09" y2="955.1" stroke="#222" stroke-width="0.8"/>
<line x1="316.86" y1="943.1" x2="316.86" y2="955.1" stroke="#666" stroke-width="0.8"/>
<line x1="294.98" y1="943.1" x2="294.98" y2="955.1" stroke="#666" stroke-width="0.8"/>
<line x1="299.86" y1="943.1" x2="299.86" y2="955.1" stroke="#666" stroke-width="0.8"/>
<line x1="304.33" y1="943.1" x2="304.33" y2="955.1" stroke="#444" stroke-width="0.8"/>
<line x1="305.12" y1="943.1" x2="305.12" y2="955.1" stroke="#888" stroke-width="0.8"/>
<line x1="293.77" y1="943.1" x2="293.77" y2="955.1" stroke="#333" stroke-width="0.8"/>
<line x1="327.90" y1="943.1" x2="327.90" y2="955.1" stroke="#111" stroke-width="0.8"/>
<line x1="334.68" y1="943.1" x2="334.68" y2="955.1" stroke="#333" stroke-width="0.8"/>
<line x1="309.90" y1="943.1" x2="309.90" y2="955.1" stroke="#111" stroke-width="0.8"/>
<line x1="310.74" y1="943.1" x2="310.74" y2="955.1" stroke="#888" stroke-width="0.8"/>
<line x1="292.04" y1="943.1" x2="292.04" y2="955.1" stroke="#222" stroke-width="0.8"/>
<line x1="292.80" y1="943.1" x2="292.80" y2="955.1" stroke="#444" stroke-width="0.8"/>
<line x1="304.10" y1="943.1" x2="304.10" y2="955.1" stroke="#111" stroke-width="0.8"/>
<line x1="300.44" y1="943.1" x2="300.44" y2="955.1" stroke="#333" stroke-width="0.8"/>
<line x1="326.96" y1="943.1" x2="326.96" y2="955.1" stroke="#111" stroke-width="0.8"/>
<line x1="295.59" y1="943.1" x2="295.59" y2="955.1" stroke="#888" stroke-width="0.8"/>
<line x1="289.09" y1="943.1" x2="289.09" y2="955.1" stroke="#111" stroke-width="0.8"/>
<line x1="332.70" y1="943.1" x2="332.70" y2="955.1" stroke="#333" stroke-width="0.8"/>
<line x1="312.83" y1="943.1" x2="312.83" y2="955.1" stroke="#111" stroke-width="0.8"/>
<line x1="294.89" y1="943.1" x2="294.89" y2="955.1" stroke="#666" stroke-width="0.8"/>
<line x1="313.53" y1="943.1" x2="313.53" y2="955.1" stroke="#222" stroke-width="0.8"/>
<line x1="289.27" y1="943.1" x2="289.27" y2="955.1" stroke="#111" stroke-width="0.8"/>
<line x1="312.82" y1="943.1" x2="312.82" y2="955.1" stroke="#333" stroke-width="0.8"/>
<line x1="333.99" y1="943.1" x2="333.99" y2="955.1" stroke="#111" stroke-width="0.8"/>
<line x1="328.58" y1="943.1" x2="328.58" y2="955.1" stroke="#444" stroke-width="0.8"/>
<line x1="320.72" y1="943.1" x2="320.72" y2="955.1" stroke="#111" stroke-width="0.8"/>
<line x1="300.27" y1="943.1" x2="300.27" y2="955.1" stroke="#333" stroke-width="0.8"/>
<line x1="305.23" y1="943.1" x2="305.23" y2="955.1" stroke="#666" stroke-width="0.8"/>
<line x1="295.85" y1="943.1" x2="295.85" y2="955.1" stroke="#444" stroke-width="0.8"/>
<line x1="324.28" y1="943.1" x2="324.28" y2="955.1" stroke="#333" stroke-width="0.8"/>
<line x1="313.03" y1="943.1" x2="313.03" y2="955.1" stroke="#666" stroke-width="0.8"/>
<line x1="324.62" y1="943.1" x2="324.62" y2="955.1" stroke="#222" stroke-width="0.8"/>
<line x1="303.49" y1="943.1" x2="303.49" y2="955.1" stroke="#111" stroke-width="0.8"/>
<line x1="298.48" y1="943.1" x2="298.48" y2="955.1" stroke="#666" stroke-width="0.8"/>
<line x1="326.14" y1="943.1" x2="326.14" y2="955.1" stroke="#888" stroke-width="0.8"/>
<line x1="334.29" y1="943.1" x2="334.29" y2="955.1" stroke="#222" stroke-width="0.8"/>
<line x1="328.07" y1="943.1" x2="328.07" y2="955.1" stroke="#111" stroke-width="0.8"/>
<line x1="325.89" y1="943.1" x2="325.89" y2="955.1" stroke="#222" stroke-width="0.8"/>
<line x1="326.46" y1="943.1" x2="326.46" y2="955.1" stroke="#333" stroke-width="0.8"/>
<line x1="322.77" y1="943.1" x2="322.77" y2="955.1" stroke="#111" stroke-width="0.8"/>
<line x1="298.66" y1="943.1" x2="298.66" y2="955.1" stroke="#222" stroke-width="0.8"/>
<line x1="312.33" y1="943.1" x2="312.33" y2="955.1" stroke="#222" stroke-width="0.8"/>
<line x1="304.71" y1="943.1" x2="304.71" y2="955.1" stroke="#333" stroke-width="0.8"/>
<line x1="289.36" y1="943.1" x2="289.36" y2="955.1" stroke="#888" stroke-width="0.8"/>
<line x1="289.31" y1="943.1" x2="289.31" y2="955.1" stroke="#333" stroke-width="0.8"/>
<line x1="301.13" y1="943.1" x2="301.13" y2="955.1" stroke="#666" stroke-width="0.8"/>
<line x1="300.18" y1="943.1" x2="300.18" y2="955.1" stroke="#222" stroke-width="0.8"/>
<line x1="320.55" y1="943.1" x2="320.55" y2="955.1" stroke="#333" stroke-width="0.8"/>
<line x1="332.96" y1="943.1" x2="332.96" y2="955.1" stroke="#444" stroke-width="0.8"/>
<line x1="309.02" y1="943.1" x2="309.02" y2="955.1" stroke="#666" stroke-width="0.8"/>
<line x1="339.87" y1="943.1" x2="339.87" y2="955.1" stroke="#888" stroke-width="0.8"/>
<line x1="340.30" y1="943.1" x2="340.30" y2="955.1" stroke="#222" stroke-width="0.8"/>
<line x1="340.02" y1="943.1" x2="340.02" y2="955.1" stroke="#333" stroke-width="0.8"/>
<line x1="335.06" y1="943.1" x2="335.06" y2="955.1" stroke="#333" stroke-width="0.8"/>
<line x1="333.85" y1="943.1" x2="333.85" y2="955.1" stroke="#111" stroke-width="0.8"/>
<line x1="333.91" y1="943.1" x2="333.91" y2="955.1" stroke="#333" stroke-width="0.8"/>
<line x1="333.65" y1="943.1" x2="333.65" y2="955.1" stroke="#111" stroke-width="0.8"/>
<line x1="333.72" y1="943.1" x2="333.72" y2="955.1" stroke="#111" stroke-width="0.8"/>
<line x1="337.24" y1="943.1" x2="337.24" y2="955.1" stroke="#111" stroke-width="0.8"/>
<line x1="339.56" y1="943.1" x2="339.56" y2="955.1" stroke="#888" stroke-width="0.8"/>
<line x1="345.60" y1="943.1" x2="345.60" y2="955.1" stroke="#666" stroke-width="0.8"/>
<line x1="349.50" y1="943.1" x2="349.50" y2="955.1" stroke="#666" stroke-width="0.8"/>
<line x1="351.40" y1="943.1" x2="351.40" y2="955.1" stroke="#222" stroke-width="0.8"/>
<line x1="357.40" y1="943.1" x2="357.40" y2="955.1" stroke="#666" stroke-width="0.8"/>
<line x1="362.70" y1="943.1" x2="362.70" y2="955.1" stroke="#444" stroke-width="0.8"/>
<line x1="367.90" y1="943.1" x2="367.90" y2="955.1" stroke="#222" stroke-width="0.8"/>
<line x1="268.10" y1="958.3" x2="268.10" y2="970.3" stroke="#444" stroke-width="0.8"/>
<line x1="281.20" y1="958.3" x2="281.20" y2="970.3" stroke="#111" stroke-width="0.8"/>
<line x1="283.90" y1="958.3" x2="283.90" y2="970.3" stroke="#888" stroke-width="0.8"/>
<line x1="286.50" y1="958.3" x2="286.50" y2="970.3" stroke="#888" stroke-width="0.8"/>
<line x1="289.90" y1="958.3" x2="289.90" y2="970.3" stroke="#444" stroke-width="0.8"/>
<line x1="300.90" y1="958.3" x2="300.90" y2="970.3" stroke="#888" stroke-width="0.8"/>
<line x1="303.60" y1="958.3" x2="303.60" y2="970.3" stroke="#444" stroke-width="0.8"/>
<line x1="306.70" y1="958.3" x2="306.70" y2="970.3" stroke="#666" stroke-width="0.8"/>
<line x1="310.10" y1="958.3" x2="310.10" y2="970.3" stroke="#444" stroke-width="0.8"/>
<line x1="313.60" y1="958.3" x2="313.60" y2="970.3" stroke="#666" stroke-width="0.8"/>
<line x1="315.40" y1="958.3" x2="315.40" y2="970.3" stroke="#333" stroke-width="0.8"/>
<line x1="318.00" y1="958.3" x2="318.00" y2="970.3" stroke="#888" stroke-width="0.8"/>
<line x1="319.90" y1="958.3" x2="319.90" y2="970.3" stroke="#222" stroke-width="0.8"/>
<line x1="326.70" y1="958.3" x2="326.70" y2="970.3" stroke="#222" stroke-width="0.8"/>
<line x1="343.50" y1="958.3" x2="343.50" y2="970.3" stroke="#333" stroke-width="0.8"/>
<line x1="344.30" y1="958.3" x2="344.30" y2="970.3" stroke="#222" stroke-width="0.8"/>
<line x1="355.60" y1="958.3" x2="355.60" y2="970.3" stroke="#888" stroke-width="0.8"/>
<line x1="361.40" y1="958.3" x2="361.40" y2="970.3" stroke="#888" stroke-width="0.8"/>
<line x1="246.30" y1="973.5" x2="246.30" y2="985.5" stroke="#888" stroke-width="0.8"/>
<line x1="247.10" y1="973.5" x2="247.10" y2="985.5" stroke="#222" stroke-width="0.8"/>
<line x1="263.60" y1="973.5" x2="263.60" y2="985.5" stroke="#444" stroke-width="0.8"/>
<line x1="268.10" y1="973.5" x2="268.10" y2="985.5" stroke="#333" stroke-width="0.8"/>
<line x1="269.40" y1="973.5" x2="269.40" y2="985.5" stroke="#111" stroke-width="0.8"/>
<line x1="271.50" y1="973.5" x2="271.50" y2="985.5" stroke="#222" stroke-width="0.8"/>
<line x1="273.40" y1="973.5" x2="273.40" y2="985.5" stroke="#111" stroke-width="0.8"/>
<line x1="277.80" y1="973.5" x2="277.80" y2="985.5" stroke="#111" stroke-width="0.8"/>
<line x1="282.00" y1="973.5" x2="282.00" y2="985.5" stroke="#888" stroke-width="0.8"/>
<line x1="285.20" y1="973.5" x2="285.20" y2="985.5" stroke="#888" stroke-width="0.8"/>
<line x1="287.30" y1="973.5" x2="287.30" y2="985.5" stroke="#333" stroke-width="0.8"/>
<line x1="289.10" y1="973.5" x2="289.10" y2="985.5" stroke="#444" stroke-width="0.8"/>
<line x1="291.00" y1="973.5" x2="291.00" y2="985.5" stroke="#222" stroke-width="0.8"/>
<line x1="295.20" y1="973.5" x2="295.20" y2="985.5" stroke="#111" stroke-width="0.8"/>
<line x1="300.40" y1="973.5" x2="300.40" y2="985.5" stroke="#111" stroke-width="0.8"/>
<line x1="304.10" y1="973.5" x2="304.10" y2="985.5" stroke="#888" stroke-width="0.8"/>
<line x1="306.70" y1="973.5" x2="306.70" y2="985.5" stroke="#444" stroke-width="0.8"/>
<line x1="310.90" y1="973.5" x2="310.90" y2="985.5" stroke="#666" stroke-width="0.8"/>
<line x1="312.80" y1="973.5" x2="312.80" y2="985.5" stroke="#888" stroke-width="0.8"/>
<line x1="314.60" y1="973.5" x2="314.60" y2="985.5" stroke="#333" stroke-width="0.8"/>
<line x1="316.70" y1="973.5" x2="316.70" y2="985.5" stroke="#666" stroke-width="0.8"/>
<line x1="326.70" y1="973.5" x2="326.70" y2="985.5" stroke="#222" stroke-width="0.8"/>
<line x1="333.80" y1="973.5" x2="333.80" y2="985.5" stroke="#888" stroke-width="0.8"/>
<line x1="343.50" y1="973.5" x2="343.50" y2="985.5" stroke="#333" stroke-width="0.8"/>
<line x1="346.90" y1="973.5" x2="346.90" y2="985.5" stroke="#111" stroke-width="0.8"/>
<line x1="349.50" y1="973.5" x2="349.50" y2="985.5" stroke="#444" stroke-width="0.8"/>
<line x1="354.80" y1="973.5" x2="354.80" y2="985.5" stroke="#222" stroke-width="0.8"/>
<line x1="358.70" y1="973.5" x2="358.70" y2="985.5" stroke="#222" stroke-width="0.8"/>
<line x1="366.60" y1="973.5" x2="366.60" y2="985.5" stroke="#333" stroke-width="0.8"/>
<line x1="549.35" y1="867.1" x2="549.35" y2="879.1" stroke="#111" stroke-width="0.8"/>
<line x1="556.71" y1="867.1" x2="556.71" y2="879.1" stroke="#888" stroke-width="0.8"/>
<line x1="558.81" y1="867.1" x2="558.81" y2="879.1" stroke="#444" stroke-width="0.8"/>
<line x1="560.65" y1="867.1" x2="560.65" y2="879.1" stroke="#444" stroke-width="0.8"/>
<line x1="564.06" y1="867.1" x2="564.06" y2="879.1" stroke="#444" stroke-width="0.8"/>
<line x1="568.53" y1="867.1" x2="568.53" y2="879.1" stroke="#888" stroke-width="0.8"/>
<line x1="571.16" y1="867.1" x2="571.16" y2="879.1" stroke="#666" stroke-width="0.8"/>
<line x1="576.41" y1="867.1" x2="576.41" y2="879.1" stroke="#222" stroke-width="0.8"/>
<line x1="493.12" y1="882.3" x2="493.12" y2="894.3" stroke="#444" stroke-width="0.8"/>
<line x1="516.77" y1="882.3" x2="516.77" y2="894.3" stroke="#333" stroke-width="0.8"/>
<line x1="531.74" y1="882.3" x2="531.74" y2="894.3" stroke="#333" stroke-width="0.8"/>
<line x1="540.94" y1="882.3" x2="540.94" y2="894.3" stroke="#111" stroke-width="0.8"/>
<line x1="543.04" y1="882.3" x2="543.04" y2="894.3" stroke="#444" stroke-width="0.8"/>
<line x1="548.30" y1="882.3" x2="548.30" y2="894.3" stroke="#333" stroke-width="0.8"/>
<line x1="549.35" y1="882.3" x2="549.35" y2="894.3" stroke="#666" stroke-width="0.8"/>
<line x1="560.65" y1="882.3" x2="560.65" y2="894.3" stroke="#333" stroke-width="0.8"/>
<line x1="565.11" y1="882.3" x2="565.11" y2="894.3" stroke="#222" stroke-width="0.8"/>
<line x1="575.10" y1="882.3" x2="575.10" y2="894.3" stroke="#888" stroke-width="0.8"/>
<line x1="577.20" y1="882.3" x2="577.20" y2="894.3" stroke="#666" stroke-width="0.8"/>
<line x1="579.04" y1="882.3" x2="579.04" y2="894.3" stroke="#666" stroke-width="0.8"/>
<line x1="582.98" y1="882.3" x2="582.98" y2="894.3" stroke="#888" stroke-width="0.8"/>
<line x1="589.55" y1="882.3" x2="589.55" y2="894.3" stroke="#222" stroke-width="0.8"/>
<line x1="592.18" y1="882.3" x2="592.18" y2="894.3" stroke="#111" stroke-width="0.8"/>
<line x1="511.51" y1="897.5" x2="511.51" y2="909.5" stroke="#333" stroke-width="0.8"/>
<line x1="516.77" y1="897.5" x2="516.77" y2="909.5" stroke="#222" stroke-width="0.8"/>
<line x1="534.37" y1="897.5" x2="534.37" y2="909.5" stroke="#444" stroke-width="0.8"/>
<line x1="539.63" y1="897.5" x2="539.63" y2="909.5" stroke="#444" stroke-width="0.8"/>
<line x1="548.30" y1="897.5" x2="548.30" y2="909.5" stroke="#888" stroke-width="0.8"/>
<line x1="554.08" y1="897.5" x2="554.08" y2="909.5" stroke="#444" stroke-width="0.8"/>
<line x1="555.39" y1="897.5" x2="555.39" y2="909.5" stroke="#444" stroke-width="0.8"/>
<line x1="556.71" y1="897.5" x2="556.71" y2="909.5" stroke="#333" stroke-width="0.8"/>
<line x1="558.02" y1="897.5" x2="558.02" y2="909.5" stroke="#111" stroke-width="0.8"/>
<line x1="559.33" y1="897.5" x2="559.33" y2="909.5" stroke="#222" stroke-width="0.8"/>
<line x1="560.65" y1="897.5" x2="560.65" y2="909.5" stroke="#111" stroke-width="0.8"/>
<line x1="563.27" y1="897.5" x2="563.27" y2="909.5" stroke="#444" stroke-width="0.8"/>
<line x1="565.90" y1="897.5" x2="565.90" y2="909.5" stroke="#888" stroke-width="0.8"/>
<line x1="571.94" y1="897.5" x2="571.94" y2="909.5" stroke="#444" stroke-width="0.8"/>
<line x1="579.04" y1="897.5" x2="579.04" y2="909.5" stroke="#666" stroke-width="0.8"/>
<line x1="585.08" y1="897.5" x2="585.08" y2="909.5" stroke="#444" stroke-width="0.8"/>
<line x1="493.12" y1="912.7" x2="493.12" y2="924.7" stroke="#111" stroke-width="0.8"/>
<line x1="525.18" y1="912.7" x2="525.18" y2="924.7" stroke="#111" stroke-width="0.8"/>
<line x1="535.69" y1="912.7" x2="535.69" y2="924.7" stroke="#444" stroke-width="0.8"/>
<line x1="540.94" y1="912.7" x2="540.94" y2="924.7" stroke="#666" stroke-width="0.8"/>
<line x1="543.04" y1="912.7" x2="543.04" y2="924.7" stroke="#444" stroke-width="0.8"/>
<line x1="548.30" y1="912.7" x2="548.30" y2="924.7" stroke="#444" stroke-width="0.8"/>
<line x1="550.14" y1="912.7" x2="550.14" y2="924.7" stroke="#222" stroke-width="0.8"/>
<line x1="564.59" y1="912.7" x2="564.59" y2="924.7" stroke="#111" stroke-width="0.8"/>
<line x1="569.84" y1="912.7" x2="569.84" y2="924.7" stroke="#222" stroke-width="0.8"/>
<line x1="574.57" y1="912.7" x2="574.57" y2="924.7" stroke="#222" stroke-width="0.8"/>
<line x1="576.41" y1="912.7" x2="576.41" y2="924.7" stroke="#222" stroke-width="0.8"/>
<line x1="580.35" y1="912.7" x2="580.35" y2="924.7" stroke="#666" stroke-width="0.8"/>
<line x1="587.71" y1="912.7" x2="587.71" y2="924.7" stroke="#888" stroke-width="0.8"/>
<line x1="589.55" y1="912.7" x2="589.55" y2="924.7" stroke="#111" stroke-width="0.8"/>
<line x1="592.18" y1="912.7" x2="592.18" y2="924.7" stroke="#888" stroke-width="0.8"/>
<line x1="493.65" y1="927.9" x2="493.65" y2="939.9" stroke="#888" stroke-width="0.8"/>
<line x1="497.59" y1="927.9" x2="497.59" y2="939.9" stroke="#888" stroke-width="0.8"/>
<line x1="503.63" y1="927.9" x2="503.63" y2="939.9" stroke="#444" stroke-width="0.8"/>
<line x1="508.10" y1="927.9" x2="508.10" y2="939.9" stroke="#111" stroke-width="0.8"/>
<line x1="515.55" y1="927.9" x2="515.55" y2="939.9" stroke="#666" stroke-width="0.8"/>
<line x1="514.11" y1="927.9" x2="514.11" y2="939.9" stroke="#111" stroke-width="0.8"/>
<line x1="519.62" y1="927.9" x2="519.62" y2="939.9" stroke="#111" stroke-width="0.8"/>
<line x1="519.71" y1="927.9" x2="519.71" y2="939.9" stroke="#222" stroke-width="0.8"/>
<line x1="516.35" y1="927.9" x2="516.35" y2="939.9" stroke="#222" stroke-width="0.8"/>
<line x1="513.97" y1="927.9" x2="513.97" y2="939.9" stroke="#666" stroke-width="0.8"/>
<line x1="519.65" y1="927.9" x2="519.65" y2="939.9" stroke="#111" stroke-width="0.8"/>
<line x1="514.48" y1="927.9" x2="514.48" y2="939.9" stroke="#888" stroke-width="0.8"/>
<line x1="514.85" y1="927.9" x2="514.85" y2="939.9" stroke="#888" stroke-width="0.8"/>
<line x1="512.05" y1="927.9" x2="512.05" y2="939.9" stroke="#333" stroke-width="0.8"/>
<line x1="515.05" y1="927.9" x2="515.05" y2="939.9" stroke="#222" stroke-width="0.8"/>
<line x1="515.78" y1="927.9" x2="515.78" y2="939.9" stroke="#888" stroke-width="0.8"/>
<line x1="516.00" y1="927.9" x2="516.00" y2="939.9" stroke="#333" stroke-width="0.8"/>
<line x1="513.62" y1="927.9" x2="513.62" y2="939.9" stroke="#666" stroke-width="0.8"/>
<line x1="529.83" y1="927.9" x2="529.83" y2="939.9" stroke="#888" stroke-width="0.8"/>
<line x1="523.92" y1="927.9" x2="523.92" y2="939.9" stroke="#444" stroke-width="0.8"/>
<line x1="526.99" y1="927.9" x2="526.99" y2="939.9" stroke="#888" stroke-width="0.8"/>
<line x1="524.92" y1="927.9" x2="524.92" y2="939.9" stroke="#111" stroke-width="0.8"/>
<line x1="528.59" y1="927.9" x2="528.59" y2="939.9" stroke="#111" stroke-width="0.8"/>
<line x1="524.35" y1="927.9" x2="524.35" y2="939.9" stroke="#111" stroke-width="0.8"/>
<line x1="524.13" y1="927.9" x2="524.13" y2="939.9" stroke="#333" stroke-width="0.8"/>
<line x1="527.46" y1="927.9" x2="527.46" y2="939.9" stroke="#666" stroke-width="0.8"/>
<line x1="526.61" y1="927.9" x2="526.61" y2="939.9" stroke="#666" stroke-width="0.8"/>
<line x1="530.79" y1="927.9" x2="530.79" y2="939.9" stroke="#222" stroke-width="0.8"/>
<line x1="530.12" y1="927.9" x2="530.12" y2="939.9" stroke="#444" stroke-width="0.8"/>
<line x1="532.74" y1="927.9" x2="532.74" y2="939.9" stroke="#333" stroke-width="0.8"/>
<line x1="531.64" y1="927.9" x2="531.64" y2="939.9" stroke="#222" stroke-width="0.8"/>
<line x1="532.33" y1="927.9" x2="532.33" y2="939.9" stroke="#666" stroke-width="0.8"/>
<line x1="534.26" y1="927.9" x2="534.26" y2="939.9" stroke="#111" stroke-width="0.8"/>
<line x1="528.47" y1="927.9" x2="528.47" y2="939.9" stroke="#111" stroke-width="0.8"/>
<line x1="527.72" y1="927.9" x2="527.72" y2="939.9" stroke="#666" stroke-width="0.8"/>
<line x1="535.51" y1="927.9" x2="535.51" y2="939.9" stroke="#333" stroke-width="0.8"/>
<line x1="525.63" y1="927.9" x2="525.63" y2="939.9" stroke="#444" stroke-width="0.8"/>
<line x1="532.42" y1="927.9" x2="532.42" y2="939.9" stroke="#333" stroke-width="0.8"/>
<line x1="531.47" y1="927.9" x2="531.47" y2="939.9" stroke="#333" stroke-width="0.8"/>
<line x1="524.38" y1="927.9" x2="524.38" y2="939.9" stroke="#888" stroke-width="0.8"/>
<line x1="533.74" y1="927.9" x2="533.74" y2="939.9" stroke="#222" stroke-width="0.8"/>
<line x1="534.41" y1="927.9" x2="534.41" y2="939.9" stroke="#444" stroke-width="0.8"/>
<line x1="531.28" y1="927.9" x2="531.28" y2="939.9" stroke="#666" stroke-width="0.8"/>
<line x1="532.54" y1="927.9" x2="532.54" y2="939.9" stroke="#222" stroke-width="0.8"/>
<line x1="553.00" y1="927.9" x2="553.00" y2="939.9" stroke="#666" stroke-width="0.8"/>
<line x1="539.74" y1="927.9" x2="539.74" y2="939.9" stroke="#222" stroke-width="0.8"/>
<line x1="547.32" y1="927.9" x2="547.32" y2="939.9" stroke="#111" stroke-width="0.8"/>
<line x1="546.94" y1="927.9" x2="546.94" y2="939.9" stroke="#444" stroke-width="0.8"/>
<line x1="553.45" y1="927.9" x2="553.45" y2="939.9" stroke="#888" stroke-width="0.8"/>
<line x1="552.86" y1="927.9" x2="552.86" y2="939.9" stroke="#888" stroke-width="0.8"/>
<line x1="553.28" y1="927.9" x2="553.28" y2="939.9" stroke="#333" stroke-width="0.8"/>
<line x1="548.51" y1="927.9" x2="548.51" y2="939.9" stroke="#111" stroke-width="0.8"/>
<line x1="554.59" y1="927.9" x2="554.59" y2="939.9" stroke="#111" stroke-width="0.8"/>
<line x1="550.46" y1="927.9" x2="550.46" y2="939.9" stroke="#222" stroke-width="0.8"/>
<line x1="550.66" y1="927.9" x2="550.66" y2="939.9" stroke="#444" stroke-width="0.8"/>
<line x1="541.53" y1="927.9" x2="541.53" y2="939.9" stroke="#888" stroke-width="0.8"/>
<line x1="537.61" y1="927.9" x2="537.61" y2="939.9" stroke="#888" stroke-width="0.8"/>
<line x1="539.62" y1="927.9" x2="539.62" y2="939.9" stroke="#444" stroke-width="0.8"/>
<line x1="544.11" y1="927.9" x2="544.11" y2="939.9" stroke="#111" stroke-width="0.8"/>
<line x1="539.07" y1="927.9" x2="539.07" y2="939.9" stroke="#333" stroke-width="0.8"/>
<line x1="553.47" y1="927.9" x2="553.47" y2="939.9" stroke="#222" stroke-width="0.8"/>
<line x1="548.01" y1="927.9" x2="548.01" y2="939.9" stroke="#888" stroke-width="0.8"/>
<line x1="549.37" y1="927.9" x2="549.37" y2="939.9" stroke="#444" stroke-width="0.8"/>
<line x1="549.34" y1="927.9" x2="549.34" y2="939.9" stroke="#333" stroke-width="0.8"/>
<line x1="550.41" y1="927.9" x2="550.41" y2="939.9" stroke="#222" stroke-width="0.8"/>
<line x1="546.64" y1="927.9" x2="546.64" y2="939.9" stroke="#444" stroke-width="0.8"/>
<line x1="537.06" y1="927.9" x2="537.06" y2="939.9" stroke="#111" stroke-width="0.8"/>
<line x1="552.72" y1="927.9" x2="552.72" y2="939.9" stroke="#888" stroke-width="0.8"/>
<line x1="551.74" y1="927.9" x2="551.74" y2="939.9" stroke="#333" stroke-width="0.8"/>
<line x1="546.91" y1="927.9" x2="546.91" y2="939.9" stroke="#888" stroke-width="0.8"/>
<line x1="547.55" y1="927.9" x2="547.55" y2="939.9" stroke="#444" stroke-width="0.8"/>
<line x1="549.99" y1="927.9" x2="549.99" y2="939.9" stroke="#333" stroke-width="0.8"/>
<line x1="538.30" y1="927.9" x2="538.30" y2="939.9" stroke="#888" stroke-width="0.8"/>
<line x1="551.52" y1="927.9" x2="551.52" y2="939.9" stroke="#444" stroke-width="0.8"/>
<line x1="541.97" y1="927.9" x2="541.97" y2="939.9" stroke="#222" stroke-width="0.8"/>
<line x1="538.47" y1="927.9" x2="538.47" y2="939.9" stroke="#111" stroke-width="0.8"/>
<line x1="542.23" y1="927.9" x2="542.23" y2="939.9" stroke="#333" stroke-width="0.8"/>
<line x1="551.37" y1="927.9" x2="551.37" y2="939.9" stroke="#888" stroke-width="0.8"/>
<line x1="541.04" y1="927.9" x2="541.04" y2="939.9" stroke="#666" stroke-width="0.8"/>
<line x1="551.58" y1="927.9" x2="551.58" y2="939.9" stroke="#111" stroke-width="0.8"/>
<line x1="561.43" y1="927.9" x2="561.43" y2="939.9" stroke="#222" stroke-width="0.8"/>
<line x1="566.69" y1="927.9" x2="566.69" y2="939.9" stroke="#444" stroke-width="0.8"/>
<line x1="487.87" y1="943.1" x2="487.87" y2="955.1" stroke="#222" stroke-width="0.8"/>
<line x1="493.12" y1="943.1" x2="493.12" y2="955.1" stroke="#333" stroke-width="0.8"/>
<line x1="520.85" y1="943.1" x2="520.85" y2="955.1" stroke="#222" stroke-width="0.8"/>
<line x1="513.26" y1="943.1" x2="513.26" y2="955.1" stroke="#222" stroke-width="0.8"/>
<line x1="511.50" y1="943.1" x2="511.50" y2="955.1" stroke="#444" stroke-width="0.8"/>
<line x1="513.02" y1="943.1" x2="513.02" y2="955.1" stroke="#222" stroke-width="0.8"/>
<line x1="516.25" y1="943.1" x2="516.25" y2="955.1" stroke="#333" stroke-width="0.8"/>
<line x1="517.56" y1="943.1" x2="517.56" y2="955.1" stroke="#333" stroke-width="0.8"/>
<line x1="515.20" y1="943.1" x2="515.20" y2="955.1" stroke="#111" stroke-width="0.8"/>
<line x1="515.60" y1="943.1" x2="515.60" y2="955.1" stroke="#666" stroke-width="0.8"/>
<line x1="506.69" y1="943.1" x2="506.69" y2="955.1" stroke="#444" stroke-width="0.8"/>
<line x1="507.79" y1="943.1" x2="507.79" y2="955.1" stroke="#666" stroke-width="0.8"/>
<line x1="509.47" y1="943.1" x2="509.47" y2="955.1" stroke="#222" stroke-width="0.8"/>
<line x1="517.19" y1="943.1" x2="517.19" y2="955.1" stroke="#222" stroke-width="0.8"/>
<line x1="510.27" y1="943.1" x2="510.27" y2="955.1" stroke="#444" stroke-width="0.8"/>
<line x1="514.42" y1="943.1" x2="514.42" y2="955.1" stroke="#444" stroke-width="0.8"/>
<line x1="505.67" y1="943.1" x2="505.67" y2="955.1" stroke="#888" stroke-width="0.8"/>
<line x1="506.43" y1="943.1" x2="506.43" y2="955.1" stroke="#111" stroke-width="0.8"/>
<line x1="509.71" y1="943.1" x2="509.71" y2="955.1" stroke="#666" stroke-width="0.8"/>
<line x1="516.06" y1="943.1" x2="516.06" y2="955.1" stroke="#222" stroke-width="0.8"/>
<line x1="516.38" y1="943.1" x2="516.38" y2="955.1" stroke="#444" stroke-width="0.8"/>
<line x1="516.12" y1="943.1" x2="516.12" y2="955.1" stroke="#111" stroke-width="0.8"/>
<line x1="510.06" y1="943.1" x2="510.06" y2="955.1" stroke="#222" stroke-width="0.8"/>
<line x1="513.61" y1="943.1" x2="513.61" y2="955.1" stroke="#111" stroke-width="0.8"/>
<line x1="523.86" y1="943.1" x2="523.86" y2="955.1" stroke="#666" stroke-width="0.8"/>
<line x1="536.88" y1="943.1" x2="536.88" y2="955.1" stroke="#222" stroke-width="0.8"/>
<line x1="536.91" y1="943.1" x2="536.91" y2="955.1" stroke="#444" stroke-width="0.8"/>
<line x1="530.51" y1="943.1" x2="530.51" y2="955.1" stroke="#111" stroke-width="0.8"/>
<line x1="544.77" y1="943.1" x2="544.77" y2="955.1" stroke="#888" stroke-width="0.8"/>
<line x1="531.99" y1="943.1" x2="531.99" y2="955.1" stroke="#111" stroke-width="0.8"/>
<line x1="546.32" y1="943.1" x2="546.32" y2="955.1" stroke="#222" stroke-width="0.8"/>
<line x1="545.55" y1="943.1" x2="545.55" y2="955.1" stroke="#444" stroke-width="0.8"/>
<line x1="528.65" y1="943.1" x2="528.65" y2="955.1" stroke="#444" stroke-width="0.8"/>
<line x1="536.77" y1="943.1" x2="536.77" y2="955.1" stroke="#888" stroke-width="0.8"/>
<line x1="543.41" y1="943.1" x2="543.41" y2="955.1" stroke="#333" stroke-width="0.8"/>
<line x1="546.13" y1="943.1" x2="546.13" y2="955.1" stroke="#888" stroke-width="0.8"/>
<line x1="536.60" y1="943.1" x2="536.60" y2="955.1" stroke="#111" stroke-width="0.8"/>
<line x1="533.27" y1="943.1" x2="533.27" y2="955.1" stroke="#111" stroke-width="0.8"/>
<line x1="532.19" y1="943.1" x2="532.19" y2="955.1" stroke="#222" stroke-width="0.8"/>
<line x1="545.72" y1="943.1" x2="545.72" y2="955.1" stroke="#333" stroke-width="0.8"/>
<line x1="532.20" y1="943.1" x2="532.20" y2="955.1" stroke="#222" stroke-width="0.8"/>
<line x1="539.02" y1="943.1" x2="539.02" y2="955.1" stroke="#222" stroke-width="0.8"/>
<line x1="530.94" y1="943.1" x2="530.94" y2="955.1" stroke="#888" stroke-width="0.8"/>
<line x1="537.97" y1="943.1" x2="537.97" y2="955.1" stroke="#666" stroke-width="0.8"/>
<line x1="545.85" y1="943.1" x2="545.85" y2="955.1" stroke="#888" stroke-width="0.8"/>
<line x1="530.77" y1="943.1" x2="530.77" y2="955.1" stroke="#444" stroke-width="0.8"/>
<line x1="543.41" y1="943.1" x2="543.41" y2="955.1" stroke="#111" stroke-width="0.8"/>
<line x1="537.69" y1="943.1" x2="537.69" y2="955.1" stroke="#333" stroke-width="0.8"/>
<line x1="544.64" y1="943.1" x2="544.64" y2="955.1" stroke="#888" stroke-width="0.8"/>
<line x1="541.26" y1="943.1" x2="541.26" y2="955.1" stroke="#888" stroke-width="0.8"/>
<line x1="532.58" y1="943.1" x2="532.58" y2="955.1" stroke="#444" stroke-width="0.8"/>
<line x1="544.84" y1="943.1" x2="544.84" y2="955.1" stroke="#333" stroke-width="0.8"/>
<line x1="537.27" y1="943.1" x2="537.27" y2="955.1" stroke="#333" stroke-width="0.8"/>
<line x1="528.79" y1="943.1" x2="528.79" y2="955.1" stroke="#444" stroke-width="0.8"/>
<line x1="528.39" y1="943.1" x2="528.39" y2="955.1" stroke="#222" stroke-width="0.8"/>
<line x1="537.37" y1="943.1" x2="537.37" y2="955.1" stroke="#111" stroke-width="0.8"/>
<line x1="536.62" y1="943.1" x2="536.62" y2="955.1" stroke="#111" stroke-width="0.8"/>
<line x1="533.88" y1="943.1" x2="533.88" y2="955.1" stroke="#111" stroke-width="0.8"/>
<line x1="530.92" y1="943.1" x2="530.92" y2="955.1" stroke="#333" stroke-width="0.8"/>
<line x1="534.66" y1="943.1" x2="534.66" y2="955.1" stroke="#111" stroke-width="0.8"/>
<line x1="534.14" y1="943.1" x2="534.14" y2="955.1" stroke="#333" stroke-width="0.8"/>
<line x1="543.78" y1="943.1" x2="543.78" y2="955.1" stroke="#444" stroke-width="0.8"/>
<line x1="528.36" y1="943.1" x2="528.36" y2="955.1" stroke="#111" stroke-width="0.8"/>
<line x1="542.14" y1="943.1" x2="542.14" y2="955.1" stroke="#666" stroke-width="0.8"/>
<line x1="543.76" y1="943.1" x2="543.76" y2="955.1" stroke="#222" stroke-width="0.8"/>
<line x1="550.34" y1="943.1" x2="550.34" y2="955.1" stroke="#444" stroke-width="0.8"/>
<line x1="560.51" y1="943.1" x2="560.51" y2="955.1" stroke="#333" stroke-width="0.8"/>
<line x1="557.82" y1="943.1" x2="557.82" y2="955.1" stroke="#333" stroke-width="0.8"/>
<line x1="560.19" y1="943.1" x2="560.19" y2="955.1" stroke="#444" stroke-width="0.8"/>
<line x1="552.48" y1="943.1" x2="552.48" y2="955.1" stroke="#111" stroke-width="0.8"/>
<line x1="553.52" y1="943.1" x2="553.52" y2="955.1" stroke="#111" stroke-width="0.8"/>
<line x1="553.78" y1="943.1" x2="553.78" y2="955.1" stroke="#888" stroke-width="0.8"/>
<line x1="561.42" y1="943.1" x2="561.42" y2="955.1" stroke="#444" stroke-width="0.8"/>
<line x1="556.25" y1="943.1" x2="556.25" y2="955.1" stroke="#222" stroke-width="0.8"/>
<line x1="553.37" y1="943.1" x2="553.37" y2="955.1" stroke="#333" stroke-width="0.8"/>
<line x1="554.22" y1="943.1" x2="554.22" y2="955.1" stroke="#666" stroke-width="0.8"/>
<line x1="552.29" y1="943.1" x2="552.29" y2="955.1" stroke="#444" stroke-width="0.8"/>
<line x1="549.43" y1="943.1" x2="549.43" y2="955.1" stroke="#222" stroke-width="0.8"/>
<line x1="550.11" y1="943.1" x2="550.11" y2="955.1" stroke="#333" stroke-width="0.8"/>
<line x1="559.35" y1="943.1" x2="559.35" y2="955.1" stroke="#333" stroke-width="0.8"/>
<line x1="552.43" y1="943.1" x2="552.43" y2="955.1" stroke="#888" stroke-width="0.8"/>
<line x1="560.62" y1="943.1" x2="560.62" y2="955.1" stroke="#444" stroke-width="0.8"/>
<line x1="551.97" y1="943.1" x2="551.97" y2="955.1" stroke="#111" stroke-width="0.8"/>
<line x1="552.17" y1="943.1" x2="552.17" y2="955.1" stroke="#888" stroke-width="0.8"/>
<line x1="555.27" y1="943.1" x2="555.27" y2="955.1" stroke="#444" stroke-width="0.8"/>
<line x1="551.22" y1="943.1" x2="551.22" y2="955.1" stroke="#222" stroke-width="0.8"/>
<line x1="553.53" y1="943.1" x2="553.53" y2="955.1" stroke="#888" stroke-width="0.8"/>
<line x1="572.57" y1="943.1" x2="572.57" y2="955.1" stroke="#444" stroke-width="0.8"/>
<line x1="571.87" y1="943.1" x2="571.87" y2="955.1" stroke="#111" stroke-width="0.8"/>
<line x1="571.17" y1="943.1" x2="571.17" y2="955.1" stroke="#444" stroke-width="0.8"/>
<line x1="569.41" y1="943.1" x2="569.41" y2="955.1" stroke="#111" stroke-width="0.8"/>
<line x1="572.15" y1="943.1" x2="572.15" y2="955.1" stroke="#444" stroke-width="0.8"/>
<line x1="572.42" y1="943.1" x2="572.42" y2="955.1" stroke="#111" stroke-width="0.8"/>
<line x1="568.61" y1="943.1" x2="568.61" y2="955.1" stroke="#111" stroke-width="0.8"/>
<line x1="570.27" y1="943.1" x2="570.27" y2="955.1" stroke="#333" stroke-width="0.8"/>
<line x1="563.75" y1="943.1" x2="563.75" y2="955.1" stroke="#222" stroke-width="0.8"/>
<line x1="570.39" y1="943.1" x2="570.39" y2="955.1" stroke="#888" stroke-width="0.8"/>
<line x1="567.66" y1="943.1" x2="567.66" y2="955.1" stroke="#111" stroke-width="0.8"/>
<line x1="570.59" y1="943.1" x2="570.59" y2="955.1" stroke="#666" stroke-width="0.8"/>
<line x1="569.54" y1="943.1" x2="569.54" y2="955.1" stroke="#333" stroke-width="0.8"/>
<line x1="566.06" y1="943.1" x2="566.06" y2="955.1" stroke="#333" stroke-width="0.8"/>
<line x1="563.75" y1="943.1" x2="563.75" y2="955.1" stroke="#333" stroke-width="0.8"/>
<line x1="572.28" y1="943.1" x2="572.28" y2="955.1" stroke="#333" stroke-width="0.8"/>
<line x1="579.04" y1="943.1" x2="579.04" y2="955.1" stroke="#666" stroke-width="0.8"/>
<line x1="590.86" y1="943.1" x2="590.86" y2="955.1" stroke="#111" stroke-width="0.8"/>
<line x1="486.29" y1="958.3" x2="486.29" y2="970.3" stroke="#333" stroke-width="0.8"/>
<line x1="507.31" y1="958.3" x2="507.31" y2="970.3" stroke="#888" stroke-width="0.8"/>
<line x1="517.82" y1="958.3" x2="517.82" y2="970.3" stroke="#888" stroke-width="0.8"/>
<line x1="519.92" y1="958.3" x2="519.92" y2="970.3" stroke="#888" stroke-width="0.8"/>
<line x1="530.96" y1="958.3" x2="530.96" y2="970.3" stroke="#333" stroke-width="0.8"/>
<line x1="533.06" y1="958.3" x2="533.06" y2="970.3" stroke="#333" stroke-width="0.8"/>
<line x1="534.37" y1="958.3" x2="534.37" y2="970.3" stroke="#333" stroke-width="0.8"/>
<line x1="535.69" y1="958.3" x2="535.69" y2="970.3" stroke="#111" stroke-width="0.8"/>
<line x1="537.00" y1="958.3" x2="537.00" y2="970.3" stroke="#888" stroke-width="0.8"/>
<line x1="540.94" y1="958.3" x2="540.94" y2="970.3" stroke="#666" stroke-width="0.8"/>
<line x1="543.57" y1="958.3" x2="543.57" y2="970.3" stroke="#888" stroke-width="0.8"/>
<line x1="546.20" y1="958.3" x2="546.20" y2="970.3" stroke="#111" stroke-width="0.8"/>
<line x1="550.14" y1="958.3" x2="550.14" y2="970.3" stroke="#111" stroke-width="0.8"/>
<line x1="566.69" y1="958.3" x2="566.69" y2="970.3" stroke="#222" stroke-width="0.8"/>
<line x1="568.53" y1="958.3" x2="568.53" y2="970.3" stroke="#111" stroke-width="0.8"/>
<line x1="575.10" y1="958.3" x2="575.10" y2="970.3" stroke="#444" stroke-width="0.8"/>
<line x1="578.25" y1="958.3" x2="578.25" y2="970.3" stroke="#888" stroke-width="0.8"/>
<line x1="591.39" y1="958.3" x2="591.39" y2="970.3" stroke="#444" stroke-width="0.8"/>
<line x1="593.49" y1="958.3" x2="593.49" y2="970.3" stroke="#444" stroke-width="0.8"/>
<line x1="493.12" y1="973.5" x2="493.12" y2="985.5" stroke="#333" stroke-width="0.8"/>
<line x1="496.27" y1="973.5" x2="496.27" y2="985.5" stroke="#444" stroke-width="0.8"/>
<line x1="504.16" y1="973.5" x2="504.16" y2="985.5" stroke="#444" stroke-width="0.8"/>
<line x1="510.73" y1="973.5" x2="510.73" y2="985.5" stroke="#222" stroke-width="0.8"/>
<line x1="513.35" y1="973.5" x2="513.35" y2="985.5" stroke="#444" stroke-width="0.8"/>
<line x1="515.98" y1="973.5" x2="515.98" y2="985.5" stroke="#222" stroke-width="0.8"/>
<line x1="518.61" y1="973.5" x2="518.61" y2="985.5" stroke="#111" stroke-width="0.8"/>
<line x1="520.45" y1="973.5" x2="520.45" y2="985.5" stroke="#888" stroke-width="0.8"/>
<line x1="524.65" y1="973.5" x2="524.65" y2="985.5" stroke="#333" stroke-width="0.8"/>
<line x1="527.28" y1="973.5" x2="527.28" y2="985.5" stroke="#888" stroke-width="0.8"/>
<line x1="531.63" y1="973.5" x2="531.63" y2="985.5" stroke="#222" stroke-width="0.8"/>
<line x1="533.44" y1="973.5" x2="533.44" y2="985.5" stroke="#666" stroke-width="0.8"/>
<line x1="532.76" y1="973.5" x2="532.76" y2="985.5" stroke="#222" stroke-width="0.8"/>
<line x1="532.52" y1="973.5" x2="532.52" y2="985.5" stroke="#333" stroke-width="0.8"/>
<line x1="534.84" y1="973.5" x2="534.84" y2="985.5" stroke="#333" stroke-width="0.8"/>
<line x1="536.09" y1="973.5" x2="536.09" y2="985.5" stroke="#444" stroke-width="0.8"/>
<line x1="532.32" y1="973.5" x2="532.32" y2="985.5" stroke="#333" stroke-width="0.8"/>
<line x1="534.40" y1="973.5" x2="534.40" y2="985.5" stroke="#666" stroke-width="0.8"/>
<line x1="532.54" y1="973.5" x2="532.54" y2="985.5" stroke="#111" stroke-width="0.8"/>
<line x1="533.89" y1="973.5" x2="533.89" y2="985.5" stroke="#666" stroke-width="0.8"/>
<line x1="533.03" y1="973.5" x2="533.03" y2="985.5" stroke="#222" stroke-width="0.8"/>
<line x1="531.84" y1="973.5" x2="531.84" y2="985.5" stroke="#444" stroke-width="0.8"/>
<line x1="540.79" y1="973.5" x2="540.79" y2="985.5" stroke="#222" stroke-width="0.8"/>
<line x1="541.35" y1="973.5" x2="541.35" y2="985.5" stroke="#222" stroke-width="0.8"/>
<line x1="549.79" y1="973.5" x2="549.79" y2="985.5" stroke="#444" stroke-width="0.8"/>
<line x1="544.85" y1="973.5" x2="544.85" y2="985.5" stroke="#111" stroke-width="0.8"/>
<line x1="541.50" y1="973.5" x2="541.50" y2="985.5" stroke="#888" stroke-width="0.8"/>
<line x1="549.79" y1="973.5" x2="549.79" y2="985.5" stroke="#111" stroke-width="0.8"/>
<line x1="550.88" y1="973.5" x2="550.88" y2="985.5" stroke="#444" stroke-width="0.8"/>
<line x1="544.28" y1="973.5" x2="544.28" y2="985.5" stroke="#666" stroke-width="0.8"/>
<line x1="540.53" y1="973.5" x2="540.53" y2="985.5" stroke="#666" stroke-width="0.8"/>
<line x1="541.16" y1="973.5" x2="541.16" y2="985.5" stroke="#333" stroke-width="0.8"/>
<line x1="539.94" y1="973.5" x2="539.94" y2="985.5" stroke="#222" stroke-width="0.8"/>
<line x1="542.97" y1="973.5" x2="542.97" y2="985.5" stroke="#444" stroke-width="0.8"/>
<line x1="539.94" y1="973.5" x2="539.94" y2="985.5" stroke="#111" stroke-width="0.8"/>
<line x1="541.73" y1="973.5" x2="541.73" y2="985.5" stroke="#111" stroke-width="0.8"/>
<line x1="541.96" y1="973.5" x2="541.96" y2="985.5" stroke="#333" stroke-width="0.8"/>
<line x1="545.72" y1="973.5" x2="545.72" y2="985.5" stroke="#666" stroke-width="0.8"/>
<line x1="555.39" y1="973.5" x2="555.39" y2="985.5" stroke="#111" stroke-width="0.8"/>
<line x1="564.06" y1="973.5" x2="564.06" y2="985.5" stroke="#222" stroke-width="0.8"/>
<line x1="567.74" y1="973.5" x2="567.74" y2="985.5" stroke="#111" stroke-width="0.8"/>
<line x1="568.79" y1="973.5" x2="568.79" y2="985.5" stroke="#444" stroke-width="0.8"/>
<line x1="569.84" y1="973.5" x2="569.84" y2="985.5" stroke="#444" stroke-width="0.8"/>
<line x1="573.78" y1="973.5" x2="573.78" y2="985.5" stroke="#888" stroke-width="0.8"/>
<line x1="576.41" y1="973.5" x2="576.41" y2="985.5" stroke="#444" stroke-width="0.8"/>
<line x1="591.39" y1="973.5" x2="591.39" y2="985.5" stroke="#222" stroke-width="0.8"/>
</svg>
</body></html>
